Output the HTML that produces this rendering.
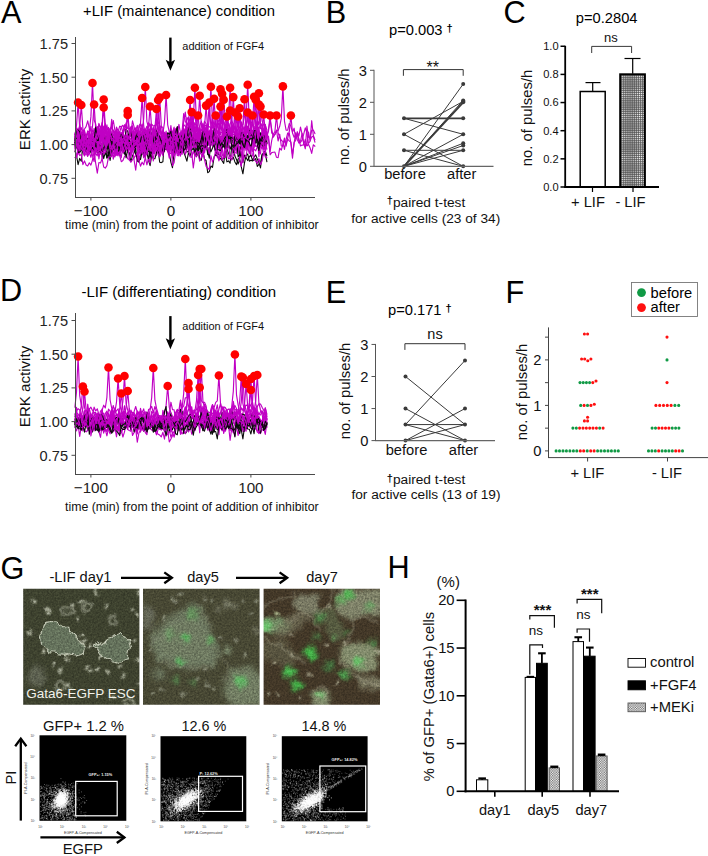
<!DOCTYPE html>
<html><head><meta charset="utf-8"><title>Figure</title>
<style>
html,body{margin:0;padding:0;background:#fff;}
svg{display:block;font-family:"Liberation Sans", Arial, Helvetica, sans-serif;}
</style></head><body>
<svg width="708" height="856" viewBox="0 0 708 856">
<defs>
<pattern id="hatch" width="2.1" height="2.1" patternUnits="userSpaceOnUse"><rect width="2.1" height="2.1" fill="#4c4c4c"/><rect x="0.5" y="0.5" width="1.15" height="1.15" fill="#fff"/></pattern>
<pattern id="hatch2" width="2.4" height="2.4" patternUnits="userSpaceOnUse"><rect width="2.4" height="2.4" fill="#fff"/><rect width="1.2" height="1.2" fill="#666"/><rect x="1.2" y="1.2" width="1.2" height="1.2" fill="#666"/></pattern>
</defs>
<rect width="708" height="856" fill="#fff"/>

<text x="1" y="22.8" font-size="30.7" text-anchor="start" fill="#000" >A</text>
<text x="83" y="15.5" font-size="14.8" text-anchor="start" fill="#000" >+LIF (maintenance) condition</text>
<g stroke-linejoin="round" stroke-linecap="round">
<polyline points="74.9,135.3 76.5,125.7 78.1,102.5 79.7,127.8 81.3,134.1 82.9,136.1 84.5,139.0 86.1,139.4 87.7,140.8 89.3,143.7 90.9,137.2 92.5,135.2 94.1,131.7 95.7,134.5 97.3,134.7 98.9,124.9 100.5,127.2 102.1,129.9 103.7,137.5 105.3,129.2 106.9,134.4 108.5,131.9 110.1,128.9 111.7,126.7 113.3,131.2 114.9,132.8 116.5,141.4 118.1,137.9 119.7,144.2 121.3,132.3 122.9,138.6 124.5,137.0 126.1,137.5 127.7,142.0 129.3,139.8 130.9,131.3 132.5,126.1 134.1,140.6 135.7,136.5 137.3,136.3 138.9,148.0 140.5,145.2 142.1,134.8 143.7,133.1 145.3,138.6 146.9,130.1 148.5,138.5 150.1,142.8 151.7,135.8 153.3,127.0 154.9,135.5 156.5,130.0 158.1,125.5 159.7,138.0 161.3,135.3 162.9,137.1 164.5,142.1 166.1,141.4 167.7,136.5 169.3,133.1 170.9,128.6 172.5,136.0 174.1,140.8 175.7,128.6 177.3,136.8 178.9,134.6 180.5,132.8 182.1,144.7 183.7,128.1 185.3,133.2 186.9,125.6 188.5,121.6 190.1,120.1 191.7,112.3 193.3,128.5 194.9,122.5 196.5,127.1 198.1,115.5 199.7,132.1 201.3,136.2 202.9,128.5 204.5,121.2 206.1,123.8 207.7,131.6 209.3,133.6 210.9,131.2 212.5,122.1 214.1,128.3 215.7,124.9 217.3,125.1 218.9,119.7 220.5,89.2 222.1,122.4 223.7,130.8 225.3,127.2 226.9,124.1 228.5,131.6 230.1,123.8 231.7,120.4 233.3,124.4 234.9,128.9 236.5,128.9 238.1,124.7 239.7,128.0 241.3,126.0 242.9,124.9 244.5,116.4 246.1,108.3 247.7,115.9 249.3,118.1 250.9,128.0 252.5,139.5 254.1,129.3 255.7,125.6 257.3,120.9 258.9,125.4 260.5,106.6 262.1,121.0 263.7,125.3 265.3,132.7 266.9,134.4 268.5,131.0 270.1,119.8 271.7,129.0 273.3,137.1 274.9,134.5 276.5,130.6 278.1,130.6 279.7,126.3 281.3,118.4 282.9,86.4 284.5,121.3 286.1,130.1 287.7,130.2 289.3,123.5 290.9,126.3 292.5,132.4 294.1,128.2 295.7,139.1 297.3,131.7 298.9,136.0 300.5,127.1 302.1,134.3 303.7,143.0 305.3,148.8 306.9,126.0 308.5,137.2 310.1,138.0 311.7,130.2 313.3,130.0 314.9,133.6" fill="none" stroke="#c000c4" stroke-width="1.15" />
<polyline points="74.9,143.4 76.5,139.0 78.1,135.9 79.7,126.8 81.3,105.0 82.9,128.8 84.5,134.7 86.1,138.7 87.7,155.7 89.3,153.7 90.9,140.0 92.5,146.0 94.1,140.6 95.7,133.1 97.3,136.8 98.9,148.8 100.5,154.2 102.1,148.9 103.7,136.3 105.3,138.8 106.9,140.2 108.5,144.2 110.1,140.6 111.7,148.1 113.3,159.2 114.9,151.4 116.5,152.7 118.1,149.9 119.7,141.8 121.3,138.3 122.9,133.7 124.5,140.2 126.1,140.6 127.7,138.0 129.3,142.9 130.9,141.3 132.5,145.1 134.1,141.2 135.7,137.6 137.3,146.0 138.9,154.3 140.5,145.2 142.1,147.8 143.7,142.2 145.3,143.4 146.9,134.0 148.5,142.6 150.1,142.1 151.7,144.1 153.3,146.0 154.9,137.0 156.5,155.4 158.1,146.8 159.7,139.2 161.3,137.0 162.9,147.1 164.5,140.8 166.1,147.7 167.7,136.0 169.3,142.5 170.9,139.9 172.5,147.4 174.1,153.0 175.7,146.1 177.3,143.4 178.9,148.8 180.5,156.2 182.1,143.8 183.7,137.6 185.3,130.6 186.9,144.5 188.5,144.2 190.1,140.4 191.7,135.8 193.3,137.7 194.9,139.6 196.5,148.0 198.1,150.8 199.7,152.9 201.3,150.9 202.9,136.0 204.5,127.0 206.1,105.6 207.7,129.0 209.3,134.6 210.9,132.2 212.5,142.4 214.1,132.4 215.7,141.9 217.3,131.8 218.9,133.4 220.5,121.7 222.1,93.7 223.7,124.2 225.3,131.9 226.9,136.7 228.5,147.3 230.1,148.9 231.7,143.7 233.3,146.4 234.9,140.4 236.5,135.5 238.1,146.8 239.7,148.7 241.3,149.3 242.9,137.0 244.5,142.4 246.1,144.4 247.7,146.5 249.3,142.6 250.9,156.5 252.5,156.0 254.1,145.3 255.7,138.7 257.3,138.1 258.9,156.7 260.5,138.0 262.1,131.1 263.7,114.5 265.3,132.6 266.9,137.1 268.5,138.9 270.1,154.8 271.7,152.6 273.3,152.2 274.9,152.1 276.5,157.3 278.1,157.7 279.7,148.2 281.3,150.1 282.9,144.3 284.5,138.0 286.1,146.1 287.7,138.2 289.3,131.5 290.9,115.5 292.5,133.0 294.1,137.3 295.7,134.9 297.3,134.2 298.9,138.8 300.5,145.9 302.1,145.1 303.7,144.9 305.3,139.3 306.9,146.0 308.5,144.3 310.1,147.9 311.7,153.4 313.3,144.8 314.9,146.2" fill="none" stroke="#c000c4" stroke-width="1.15" />
<polyline points="74.9,138.5 76.5,132.0 78.1,138.1 79.7,141.1 81.3,142.7 82.9,150.7 84.5,150.2 86.1,146.4 87.7,140.2 89.3,131.0 90.9,116.9 92.5,83.0 94.1,120.0 95.7,123.9 97.3,135.4 98.9,141.6 100.5,131.7 102.1,122.5 103.7,133.9 105.3,139.1 106.9,136.8 108.5,140.2 110.1,136.7 111.7,141.6 113.3,130.5 114.9,133.4 116.5,153.8 118.1,155.8 119.7,138.2 121.3,135.7 122.9,143.7 124.5,135.9 126.1,138.1 127.7,137.7 129.3,135.4 130.9,134.1 132.5,131.6 134.1,132.3 135.7,134.5 137.3,143.3 138.9,140.2 140.5,150.8 142.1,151.5 143.7,137.8 145.3,149.3 146.9,139.5 148.5,144.9 150.1,147.4 151.7,145.9 153.3,136.6 154.9,138.2 156.5,140.0 158.1,134.0 159.7,128.5 161.3,134.9 162.9,131.3 164.5,133.5 166.1,144.7 167.7,147.2 169.3,132.3 170.9,131.6 172.5,132.4 174.1,129.1 175.7,136.5 177.3,127.1 178.9,135.5 180.5,135.3 182.1,132.6 183.7,124.5 185.3,126.4 186.9,128.8 188.5,137.3 190.1,136.1 191.7,132.1 193.3,128.8 194.9,128.7 196.5,146.2 198.1,135.4 199.7,138.9 201.3,140.0 202.9,137.3 204.5,144.8 206.1,135.4 207.7,125.7 209.3,102.6 210.9,127.8 212.5,133.8 214.1,134.5 215.7,130.9 217.3,119.0 218.9,134.5 220.5,134.7 222.1,124.4 223.7,99.7 225.3,119.3 226.9,130.0 228.5,135.3 230.1,128.1 231.7,131.0 233.3,142.0 234.9,136.3 236.5,140.4 238.1,134.0 239.7,131.9 241.3,145.4 242.9,129.8 244.5,127.2 246.1,140.8 247.7,135.1 249.3,136.1 250.9,132.9 252.5,139.9 254.1,142.3 255.7,146.1 257.3,146.6 258.9,134.8 260.5,133.1 262.1,136.3 263.7,133.6 265.3,140.7 266.9,138.2 268.5,129.3 270.1,115.5 271.7,133.0 273.3,134.2 274.9,134.5 276.5,130.0 278.1,141.0 279.7,134.2 281.3,146.0 282.9,146.2 284.5,140.9 286.1,143.4 287.7,139.1 289.3,141.0 290.9,142.0 292.5,154.3 294.1,143.5 295.7,132.7 297.3,139.4 298.9,143.1 300.5,142.4 302.1,140.0 303.7,134.2 305.3,127.8 306.9,133.1 308.5,143.5 310.1,141.1 311.7,120.7 313.3,135.3 314.9,139.8" fill="none" stroke="#c000c4" stroke-width="1.15" />
<polyline points="74.9,141.8 76.5,137.9 78.1,131.3 79.7,142.5 81.3,140.1 82.9,141.0 84.5,138.5 86.1,145.8 87.7,146.9 89.3,144.1 90.9,135.8 92.5,126.6 94.1,104.5 95.7,128.6 97.3,134.6 98.9,133.5 100.5,142.4 102.1,144.7 103.7,139.0 105.3,147.4 106.9,142.3 108.5,134.3 110.1,143.1 111.7,146.5 113.3,141.3 114.9,134.2 116.5,139.5 118.1,132.5 119.7,139.8 121.3,135.3 122.9,141.3 124.5,146.3 126.1,147.8 127.7,147.1 129.3,138.6 130.9,139.0 132.5,137.6 134.1,140.2 135.7,141.3 137.3,136.8 138.9,143.2 140.5,138.2 142.1,133.4 143.7,133.1 145.3,138.5 146.9,133.3 148.5,129.3 150.1,136.3 151.7,140.7 153.3,135.5 154.9,144.2 156.5,140.7 158.1,151.4 159.7,148.7 161.3,145.1 162.9,142.8 164.5,138.5 166.1,133.7 167.7,136.8 169.3,143.7 170.9,138.1 172.5,137.7 174.1,143.0 175.7,142.9 177.3,145.8 178.9,152.1 180.5,142.1 182.1,131.8 183.7,136.5 185.3,142.1 186.9,144.3 188.5,137.4 190.1,130.0 191.7,112.1 193.3,131.6 194.9,134.9 196.5,127.7 198.1,136.6 199.7,138.2 201.3,144.6 202.9,134.6 204.5,134.4 206.1,133.3 207.7,138.7 209.3,137.2 210.9,134.1 212.5,123.9 214.1,98.7 215.7,126.2 217.3,133.1 218.9,127.5 220.5,106.6 222.1,125.7 223.7,135.1 225.3,134.1 226.9,129.7 228.5,122.7 230.1,136.1 231.7,135.9 233.3,130.4 234.9,134.2 236.5,133.9 238.1,133.2 239.7,133.6 241.3,121.8 242.9,130.8 244.5,146.1 246.1,148.5 247.7,136.7 249.3,137.6 250.9,132.7 252.5,139.2 254.1,143.1 255.7,135.8 257.3,126.6 258.9,104.6 260.5,128.6 262.1,128.3 263.7,136.6 265.3,138.0 266.9,134.8 268.5,136.4 270.1,151.6 271.7,140.6 273.3,134.2 274.9,131.5 276.5,115.5 278.1,133.0 279.7,137.3 281.3,140.2 282.9,141.6 284.5,149.4 286.1,139.5 287.7,133.0 289.3,133.4 290.9,143.7 292.5,158.2 294.1,142.3 295.7,140.3 297.3,133.6 298.9,141.1 300.5,141.3 302.1,133.3 303.7,144.0 305.3,145.3 306.9,145.2 308.5,132.1 310.1,140.7 311.7,136.9 313.3,136.2 314.9,142.2" fill="none" stroke="#c000c4" stroke-width="1.15" />
<polyline points="74.9,134.9 76.5,127.8 78.1,137.5 79.7,131.8 81.3,137.1 82.9,132.1 84.5,129.0 86.1,126.6 87.7,120.9 89.3,128.1 90.9,144.4 92.5,141.1 94.1,137.1 95.7,130.6 97.3,126.5 98.9,133.3 100.5,133.0 102.1,124.3 103.7,99.5 105.3,126.6 106.9,133.3 108.5,137.8 110.1,132.3 111.7,125.6 113.3,132.4 114.9,132.4 116.5,144.4 118.1,132.9 119.7,131.7 121.3,134.7 122.9,152.0 124.5,150.9 126.1,146.5 127.7,143.6 129.3,139.6 130.9,138.9 132.5,138.2 134.1,147.7 135.7,132.8 137.3,142.8 138.9,133.1 140.5,128.9 142.1,124.1 143.7,131.2 145.3,130.3 146.9,126.3 148.5,133.2 150.1,133.6 151.7,124.2 153.3,126.2 154.9,125.1 156.5,133.2 158.1,133.0 159.7,125.2 161.3,131.6 162.9,137.6 164.5,134.2 166.1,145.9 167.7,136.1 169.3,137.3 170.9,125.5 172.5,140.1 174.1,143.6 175.7,145.5 177.3,142.4 178.9,138.4 180.5,139.2 182.1,130.0 183.7,130.6 185.3,140.1 186.9,120.0 188.5,117.2 190.1,120.9 191.7,115.9 193.3,121.4 194.9,132.9 196.5,138.4 198.1,131.3 199.7,125.9 201.3,121.4 202.9,126.4 204.5,126.3 206.1,125.2 207.7,137.2 209.3,132.2 210.9,127.7 212.5,114.7 214.1,118.3 215.7,115.5 217.3,122.3 218.9,125.0 220.5,122.8 222.1,123.6 223.7,120.6 225.3,126.1 226.9,121.8 228.5,124.0 230.1,127.2 231.7,134.6 233.3,138.4 234.9,133.5 236.5,120.2 238.1,125.4 239.7,132.4 241.3,136.2 242.9,133.1 244.5,136.1 246.1,126.6 247.7,119.1 249.3,114.8 250.9,121.2 252.5,124.8 254.1,131.7 255.7,128.3 257.3,132.7 258.9,136.7 260.5,137.4 262.1,141.7 263.7,130.0 265.3,125.1 266.9,130.0" fill="none" stroke="#c000c4" stroke-width="1.15" />
<polyline points="74.9,144.3 76.5,135.0 78.1,139.2 79.7,146.6 81.3,143.0 82.9,152.2 84.5,146.6 86.1,140.0 87.7,149.8 89.3,153.4 90.9,147.7 92.5,133.5 94.1,144.9 95.7,138.8 97.3,134.2 98.9,141.8 100.5,136.4 102.1,127.9 103.7,107.5 105.3,129.8 106.9,135.3 108.5,139.0 110.1,148.9 111.7,156.1 113.3,148.1 114.9,144.5 116.5,146.0 118.1,143.3 119.7,155.6 121.3,147.2 122.9,144.4 124.5,143.6 126.1,136.0 127.7,142.8 129.3,149.0 130.9,145.9 132.5,141.4 134.1,148.9 135.7,145.6 137.3,144.5 138.9,134.0 140.5,131.3 142.1,146.9 143.7,146.2 145.3,151.5 146.9,146.3 148.5,146.7 150.1,159.7 151.7,138.8 153.3,132.1 154.9,146.0 156.5,138.2 158.1,133.1 159.7,142.1 161.3,139.5 162.9,147.3 164.5,139.9 166.1,143.2 167.7,134.0 169.3,141.8 170.9,143.8 172.5,148.8 174.1,143.2 175.7,138.5 177.3,148.9 178.9,146.0 180.5,147.5 182.1,154.5 183.7,142.4 185.3,136.3 186.9,137.3 188.5,144.8 190.1,134.2 191.7,142.1 193.3,140.4 194.9,139.7 196.5,143.4 198.1,146.8 199.7,134.3 201.3,132.6 202.9,132.6 204.5,133.2 206.1,143.1 207.7,134.0 209.3,145.1 210.9,143.8 212.5,146.2 214.1,138.6 215.7,142.1 217.3,136.8 218.9,147.2 220.5,137.5 222.1,136.4 223.7,136.2 225.3,132.0 226.9,116.5 228.5,133.4 230.1,137.6 231.7,140.4 233.3,144.8 234.9,140.2 236.5,151.3 238.1,145.6 239.7,141.3 241.3,140.1 242.9,138.5 244.5,146.3 246.1,132.0 247.7,145.3 249.3,129.6 250.9,134.4 252.5,150.4 254.1,149.4 255.7,150.8 257.3,147.0 258.9,138.0 260.5,138.6 262.1,136.0 263.7,130.1 265.3,142.8 266.9,142.8" fill="none" stroke="#c000c4" stroke-width="1.15" />
<polyline points="74.9,137.1 76.5,129.6 78.1,141.1 79.7,132.1 81.3,137.5 82.9,146.9 84.5,155.5 86.1,142.5 87.7,144.6 89.3,140.9 90.9,134.2 92.5,136.9 94.1,128.3 95.7,132.5 97.3,133.2 98.9,127.0 100.5,133.5 102.1,141.6 103.7,126.2 105.3,133.1 106.9,124.8 108.5,135.3 110.1,131.5 111.7,127.0 113.3,120.5 114.9,130.2 116.5,136.5 118.1,140.3 119.7,132.2 121.3,126.7 122.9,125.3 124.5,129.8 126.1,129.5 127.7,111.0 129.3,131.2 130.9,133.8 132.5,135.4 134.1,143.8 135.7,128.9 137.3,132.6 138.9,144.1 140.5,151.7 142.1,143.5 143.7,149.8 145.3,152.8 146.9,142.9 148.5,136.9 150.1,139.8 151.7,149.0 153.3,147.5 154.9,144.8 156.5,142.9 158.1,142.4 159.7,142.9 161.3,135.4 162.9,138.9 164.5,144.2 166.1,141.8 167.7,138.9 169.3,145.9 170.9,140.9 172.5,137.2 174.1,137.8 175.7,131.8 177.3,127.3 178.9,143.9 180.5,141.7 182.1,143.5 183.7,134.1 185.3,131.7 186.9,135.0 188.5,139.2 190.1,134.7 191.7,135.0 193.3,136.4 194.9,132.4 196.5,130.1 198.1,127.7 199.7,137.4 201.3,139.5 202.9,139.2 204.5,129.4 206.1,127.2 207.7,141.7 209.3,135.1 210.9,133.8 212.5,134.0 214.1,136.0 215.7,155.0 217.3,151.2 218.9,154.1 220.5,136.5 222.1,136.1 223.7,131.4 225.3,132.6 226.9,132.1 228.5,119.0 230.1,87.8 231.7,121.9 233.3,130.4 234.9,136.1 236.5,133.3 238.1,137.6 239.7,138.4 241.3,136.0 242.9,140.6 244.5,144.3 246.1,150.6 247.7,139.1 249.3,141.6 250.9,134.5 252.5,131.4 254.1,138.2 255.7,133.9 257.3,133.0 258.9,126.6 260.5,142.6 262.1,140.6 263.7,131.7 265.3,139.3 266.9,139.3" fill="none" stroke="#c000c4" stroke-width="1.15" />
<polyline points="74.9,143.9 76.5,135.3 78.1,151.0 79.7,149.7 81.3,136.9 82.9,145.1 84.5,145.0 86.1,140.6 87.7,143.6 89.3,142.3 90.9,141.1 92.5,139.8 94.1,144.5 95.7,140.7 97.3,138.4 98.9,137.2 100.5,147.9 102.1,142.3 103.7,138.7 105.3,145.8 106.9,146.4 108.5,147.0 110.1,155.6 111.7,149.2 113.3,144.2 114.9,145.9 116.5,148.1 118.1,147.1 119.7,152.5 121.3,151.0 122.9,148.5 124.5,138.1 126.1,131.3 127.7,115.0 129.3,132.8 130.9,135.6 132.5,139.7 134.1,144.6 135.7,139.0 137.3,140.7 138.9,136.4 140.5,133.8 142.1,138.7 143.7,145.7 145.3,141.2 146.9,141.0 148.5,145.3 150.1,146.6 151.7,147.5 153.3,139.5 154.9,129.6 156.5,138.3 158.1,150.1 159.7,155.9 161.3,146.7 162.9,140.7 164.5,143.2 166.1,135.3 167.7,144.4 169.3,143.0 170.9,143.7 172.5,153.6 174.1,144.7 175.7,146.1 177.3,144.0 178.9,149.1 180.5,145.1 182.1,145.6 183.7,149.9 185.3,149.8 186.9,146.5 188.5,146.5 190.1,149.5 191.7,139.6 193.3,144.0 194.9,137.9 196.5,144.2 198.1,133.4 199.7,139.3 201.3,141.4 202.9,144.0 204.5,153.2 206.1,143.4 207.7,136.9 209.3,136.1 210.9,137.4 212.5,141.1 214.1,140.8 215.7,141.0 217.3,143.5 218.9,137.7 220.5,150.0 222.1,137.8 223.7,130.7 225.3,139.2 226.9,150.2 228.5,144.8 230.1,134.2 231.7,123.2 233.3,97.1 234.9,125.6 236.5,132.7 238.1,137.5 239.7,158.6 241.3,140.9 242.9,150.3 244.5,142.0 246.1,134.9 247.7,140.9 249.3,142.1 250.9,154.2 252.5,134.0 254.1,146.0 255.7,146.0 257.3,145.8 258.9,143.5 260.5,141.6 262.1,145.7 263.7,147.6 265.3,135.9 266.9,143.3" fill="none" stroke="#c000c4" stroke-width="1.15" />
<polyline points="74.9,139.0 76.5,148.4 78.1,139.8 79.7,126.5 81.3,135.7 82.9,141.5 84.5,130.4 86.1,137.5 87.7,130.8 89.3,136.5 90.9,140.7 92.5,129.9 94.1,133.7 95.7,142.1 97.3,150.6 98.9,145.6 100.5,141.4 102.1,134.3 103.7,142.1 105.3,142.9 106.9,138.3 108.5,135.7 110.1,142.6 111.7,136.5 113.3,139.6 114.9,146.4 116.5,130.9 118.1,142.1 119.7,132.9 121.3,135.7 122.9,134.6 124.5,140.8 126.1,139.0 127.7,137.3 129.3,137.0 130.9,126.7 132.5,125.9 134.1,136.6 135.7,142.4 137.3,147.0 138.9,125.9 140.5,123.6 142.1,98.0 143.7,126.0 145.3,133.0 146.9,137.6 148.5,135.7 150.1,138.9 151.7,138.1 153.3,139.3 154.9,141.0 156.5,145.1 158.1,135.7 159.7,136.9 161.3,143.1 162.9,143.0 164.5,134.3 166.1,144.1 167.7,140.1 169.3,134.8 170.9,133.3 172.5,135.1 174.1,131.2 175.7,133.6 177.3,147.6 178.9,147.2 180.5,144.5 182.1,142.9 183.7,140.8 185.3,132.1 186.9,117.7 188.5,118.7 190.1,131.5 191.7,130.8 193.3,120.2 194.9,115.6 196.5,127.3 198.1,130.7 199.7,132.2 201.3,138.9 202.9,123.5 204.5,132.1 206.1,142.2 207.7,131.6 209.3,138.4 210.9,128.1 212.5,127.5 214.1,119.5 215.7,137.3 217.3,133.4 218.9,129.1 220.5,124.6 222.1,119.2 223.7,122.5 225.3,128.0 226.9,124.8 228.5,116.6 230.1,110.5 231.7,131.0 233.3,127.1 234.9,127.4 236.5,128.8 238.1,131.3 239.7,133.0 241.3,130.2 242.9,126.1 244.5,131.7 246.1,124.7 247.7,118.3 249.3,110.3 250.9,127.1 252.5,124.2 254.1,126.6 255.7,127.9 257.3,120.5 258.9,122.9 260.5,123.0 262.1,125.2 263.7,129.6 265.3,135.0 266.9,130.8" fill="none" stroke="#c000c4" stroke-width="1.15" />
<polyline points="74.9,139.1 76.5,144.5 78.1,152.4 79.7,148.0 81.3,135.5 82.9,136.6 84.5,134.4 86.1,147.1 87.7,139.9 89.3,135.7 90.9,126.4 92.5,141.6 94.1,145.6 95.7,146.5 97.3,143.6 98.9,153.2 100.5,134.9 102.1,138.2 103.7,135.9 105.3,144.2 106.9,147.7 108.5,143.7 110.1,148.6 111.7,133.1 113.3,141.9 114.9,146.6 116.5,134.6 118.1,138.5 119.7,144.5 121.3,146.5 122.9,142.8 124.5,147.1 126.1,146.1 127.7,146.9 129.3,140.6 130.9,149.5 132.5,146.0 134.1,131.5 135.7,133.3 137.3,134.5 138.9,128.7 140.5,123.6 142.1,131.9 143.7,118.7 145.3,87.0 146.9,121.6 148.5,127.4 150.1,123.9 151.7,129.9 153.3,128.3 154.9,140.7 156.5,144.8 158.1,149.6 159.7,141.7 161.3,141.6 162.9,144.2 164.5,138.3 166.1,135.1 167.7,147.7 169.3,152.7 170.9,138.4 172.5,143.9 174.1,154.3 175.7,149.8 177.3,138.3 178.9,135.8 180.5,134.8 182.1,135.9 183.7,139.8 185.3,144.3 186.9,138.5 188.5,127.8 190.1,120.8 191.7,131.2 193.3,128.0 194.9,132.1 196.5,134.9 198.1,143.5 199.7,140.7 201.3,145.1 202.9,137.6 204.5,138.2 206.1,143.6 207.7,132.8 209.3,144.1 210.9,132.8 212.5,140.2 214.1,146.1 215.7,153.2 217.3,146.3 218.9,148.0 220.5,147.4 222.1,134.0 223.7,136.3 225.3,124.7 226.9,124.7 228.5,135.5 230.1,143.6 231.7,135.2 233.3,130.2 234.9,112.5 236.5,131.8 238.1,136.6 239.7,132.6 241.3,132.3 242.9,135.5 244.5,130.8 246.1,138.8 247.7,149.5 249.3,137.8 250.9,136.5 252.5,144.2 254.1,142.3 255.7,140.7 257.3,140.9 258.9,150.4 260.5,145.8 262.1,139.7 263.7,141.1 265.3,145.4 266.9,139.0" fill="none" stroke="#c000c4" stroke-width="1.15" />
<polyline points="74.9,145.7 76.5,142.1 78.1,146.0 79.7,153.1 81.3,142.9 82.9,152.5 84.5,156.0 86.1,153.0 87.7,148.3 89.3,153.4 90.9,147.3 92.5,150.3 94.1,141.7 95.7,139.8 97.3,139.9 98.9,141.0 100.5,141.3 102.1,136.3 103.7,141.6 105.3,149.6 106.9,151.6 108.5,154.0 110.1,147.6 111.7,153.0 113.3,150.9 114.9,147.7 116.5,129.2 118.1,138.7 119.7,140.4 121.3,148.2 122.9,136.6 124.5,149.0 126.1,140.4 127.7,141.3 129.3,148.9 130.9,140.0 132.5,145.9 134.1,145.5 135.7,149.8 137.3,140.1 138.9,149.9 140.5,138.9 142.1,146.9 143.7,146.7 145.3,139.8 146.9,136.2 148.5,127.5 150.1,106.5 151.7,129.4 153.3,135.1 154.9,138.9 156.5,148.7 158.1,141.9 159.7,149.4 161.3,146.7 162.9,149.8 164.5,151.7 166.1,139.1 167.7,151.1 169.3,141.1 170.9,137.7 172.5,143.7 174.1,140.3 175.7,146.1 177.3,155.6 178.9,154.3 180.5,148.5 182.1,142.6 183.7,128.8 185.3,139.3 186.9,144.8 188.5,141.6 190.1,133.8 191.7,138.5 193.3,144.7 194.9,145.9 196.5,136.0 198.1,139.3 199.7,137.5 201.3,124.4 202.9,128.9 204.5,137.0 206.1,139.7 207.7,136.2 209.3,134.8 210.9,131.5 212.5,135.9 214.1,132.0 215.7,130.9 217.3,138.5 218.9,139.2 220.5,132.4 222.1,132.7 223.7,140.4 225.3,142.5 226.9,139.6 228.5,141.5 230.1,139.2 231.7,137.9 233.3,139.9 234.9,138.1 236.5,134.2 238.1,128.2 239.7,108.2 241.3,130.0 242.9,135.5 244.5,138.6 246.1,133.9 247.7,126.3 249.3,128.8 250.9,132.4 252.5,141.3 254.1,137.1 255.7,132.4 257.3,135.0 258.9,142.2 260.5,139.9 262.1,138.8 263.7,142.4 265.3,130.1 266.9,140.0" fill="none" stroke="#c000c4" stroke-width="1.15" />
<polyline points="74.9,138.8 76.5,133.1 78.1,146.5 79.7,137.5 81.3,132.1 82.9,142.2 84.5,132.0 86.1,143.1 87.7,145.4 89.3,147.9 90.9,138.3 92.5,136.3 94.1,137.6 95.7,137.5 97.3,130.4 98.9,136.0 100.5,144.2 102.1,135.4 103.7,133.4 105.3,123.5 106.9,138.7 108.5,138.5 110.1,145.7 111.7,146.1 113.3,145.8 114.9,133.6 116.5,138.3 118.1,142.8 119.7,143.6 121.3,137.8 122.9,137.4 124.5,137.7 126.1,135.6 127.7,136.7 129.3,143.9 130.9,148.4 132.5,150.2 134.1,144.7 135.7,144.4 137.3,143.7 138.9,145.2 140.5,141.7 142.1,138.4 143.7,134.1 145.3,129.0 146.9,145.5 148.5,139.7 150.1,136.2 151.7,140.8 153.3,136.8 154.9,128.6 156.5,109.0 158.1,130.4 159.7,132.5 161.3,135.5 162.9,131.6 164.5,136.4 166.1,139.7 167.7,144.7 169.3,150.4 170.9,138.6 172.5,155.0 174.1,149.6 175.7,142.1 177.3,138.8 178.9,143.9 180.5,140.3 182.1,148.0 183.7,129.9 185.3,130.7 186.9,134.6 188.5,134.0 190.1,143.1 191.7,149.4 193.3,130.8 194.9,137.5 196.5,138.9 198.1,138.4 199.7,128.4 201.3,136.8 202.9,138.6 204.5,130.9 206.1,128.1 207.7,126.4 209.3,126.7 210.9,127.8 212.5,130.8 214.1,133.2 215.7,134.9 217.3,138.0 218.9,139.1 220.5,125.1 222.1,130.9 223.7,136.6 225.3,145.3 226.9,132.1 228.5,141.0 230.1,133.9 231.7,131.3 233.3,123.8 234.9,129.9 236.5,132.0 238.1,116.5 239.7,133.4 241.3,137.6 242.9,138.4 244.5,134.9 246.1,135.3 247.7,131.4 249.3,131.8 250.9,133.9 252.5,130.2 254.1,132.3 255.7,140.8 257.3,131.0 258.9,137.2 260.5,146.2 262.1,148.9 263.7,139.6 265.3,124.4 266.9,136.6" fill="none" stroke="#c000c4" stroke-width="1.15" />
<polyline points="74.9,136.3 76.5,135.1 78.1,128.0 79.7,144.2 81.3,136.5 82.9,132.3 84.5,136.4 86.1,142.5 87.7,143.7 89.3,146.6 90.9,151.2 92.5,143.3 94.1,153.3 95.7,154.0 97.3,141.6 98.9,129.4 100.5,135.4 102.1,125.8 103.7,128.5 105.3,124.8 106.9,133.9 108.5,131.6 110.1,145.8 111.7,142.3 113.3,140.2 114.9,135.4 116.5,127.0 118.1,131.0 119.7,141.0 121.3,134.8 122.9,134.7 124.5,129.7 126.1,122.8 127.7,128.7 129.3,128.7 130.9,127.4 132.5,134.9 134.1,140.4 135.7,130.4 137.3,125.3 138.9,139.0 140.5,140.6 142.1,141.5 143.7,139.6 145.3,131.8 146.9,137.4 148.5,132.1 150.1,130.1 151.7,133.9 153.3,136.7 154.9,132.3 156.5,124.5 158.1,100.0 159.7,126.8 161.3,133.5 162.9,132.8 164.5,132.4 166.1,136.4 167.7,137.8 169.3,135.4 170.9,134.4 172.5,140.2 174.1,136.7 175.7,139.8 177.3,134.8 178.9,124.3 180.5,132.9 182.1,137.4 183.7,137.0 185.3,135.0 186.9,128.2 188.5,142.5 190.1,126.1 191.7,122.4 193.3,126.9 194.9,128.1 196.5,131.1 198.1,133.2 199.7,134.1 201.3,129.3 202.9,129.0 204.5,134.5 206.1,132.8 207.7,137.6 209.3,131.3 210.9,129.5 212.5,127.7 214.1,127.9 215.7,130.3 217.3,124.5 218.9,123.3 220.5,129.0 222.1,128.7 223.7,141.5 225.3,147.0 226.9,139.6 228.5,144.0 230.1,135.7 231.7,138.1 233.3,125.3 234.9,137.4 236.5,135.5 238.1,143.7 239.7,132.5 241.3,134.6 242.9,124.2 244.5,99.3 246.1,126.5 247.7,133.3 249.3,118.4 250.9,127.2 252.5,135.6 254.1,145.4 255.7,142.7 257.3,126.6 258.9,128.6 260.5,124.8 262.1,126.2 263.7,135.3 265.3,139.6 266.9,134.4" fill="none" stroke="#c000c4" stroke-width="1.15" />
<polyline points="74.9,145.0 76.5,147.1 78.1,142.9 79.7,147.7 81.3,149.4 82.9,147.0 84.5,146.4 86.1,142.3 87.7,145.8 89.3,152.6 90.9,147.4 92.5,145.0 94.1,150.8 95.7,144.2 97.3,140.5 98.9,135.1 100.5,152.4 102.1,147.3 103.7,148.3 105.3,145.0 106.9,158.1 108.5,155.9 110.1,143.4 111.7,141.5 113.3,149.9 114.9,147.4 116.5,148.8 118.1,142.9 119.7,147.3 121.3,140.6 122.9,137.0 124.5,138.2 126.1,137.9 127.7,147.0 129.3,138.5 130.9,154.5 132.5,149.7 134.1,143.5 135.7,155.1 137.3,158.8 138.9,162.3 140.5,154.8 142.1,147.8 143.7,142.9 145.3,155.9 146.9,149.9 148.5,151.5 150.1,151.4 151.7,146.1 153.3,149.8 154.9,146.1 156.5,146.7 158.1,145.3 159.7,141.5 161.3,140.7 162.9,154.5 164.5,149.7 166.1,148.4 167.7,140.9 169.3,135.8 170.9,148.1 172.5,149.8 174.1,152.0 175.7,152.0 177.3,144.2 178.9,135.8 180.5,143.0 182.1,141.0 183.7,130.8 185.3,145.0 186.9,152.1 188.5,151.4 190.1,139.5 191.7,138.1 193.3,137.4 194.9,143.2 196.5,155.6 198.1,154.0 199.7,145.5 201.3,146.0 202.9,135.5 204.5,147.4 206.1,142.0 207.7,154.8 209.3,147.2 210.9,151.7 212.5,148.0 214.1,144.7 215.7,152.1 217.3,153.5 218.9,154.6 220.5,155.6 222.1,159.4 223.7,157.8 225.3,157.0 226.9,149.4 228.5,153.3 230.1,156.8 231.7,159.7 233.3,157.3 234.9,161.9 236.5,164.7 238.1,159.0 239.7,158.2 241.3,152.4 242.9,162.5 244.5,155.1 246.1,157.5 247.7,160.6 249.3,156.7 250.9,155.1 252.5,160.3 254.1,157.1 255.7,154.9 257.3,159.0 258.9,162.5 260.5,167.9 262.1,155.6 263.7,152.6 265.3,150.9 266.9,155.8" fill="none" stroke="#0a0a0a" stroke-width="1.1" />
<polyline points="74.9,146.4 76.5,146.0 78.1,154.0 79.7,148.4 81.3,147.2 82.9,140.1 84.5,140.0 86.1,153.3 87.7,156.5 89.3,147.3 90.9,146.1 92.5,142.5 94.1,142.1 95.7,142.0 97.3,142.0 98.9,140.9 100.5,144.2 102.1,159.4 103.7,148.2 105.3,149.2 106.9,141.7 108.5,140.8 110.1,146.1 111.7,152.0 113.3,155.5 114.9,156.9 116.5,148.8 118.1,154.7 119.7,140.4 121.3,144.2 122.9,149.2 124.5,154.2 126.1,142.7 127.7,150.6 129.3,140.9 130.9,147.2 132.5,146.9 134.1,150.7 135.7,140.7 137.3,147.5 138.9,144.1 140.5,151.0 142.1,153.7 143.7,135.7 145.3,129.3 146.9,138.2 148.5,138.8 150.1,154.2 151.7,143.9 153.3,147.1 154.9,149.3 156.5,134.2 158.1,123.4 159.7,97.5 161.3,125.8 162.9,132.8 164.5,137.5 166.1,149.0 167.7,151.3 169.3,148.9 170.9,137.3 172.5,132.4 174.1,127.1 175.7,146.4 177.3,141.9 178.9,146.1 180.5,140.5 182.1,148.7 183.7,141.5 185.3,143.9 186.9,139.8 188.5,141.0 190.1,146.2 191.7,140.5 193.3,132.5 194.9,148.2 196.5,143.5 198.1,138.4 199.7,146.2 201.3,151.4 202.9,150.7 204.5,139.9 206.1,127.9 207.7,142.5 209.3,137.4 210.9,143.2 212.5,132.1 214.1,129.7 215.7,133.2 217.3,135.9 218.9,141.9 220.5,142.1 222.1,149.7 223.7,138.8 225.3,138.9 226.9,126.8 228.5,140.1 230.1,139.0 231.7,138.4 233.3,127.3 234.9,126.7 236.5,141.0 238.1,132.7 239.7,142.4 241.3,134.5 242.9,140.8 244.5,128.8 246.1,117.7 247.7,84.8 249.3,120.7 250.9,129.6 252.5,135.6 254.1,139.3 255.7,140.5 257.3,139.6 258.9,133.8 260.5,141.9 262.1,142.1 263.7,155.2 265.3,152.1 266.9,141.3" fill="none" stroke="#c000c4" stroke-width="1.15" />
<polyline points="74.9,151.0 76.5,155.4 78.1,164.7 79.7,158.4 81.3,161.2 82.9,144.0 84.5,145.9 86.1,149.2 87.7,140.6 89.3,144.2 90.9,153.0 92.5,141.0 94.1,144.8 95.7,150.6 97.3,148.2 98.9,150.4 100.5,151.1 102.1,149.3 103.7,158.6 105.3,152.4 106.9,157.7 108.5,152.4 110.1,160.5 111.7,151.5 113.3,145.4 114.9,149.6 116.5,150.6 118.1,153.4 119.7,145.2 121.3,149.9 122.9,147.5 124.5,141.8 126.1,143.0 127.7,152.1 129.3,152.5 130.9,161.6 132.5,155.7 134.1,152.8 135.7,148.3 137.3,161.5 138.9,156.5 140.5,159.6 142.1,151.9 143.7,154.0 145.3,157.2 146.9,144.5 148.5,160.4 150.1,165.7 151.7,155.3 153.3,158.8 154.9,158.8 156.5,152.4 158.1,150.1 159.7,162.3 161.3,162.6 162.9,161.8 164.5,140.4 166.1,142.0 167.7,141.5 169.3,153.5 170.9,162.3 172.5,167.8 174.1,151.6 175.7,132.6 177.3,126.6 178.9,149.3 180.5,137.5 182.1,134.8 183.7,152.2 185.3,156.3 186.9,161.2 188.5,152.7 190.1,156.1 191.7,150.1 193.3,148.1 194.9,153.2 196.5,156.8 198.1,146.3 199.7,159.4 201.3,160.2 202.9,150.5 204.5,159.2 206.1,160.5 207.7,172.7 209.3,171.6 210.9,166.0 212.5,167.4 214.1,156.9 215.7,154.6 217.3,156.3 218.9,159.3 220.5,158.4 222.1,160.8 223.7,163.4 225.3,151.1 226.9,161.9 228.5,160.9 230.1,163.2 231.7,146.2 233.3,146.3 234.9,156.1 236.5,159.5 238.1,164.0 239.7,159.2 241.3,166.9 242.9,173.8 244.5,162.8 246.1,155.4 247.7,154.0 249.3,161.2 250.9,160.2 252.5,161.0 254.1,159.7 255.7,158.6 257.3,166.4 258.9,164.3 260.5,163.0 262.1,154.1 263.7,154.4 265.3,153.4 266.9,161.8" fill="none" stroke="#0a0a0a" stroke-width="1.1" />
<polyline points="74.9,157.5 76.5,157.5 78.1,151.9 79.7,155.6 81.3,154.6 82.9,164.6 84.5,160.9 86.1,165.0 87.7,166.0 89.3,162.8 90.9,165.1 92.5,160.0 94.1,151.3 95.7,163.3 97.3,173.2 98.9,162.5 100.5,163.0 102.1,158.7 103.7,167.0 105.3,168.1 106.9,165.6 108.5,157.2 110.1,156.9 111.7,156.2 113.3,152.4 114.9,154.1 116.5,150.5 118.1,153.2 119.7,155.6 121.3,161.7 122.9,160.5 124.5,156.5 126.1,154.0 127.7,158.7 129.3,159.6 130.9,162.3 132.5,159.6 134.1,157.7 135.7,155.4 137.3,152.4 138.9,160.3 140.5,166.2 142.1,162.2 143.7,164.8 145.3,157.3 146.9,164.8 148.5,158.0 150.1,163.2 151.7,147.7 153.3,161.0 154.9,147.9 156.5,148.9 158.1,154.1 159.7,157.0 161.3,153.0 162.9,133.7 164.5,122.3 166.1,95.0 167.7,124.8 169.3,132.2 170.9,137.2 172.5,165.6 174.1,162.8 175.7,150.6 177.3,153.6 178.9,152.8 180.5,154.5 182.1,151.7 183.7,144.0 185.3,154.4 186.9,150.0 188.5,144.2 190.1,148.4 191.7,152.4 193.3,168.0 194.9,155.5 196.5,149.7 198.1,153.7 199.7,161.1 201.3,157.2 202.9,151.3 204.5,159.6 206.1,166.3 207.7,168.0 209.3,169.5 210.9,155.7 212.5,162.1 214.1,157.7 215.7,150.7 217.3,149.8 218.9,160.9 220.5,152.2 222.1,160.2 223.7,155.8 225.3,143.3 226.9,151.6 228.5,158.8 230.1,157.9 231.7,160.0 233.3,155.1 234.9,152.4 236.5,153.3 238.1,145.6 239.7,160.4 241.3,166.3 242.9,148.9 244.5,137.5 246.1,130.2 247.7,112.5 249.3,131.8 250.9,136.6 252.5,139.8 254.1,159.9 255.7,161.1 257.3,163.3 258.9,158.6 260.5,164.7 262.1,160.8 263.7,151.9 265.3,156.7 266.9,157.7" fill="none" stroke="#c000c4" stroke-width="1.15" />
<polyline points="74.9,143.0 76.5,137.7 78.1,152.5 79.7,152.0 81.3,150.5 82.9,142.0 84.5,142.8 86.1,141.2 87.7,141.7 89.3,143.9 90.9,144.8 92.5,137.5 94.1,138.4 95.7,135.8 97.3,133.9 98.9,141.5 100.5,150.4 102.1,144.6 103.7,140.3 105.3,138.6 106.9,142.0 108.5,155.5 110.1,151.1 111.7,143.4 113.3,142.1 114.9,146.2 116.5,148.2 118.1,147.9 119.7,137.0 121.3,146.4 122.9,150.3 124.5,154.1 126.1,149.3 127.7,144.7 129.3,141.8 130.9,144.0 132.5,142.3 134.1,145.9 135.7,146.7 137.3,143.5 138.9,140.1 140.5,154.6 142.1,154.2 143.7,151.9 145.3,152.8 146.9,146.2 148.5,145.4 150.1,157.0 151.7,152.2 153.3,148.9 154.9,146.4 156.5,144.5 158.1,142.4 159.7,151.7 161.3,143.3 162.9,145.7 164.5,145.9 166.1,149.2 167.7,136.4 169.3,142.1 170.9,145.4 172.5,138.3 174.1,133.9 175.7,145.2 177.3,151.1 178.9,151.9 180.5,152.4 182.1,144.4 183.7,146.9 185.3,142.1 186.9,142.8 188.5,148.0 190.1,135.1 191.7,141.2 193.3,145.9 194.9,142.6 196.5,141.9 198.1,143.1 199.7,144.0 201.3,152.9 202.9,146.9 204.5,147.9 206.1,146.7 207.7,151.4 209.3,158.1 210.9,141.9 212.5,142.3 214.1,144.0 215.7,143.9 217.3,148.8 218.9,137.8 220.5,140.8 222.1,143.6 223.7,147.1 225.3,139.8 226.9,147.3 228.5,136.8 230.1,139.6 231.7,137.0 233.3,142.7 234.9,135.3 236.5,139.1 238.1,156.9 239.7,154.6 241.3,135.9 242.9,145.0 244.5,147.6 246.1,138.4 247.7,137.7 249.3,130.7 250.9,135.6 252.5,133.9 254.1,132.7 255.7,142.9 257.3,141.4 258.9,143.2 260.5,143.5 262.1,145.2 263.7,146.8 265.3,144.4 266.9,143.0" fill="none" stroke="#0a0a0a" stroke-width="1.1" />
<polyline points="74.9,148.1 76.5,157.8 78.1,147.7 79.7,144.5 81.3,148.1 82.9,151.0 84.5,149.8 86.1,145.9 87.7,138.5 89.3,152.3 90.9,157.3 92.5,150.6 94.1,151.0 95.7,152.8 97.3,143.7 98.9,151.1 100.5,142.9 102.1,149.5 103.7,140.7 105.3,138.4 106.9,145.2 108.5,143.3 110.1,148.2 111.7,149.0 113.3,142.9 114.9,149.7 116.5,150.2 118.1,152.4 119.7,153.1 121.3,157.8 122.9,144.8 124.5,139.9 126.1,148.5 127.7,152.0 129.3,141.6 130.9,151.7 132.5,144.0 134.1,146.5 135.7,139.7 137.3,144.3 138.9,143.9 140.5,144.0 142.1,153.5 143.7,150.1 145.3,155.1 146.9,153.3 148.5,145.3 150.1,149.6 151.7,149.5 153.3,153.4 154.9,153.5 156.5,141.9 158.1,140.6 159.7,147.9 161.3,150.3 162.9,147.7 164.5,142.1 166.1,143.8 167.7,150.2 169.3,158.2 170.9,139.2 172.5,145.4 174.1,142.9 175.7,144.4 177.3,138.2 178.9,143.7 180.5,145.2 182.1,150.0 183.7,144.5 185.3,142.8 186.9,143.2 188.5,145.9 190.1,151.4 191.7,132.1 193.3,119.0 194.9,87.8 196.5,121.9 198.1,130.4 199.7,136.1 201.3,147.3 202.9,147.0 204.5,147.4 206.1,149.3 207.7,145.0 209.3,141.5 210.9,143.8 212.5,134.8 214.1,130.4 215.7,139.6 217.3,138.3 218.9,148.2 220.5,144.7 222.1,154.3 223.7,157.8 225.3,146.6 226.9,139.8 228.5,139.8 230.1,139.9 231.7,138.9 233.3,140.1 234.9,151.6 236.5,143.2 238.1,145.4 239.7,147.1 241.3,144.0 242.9,162.8 244.5,146.6 246.1,141.9 247.7,149.2 249.3,131.8 250.9,131.5 252.5,115.5 254.1,133.0 255.7,137.3 257.3,140.2 258.9,151.2 260.5,154.0 262.1,135.3 263.7,149.7 265.3,147.3 266.9,144.8" fill="none" stroke="#c000c4" stroke-width="1.15" />
<polyline points="74.9,143.0 76.5,145.5 78.1,149.0 79.7,144.5 81.3,136.5 82.9,132.8 84.5,134.4 86.1,140.6 87.7,138.4 89.3,137.5 90.9,146.9 92.5,148.5 94.1,140.2 95.7,127.0 97.3,140.5 98.9,140.0 100.5,145.7 102.1,149.4 103.7,149.3 105.3,135.2 106.9,136.6 108.5,149.0 110.1,139.6 111.7,143.3 113.3,138.1 114.9,139.8 116.5,148.1 118.1,142.0 119.7,150.6 121.3,144.9 122.9,145.0 124.5,143.0 126.1,129.3 127.7,131.4 129.3,138.2 130.9,131.3 132.5,141.7 134.1,147.6 135.7,140.5 137.3,134.5 138.9,138.0 140.5,134.2 142.1,134.7 143.7,134.7 145.3,147.5 146.9,153.6 148.5,158.6 150.1,152.9 151.7,150.6 153.3,135.5 154.9,140.6 156.5,130.9 158.1,134.5 159.7,145.8 161.3,143.9 162.9,142.5 164.5,148.7 166.1,138.8 167.7,144.0 169.3,144.5 170.9,145.1 172.5,140.9 174.1,141.1 175.7,147.6 177.3,141.0 178.9,137.1 180.5,147.0 182.1,140.9 183.7,150.3 185.3,148.5 186.9,143.8 188.5,126.3 190.1,129.4 191.7,140.2 193.3,140.8 194.9,140.3 196.5,139.6 198.1,151.5 199.7,147.4 201.3,146.0 202.9,145.4 204.5,147.6 206.1,138.7 207.7,144.0 209.3,137.6 210.9,142.9 212.5,139.4 214.1,128.8 215.7,137.9 217.3,149.6 218.9,149.8 220.5,150.9 222.1,147.5 223.7,144.7 225.3,148.9 226.9,129.8 228.5,144.0 230.1,148.9 231.7,145.9 233.3,152.9 234.9,138.3 236.5,141.9 238.1,139.0 239.7,144.0 241.3,132.7 242.9,133.3 244.5,137.8 246.1,140.6 247.7,135.4 249.3,139.7 250.9,138.4 252.5,139.0 254.1,130.7 255.7,130.5 257.3,144.4 258.9,150.5 260.5,138.3 262.1,141.5 263.7,139.3 265.3,144.6 266.9,143.0" fill="none" stroke="#0a0a0a" stroke-width="1.1" />
<polyline points="74.9,143.7 76.5,144.4 78.1,135.8 79.7,124.1 81.3,133.3 82.9,142.0 84.5,146.6 86.1,141.5 87.7,131.7 89.3,131.3 90.9,141.9 92.5,142.0 94.1,145.4 95.7,153.7 97.3,155.8 98.9,141.4 100.5,144.0 102.1,126.2 103.7,136.4 105.3,146.5 106.9,137.6 108.5,132.9 110.1,133.7 111.7,137.3 113.3,143.2 114.9,147.4 116.5,137.0 118.1,142.5 119.7,143.8 121.3,140.9 122.9,149.2 124.5,149.9 126.1,147.5 127.7,149.7 129.3,141.3 130.9,152.2 132.5,138.8 134.1,135.9 135.7,133.4 137.3,148.6 138.9,160.2 140.5,152.6 142.1,148.1 143.7,157.8 145.3,148.9 146.9,154.4 148.5,139.3 150.1,143.2 151.7,138.5 153.3,131.5 154.9,142.4 156.5,141.0 158.1,138.4 159.7,139.4 161.3,143.5 162.9,141.1 164.5,146.3 166.1,149.3 167.7,141.9 169.3,137.9 170.9,147.4 172.5,158.1 174.1,149.3 175.7,136.5 177.3,137.6 178.9,143.9 180.5,141.7 182.1,151.6 183.7,131.1 185.3,133.0 186.9,129.8 188.5,124.5 190.1,100.0 191.7,126.8 193.3,133.5 194.9,125.5 196.5,130.3 198.1,130.1 199.7,131.8 201.3,130.8 202.9,128.3 204.5,128.2 206.1,143.8 207.7,147.9 209.3,153.8 210.9,135.6 212.5,144.0 214.1,138.3 215.7,135.2 217.3,123.2 218.9,133.4 220.5,143.8 222.1,141.1 223.7,133.6 225.3,132.6 226.9,134.5 228.5,128.5 230.1,130.5 231.7,136.4 233.3,134.3 234.9,135.2 236.5,140.9 238.1,139.9 239.7,136.7 241.3,137.5 242.9,132.7 244.5,133.6 246.1,134.3 247.7,126.1 249.3,135.9 250.9,134.1 252.5,123.0 254.1,96.7 255.7,125.4 257.3,127.0 258.9,135.2 260.5,137.6 262.1,135.1 263.7,142.8 265.3,153.1 266.9,136.9" fill="none" stroke="#c000c4" stroke-width="1.15" />
<polyline points="74.9,140.8 76.5,129.5 78.1,130.1 79.7,131.9 81.3,139.5 82.9,147.0 84.5,142.6 86.1,151.7 87.7,145.7 89.3,145.7 90.9,145.1 92.5,142.9 94.1,140.2 95.7,143.3 97.3,152.4 98.9,152.1 100.5,150.8 102.1,147.0 103.7,150.0 105.3,145.5 106.9,149.2 108.5,147.2 110.1,136.0 111.7,133.8 113.3,143.3 114.9,145.4 116.5,142.6 118.1,146.8 119.7,145.3 121.3,134.3 122.9,137.8 124.5,147.3 126.1,157.8 127.7,149.3 129.3,140.0 130.9,147.7 132.5,143.5 134.1,144.1 135.7,137.5 137.3,132.3 138.9,144.0 140.5,141.3 142.1,132.7 143.7,131.0 145.3,134.1 146.9,146.1 148.5,140.8 150.1,130.1 151.7,135.5 153.3,139.7 154.9,146.1 156.5,136.8 158.1,134.3 159.7,137.1 161.3,141.5 162.9,153.9 164.5,145.2 166.1,139.2 167.7,132.7 169.3,134.4 170.9,131.3 172.5,143.8 174.1,136.2 175.7,149.0 177.3,140.4 178.9,145.8 180.5,140.7 182.1,148.7 183.7,137.8 185.3,144.0 186.9,141.0 188.5,139.2 190.1,129.4 191.7,138.9 193.3,145.9 194.9,151.6 196.5,149.0 198.1,147.0 199.7,144.0 201.3,139.2 202.9,131.4 204.5,134.7 206.1,141.4 207.7,145.6 209.3,137.3 210.9,134.4 212.5,138.1 214.1,142.1 215.7,141.4 217.3,147.0 218.9,140.7 220.5,145.9 222.1,142.3 223.7,140.4 225.3,136.7 226.9,138.9 228.5,137.5 230.1,134.7 231.7,145.6 233.3,145.1 234.9,146.2 236.5,143.7 238.1,143.0 239.7,139.3 241.3,140.3 242.9,143.9 244.5,147.4 246.1,140.6 247.7,140.5 249.3,142.7 250.9,147.5 252.5,138.8 254.1,137.2 255.7,140.6 257.3,139.3 258.9,145.0 260.5,132.8 262.1,139.3 263.7,134.9 265.3,142.5 266.9,140.8" fill="none" stroke="#0a0a0a" stroke-width="1.1" />
<polyline points="74.9,147.6 76.5,139.2 78.1,149.3 79.7,145.4 81.3,149.0 82.9,149.6 84.5,139.7 86.1,152.1 87.7,148.9 89.3,149.3 90.9,137.0 92.5,135.6 94.1,138.6 95.7,141.6 97.3,143.0 98.9,158.9 100.5,148.8 102.1,144.3 103.7,154.1 105.3,152.1 106.9,145.1 108.5,140.2 110.1,149.5 111.7,155.1 113.3,153.7 114.9,151.6 116.5,153.3 118.1,140.1 119.7,136.8 121.3,138.8 122.9,152.9 124.5,150.9 126.1,146.9 127.7,148.7 129.3,146.6 130.9,156.9 132.5,150.4 134.1,141.1 135.7,142.7 137.3,145.1 138.9,144.6 140.5,145.0 142.1,148.3 143.7,148.8 145.3,141.3 146.9,139.6 148.5,140.0 150.1,150.9 151.7,143.2 153.3,153.9 154.9,147.0 156.5,145.0 158.1,143.4 159.7,150.5 161.3,148.7 162.9,143.8 164.5,143.5 166.1,139.2 167.7,151.9 169.3,150.0 170.9,141.7 172.5,141.1 174.1,142.6 175.7,143.3 177.3,150.9 178.9,156.0 180.5,141.6 182.1,146.4 183.7,129.2 185.3,134.2 186.9,136.6 188.5,137.9 190.1,134.9 191.7,146.8 193.3,147.4 194.9,140.1 196.5,133.8 198.1,122.6 199.7,95.7 201.3,125.0 202.9,131.3 204.5,137.3 206.1,134.6 207.7,135.0 209.3,145.6 210.9,131.5 212.5,142.0 214.1,144.2 215.7,138.6 217.3,142.6 218.9,131.9 220.5,139.1 222.1,141.8 223.7,137.0 225.3,132.0 226.9,131.0 228.5,130.5 230.1,136.3 231.7,126.7 233.3,131.7 234.9,132.3 236.5,136.0 238.1,131.5 239.7,114.5 241.3,140.0 242.9,139.8 244.5,137.4 246.1,137.8 247.7,140.0 249.3,137.5 250.9,128.2 252.5,134.7 254.1,124.4 255.7,99.7 257.3,126.6 258.9,133.4 260.5,137.9 262.1,133.3 263.7,134.4 265.3,134.9 266.9,137.1" fill="none" stroke="#c000c4" stroke-width="1.15" />
<polyline points="74.9,145.7 76.5,142.7 78.1,148.3 79.7,145.6 81.3,139.5 82.9,147.9 84.5,140.4 86.1,145.3 87.7,141.8 89.3,143.7 90.9,140.7 92.5,146.5 94.1,146.5 95.7,148.8 97.3,149.5 98.9,142.9 100.5,138.5 102.1,132.0 103.7,140.4 105.3,146.2 106.9,145.2 108.5,127.3 110.1,135.4 111.7,137.6 113.3,139.5 114.9,155.8 116.5,155.3 118.1,152.4 119.7,152.1 121.3,145.1 122.9,141.6 124.5,143.6 126.1,139.1 127.7,142.4 129.3,160.2 130.9,154.5 132.5,147.3 134.1,160.1 135.7,170.1 137.3,157.3 138.9,149.0 140.5,154.0 142.1,143.1 143.7,141.0 145.3,157.5 146.9,151.4 148.5,145.6 150.1,139.3 151.7,144.0 153.3,149.0 154.9,141.8 156.5,140.7 158.1,146.4 159.7,146.1 161.3,147.9 162.9,138.5 164.5,143.1 166.1,140.7 167.7,139.7 169.3,154.1 170.9,153.3 172.5,144.1 174.1,132.1 175.7,144.4 177.3,150.0 178.9,151.7 180.5,150.7 182.1,149.0 183.7,140.5 185.3,138.1 186.9,136.2 188.5,148.6 190.1,157.0 191.7,157.3 193.3,151.2 194.9,155.7 196.5,156.3 198.1,151.6 199.7,152.6 201.3,154.4 202.9,156.8 204.5,142.5 206.1,145.1 207.7,131.9 209.3,118.6 210.9,86.8 212.5,121.5 214.1,130.1 215.7,135.9 217.3,157.3 218.9,158.6 220.5,154.4 222.1,148.5 223.7,156.9 225.3,157.4 226.9,135.1 228.5,143.7 230.1,157.7 231.7,155.9 233.3,148.2 234.9,149.9 236.5,148.0 238.1,144.1 239.7,148.7 241.3,152.0 242.9,158.7 244.5,157.6 246.1,155.5 247.7,147.0 249.3,153.6 250.9,146.3 252.5,151.4 254.1,147.2 255.7,133.3 257.3,121.5 258.9,93.3 260.5,124.1 262.1,131.8 263.7,136.9 265.3,143.2 266.9,149.2" fill="none" stroke="#c000c4" stroke-width="1.15" />
<polyline points="74.9,137.3 76.5,136.2 78.1,138.0 79.7,141.5 81.3,139.6 82.9,131.0 84.5,138.2 86.1,134.8 87.7,142.1 89.3,150.7 90.9,142.3 92.5,135.3 94.1,149.2 95.7,136.0 97.3,139.1 98.9,133.2 100.5,150.0 102.1,145.0 103.7,139.6 105.3,143.1 106.9,132.6 108.5,133.3 110.1,131.9 111.7,139.8 113.3,140.6 114.9,132.3 116.5,129.9 118.1,135.0 119.7,139.0 121.3,140.6 122.9,139.3 124.5,137.1 126.1,144.6 127.7,135.4 129.3,139.5 130.9,133.1 132.5,120.8 134.1,126.8 135.7,132.8 137.3,129.8 138.9,138.2 140.5,136.0 142.1,132.2 143.7,134.6 145.3,136.8 146.9,136.2 148.5,132.7 150.1,128.0 151.7,147.9 153.3,132.8 154.9,130.9 156.5,137.3" fill="none" stroke="#c000c4" stroke-width="1.15" />
<polyline points="74.9,134.7 76.5,128.8 78.1,131.4 79.7,140.0 81.3,143.0 82.9,147.2 84.5,138.4 86.1,134.8 87.7,133.3 89.3,141.0 90.9,139.6 92.5,140.4 94.1,140.4 95.7,137.1 97.3,134.9 98.9,123.4 100.5,127.5 102.1,140.3 103.7,137.0 105.3,132.6 106.9,135.2 108.5,129.5 110.1,128.8 111.7,132.6 113.3,135.9 114.9,131.2 116.5,135.1 118.1,131.7 119.7,126.2 121.3,126.5 122.9,132.9 124.5,124.7 126.1,128.5 127.7,136.1 129.3,138.3 130.9,128.0 132.5,133.3 134.1,140.2 135.7,140.6 137.3,139.8 138.9,142.5 140.5,128.2 142.1,132.0 143.7,129.3 145.3,133.5 146.9,130.4 148.5,122.8 150.1,125.1 151.7,137.9 153.3,133.4 154.9,131.1 156.5,118.0 158.1,121.9 159.7,126.6 161.3,126.9 162.9,127.3 164.5,138.0 166.1,135.5 167.7,143.8 169.3,145.7 170.9,144.8 172.5,140.8 174.1,131.3 175.7,134.7" fill="none" stroke="#c000c4" stroke-width="1.15" />
<polyline points="74.9,137.1 76.5,136.2 78.1,139.5 79.7,136.3 81.3,127.6 82.9,131.5 84.5,133.6 86.1,140.7 87.7,148.8 89.3,137.7 90.9,136.1 92.5,134.5 94.1,142.6 95.7,137.2 97.3,132.5 98.9,130.6 100.5,133.3 102.1,141.9 103.7,136.8 105.3,129.1 106.9,131.1 108.5,141.8 110.1,134.6 111.7,119.4 113.3,136.0 114.9,132.9 116.5,136.3 118.1,138.1 119.7,146.2 121.3,138.9 122.9,130.6 124.5,140.3 126.1,134.3 127.7,140.3 129.3,146.5 130.9,150.7 132.5,132.9 134.1,130.3 135.7,127.9 137.3,135.1 138.9,135.2 140.5,132.9 142.1,136.3 143.7,129.6 145.3,139.3 146.9,129.9 148.5,133.3 150.1,142.8 151.7,141.6 153.3,130.5 154.9,136.1 156.5,132.0 158.1,131.5 159.7,151.0 161.3,151.2 162.9,142.6 164.5,140.1 166.1,136.8 167.7,141.1 169.3,140.1 170.9,136.4 172.5,139.4 174.1,140.3 175.7,136.8 177.3,141.5 178.9,138.2 180.5,137.3 182.1,130.8 183.7,113.6 185.3,121.7 186.9,123.3 188.5,125.8 190.1,131.1 191.7,130.6 193.3,126.7" fill="none" stroke="#c000c4" stroke-width="1.15" />
<polyline points="74.9,145.7 76.5,146.3 78.1,145.9 79.7,139.8 81.3,141.0 82.9,145.7 84.5,145.2 86.1,146.6 87.7,147.6 89.3,147.4 90.9,149.3 92.5,155.4 94.1,161.6 95.7,149.4 97.3,152.3 98.9,150.4 100.5,150.3 102.1,152.4 103.7,153.0 105.3,147.3 106.9,138.6 108.5,134.8 110.1,142.7 111.7,148.1 113.3,148.4 114.9,138.6 116.5,144.9 118.1,146.0 119.7,142.2 121.3,148.8 122.9,150.6 124.5,145.8 126.1,142.4 127.7,145.7 129.3,142.8 130.9,141.7 132.5,149.1 134.1,143.0 135.7,144.3 137.3,139.7 138.9,148.4 140.5,148.0 142.1,140.6 143.7,146.8 145.3,148.3 146.9,144.6 148.5,131.6 150.1,136.9 151.7,136.3 153.3,150.2 154.9,144.1 156.5,150.3 158.1,145.3 159.7,141.5 161.3,149.6 162.9,155.6 164.5,139.4 166.1,131.0 167.7,142.6 169.3,152.9 170.9,147.7 172.5,146.1 174.1,156.0 175.7,152.3 177.3,136.2 178.9,132.3 180.5,138.8 182.1,141.6 183.7,121.1 185.3,112.1 186.9,125.4 188.5,123.0 190.1,134.4 191.7,138.8 193.3,144.4 194.9,131.1 196.5,142.1 198.1,137.2 199.7,133.5" fill="none" stroke="#c000c4" stroke-width="1.15" />
<polyline points="74.9,144.6 76.5,145.4 78.1,143.5 79.7,149.6 81.3,143.7 82.9,135.9 84.5,139.0 86.1,139.6 87.7,141.9 89.3,139.1 90.9,150.1 92.5,142.2 94.1,147.8 95.7,151.6 97.3,146.7 98.9,141.4 100.5,144.4 102.1,143.6 103.7,137.4 105.3,134.4 106.9,142.1 108.5,135.2 110.1,144.3 111.7,148.3 113.3,150.7 114.9,149.9 116.5,154.5 118.1,141.4 119.7,140.7 121.3,137.8 122.9,139.7 124.5,143.8 126.1,141.6 127.7,142.7 129.3,145.9 130.9,142.9 132.5,148.8 134.1,146.5 135.7,142.1 137.3,138.0 138.9,140.8 140.5,149.5 142.1,149.8 143.7,142.2 145.3,143.1 146.9,144.3 148.5,130.7 150.1,145.9 151.7,151.0 153.3,153.3 154.9,149.9 156.5,140.3 158.1,149.4 159.7,152.6 161.3,146.6 162.9,143.1 164.5,144.6" fill="none" stroke="#c000c4" stroke-width="1.15" />
</g>
<circle cx="78.1" cy="102.5" r="4.3" fill="#ff0000"/>
<circle cx="81.3" cy="105.0" r="4.3" fill="#ff0000"/>
<circle cx="92.5" cy="83.0" r="4.3" fill="#ff0000"/>
<circle cx="94.1" cy="104.5" r="4.3" fill="#ff0000"/>
<circle cx="103.7" cy="99.5" r="4.3" fill="#ff0000"/>
<circle cx="103.7" cy="107.5" r="4.3" fill="#ff0000"/>
<circle cx="127.7" cy="111.0" r="4.3" fill="#ff0000"/>
<circle cx="127.7" cy="115.0" r="4.3" fill="#ff0000"/>
<circle cx="142.1" cy="98.0" r="4.3" fill="#ff0000"/>
<circle cx="145.3" cy="87.0" r="4.3" fill="#ff0000"/>
<circle cx="150.1" cy="106.5" r="4.3" fill="#ff0000"/>
<circle cx="156.5" cy="109.0" r="4.3" fill="#ff0000"/>
<circle cx="158.1" cy="100.0" r="4.3" fill="#ff0000"/>
<circle cx="159.7" cy="97.5" r="4.3" fill="#ff0000"/>
<circle cx="166.1" cy="95.0" r="4.3" fill="#ff0000"/>
<circle cx="194.9" cy="87.8" r="4.3" fill="#ff0000"/>
<circle cx="190.1" cy="100.0" r="4.3" fill="#ff0000"/>
<circle cx="199.7" cy="95.7" r="4.3" fill="#ff0000"/>
<circle cx="210.9" cy="86.8" r="4.3" fill="#ff0000"/>
<circle cx="191.7" cy="112.1" r="4.3" fill="#ff0000"/>
<circle cx="198.1" cy="115.5" r="4.3" fill="#ff0000"/>
<circle cx="206.1" cy="105.6" r="4.3" fill="#ff0000"/>
<circle cx="209.3" cy="102.6" r="4.3" fill="#ff0000"/>
<circle cx="214.1" cy="98.7" r="4.3" fill="#ff0000"/>
<circle cx="220.5" cy="89.2" r="4.3" fill="#ff0000"/>
<circle cx="222.1" cy="93.7" r="4.3" fill="#ff0000"/>
<circle cx="223.7" cy="99.7" r="4.3" fill="#ff0000"/>
<circle cx="220.5" cy="106.6" r="4.3" fill="#ff0000"/>
<circle cx="215.7" cy="115.5" r="4.3" fill="#ff0000"/>
<circle cx="226.9" cy="116.5" r="4.3" fill="#ff0000"/>
<circle cx="230.1" cy="87.8" r="4.3" fill="#ff0000"/>
<circle cx="233.3" cy="97.1" r="4.3" fill="#ff0000"/>
<circle cx="230.1" cy="110.5" r="4.3" fill="#ff0000"/>
<circle cx="234.9" cy="112.5" r="4.3" fill="#ff0000"/>
<circle cx="239.7" cy="108.2" r="4.3" fill="#ff0000"/>
<circle cx="238.1" cy="116.5" r="4.3" fill="#ff0000"/>
<circle cx="244.5" cy="99.3" r="4.3" fill="#ff0000"/>
<circle cx="247.7" cy="84.8" r="4.3" fill="#ff0000"/>
<circle cx="247.7" cy="112.5" r="4.3" fill="#ff0000"/>
<circle cx="252.5" cy="115.5" r="4.3" fill="#ff0000"/>
<circle cx="254.1" cy="96.7" r="4.3" fill="#ff0000"/>
<circle cx="255.7" cy="99.7" r="4.3" fill="#ff0000"/>
<circle cx="258.9" cy="93.3" r="4.3" fill="#ff0000"/>
<circle cx="258.9" cy="104.6" r="4.3" fill="#ff0000"/>
<circle cx="260.5" cy="106.6" r="4.3" fill="#ff0000"/>
<circle cx="263.7" cy="114.5" r="4.3" fill="#ff0000"/>
<circle cx="270.1" cy="115.5" r="4.3" fill="#ff0000"/>
<circle cx="276.5" cy="115.5" r="4.3" fill="#ff0000"/>
<circle cx="282.9" cy="86.4" r="4.3" fill="#ff0000"/>
<circle cx="290.9" cy="115.5" r="4.3" fill="#ff0000"/>
<line x1="75.5" y1="37" x2="75.5" y2="198.0" stroke="#4a4a4a" stroke-width="1" />
<line x1="75.0" y1="197.5" x2="315" y2="197.5" stroke="#4a4a4a" stroke-width="1" />
<line x1="71.5" y1="43.499999999999986" x2="75.5" y2="43.499999999999986" stroke="#4a4a4a" stroke-width="1" />
<text x="68.0" y="48.79999999999998" font-size="14.6" text-anchor="end" fill="#222" >1.75</text>
<line x1="71.5" y1="77.19999999999999" x2="75.5" y2="77.19999999999999" stroke="#4a4a4a" stroke-width="1" />
<text x="68.0" y="82.49999999999999" font-size="14.6" text-anchor="end" fill="#222" >1.50</text>
<line x1="71.5" y1="110.89999999999999" x2="75.5" y2="110.89999999999999" stroke="#4a4a4a" stroke-width="1" />
<text x="68.0" y="116.19999999999999" font-size="14.6" text-anchor="end" fill="#222" >1.25</text>
<line x1="71.5" y1="144.6" x2="75.5" y2="144.6" stroke="#4a4a4a" stroke-width="1" />
<text x="68.0" y="149.9" font-size="14.6" text-anchor="end" fill="#222" >1.00</text>
<line x1="71.5" y1="178.3" x2="75.5" y2="178.3" stroke="#4a4a4a" stroke-width="1" />
<text x="68.0" y="183.60000000000002" font-size="14.6" text-anchor="end" fill="#222" >0.75</text>
<line x1="90.9" y1="197.5" x2="90.9" y2="200.5" stroke="#4a4a4a" stroke-width="1" />
<text x="90.9" y="215.9" font-size="15.2" text-anchor="middle" fill="#222" >−100</text>
<line x1="170.9" y1="197.5" x2="170.9" y2="200.5" stroke="#4a4a4a" stroke-width="1" />
<text x="170.9" y="215.9" font-size="15.2" text-anchor="middle" fill="#222" >0</text>
<line x1="250.9" y1="197.5" x2="250.9" y2="200.5" stroke="#4a4a4a" stroke-width="1" />
<text x="250.9" y="215.9" font-size="15.2" text-anchor="middle" fill="#222" >100</text>
<text x="191.8" y="229.3" font-size="12.3" text-anchor="middle" fill="#111" >time (min) from the point of addition of inhibitor</text>
<text x="30.3" y="109.5" font-size="15.1" text-anchor="middle" fill="#111" transform="rotate(-90 30.3 109.5)" >ERK activity</text>
<line x1="170.4" y1="37.6" x2="170.4" y2="63.7" stroke="#000" stroke-width="2.4" />
<polygon points="165.70000000000002,59.7 170.4,62.2 175.1,59.7 170.4,70.7" fill="#000"/>
<text x="182.3" y="50.3" font-size="10.97" text-anchor="start" fill="#111" >addition of FGF4</text>
<text x="0" y="301.40000000000003" font-size="30.7" text-anchor="start" fill="#000" >D</text>
<text x="81.4" y="296.5" font-size="15.0" text-anchor="start" fill="#000" >-LIF (differentiating) condition</text>
<g stroke-linejoin="round" stroke-linecap="round">
<polyline points="74.9,407.3 76.5,392.3 78.1,356.5 79.7,395.6 81.3,405.3 82.9,411.8 84.5,424.9 86.1,422.3 87.7,411.0 89.3,421.0 90.9,414.2 92.5,423.9 94.1,417.5 95.7,426.2 97.3,418.7 98.9,415.2 100.5,419.3 102.1,426.9 103.7,429.1 105.3,413.6 106.9,411.1 108.5,415.8 110.1,419.1 111.7,416.4 113.3,421.6 114.9,420.2 116.5,414.0 118.1,415.8 119.7,420.2 121.3,413.2 122.9,413.6 124.5,411.3 126.1,413.6 127.7,415.7 129.3,425.5 130.9,428.9 132.5,420.7 134.1,417.2 135.7,418.3 137.3,415.3 138.9,411.9 140.5,420.4 142.1,417.3 143.7,418.0 145.3,420.9 146.9,414.0 148.5,418.7 150.1,422.9 151.7,427.2 153.3,424.4 154.9,417.1 156.5,410.5 158.1,419.3 159.7,429.2 161.3,419.5 162.9,420.4 164.5,417.3 166.1,420.9 167.7,411.7 169.3,416.0 170.9,423.9 172.5,419.3 174.1,418.8 175.7,421.5 177.3,410.2 178.9,410.4 180.5,400.1 182.1,412.0 183.7,411.8 185.3,407.4 186.9,414.5 188.5,409.7 190.1,405.3 191.7,412.0 193.3,410.2 194.9,410.2 196.5,410.0 198.1,397.9 199.7,369.0 201.3,400.6 202.9,402.7 204.5,402.3 206.1,406.0 207.7,416.6 209.3,416.8 210.9,409.2 212.5,404.5 214.1,414.9 215.7,411.1 217.3,404.9 218.9,416.2 220.5,412.6 222.1,406.3 223.7,412.1 225.3,419.3 226.9,417.7 228.5,416.1 230.1,410.2 231.7,413.8 233.3,412.5 234.9,411.5 236.5,414.4 238.1,419.9 239.7,419.3 241.3,417.7 242.9,413.7 244.5,424.2 246.1,423.1 247.7,417.3 249.3,414.4 250.9,414.3 252.5,413.0 254.1,407.6 255.7,413.4 257.3,412.1 258.9,414.8 260.5,415.0 262.1,411.6 263.7,416.3 265.3,411.7 266.9,418.7" fill="none" stroke="#c000c4" stroke-width="1.15" />
<polyline points="74.9,426.9 76.5,430.9 78.1,424.3 79.7,413.9 81.3,405.8 82.9,386.5 84.5,407.6 86.1,412.8 87.7,416.3 89.3,427.3 90.9,427.1 92.5,429.6 94.1,419.0 95.7,425.3 97.3,429.0 98.9,416.2 100.5,421.6 102.1,426.9 103.7,431.8 105.3,425.8 106.9,427.4 108.5,429.7 110.1,433.9 111.7,422.7 113.3,414.6 114.9,428.0 116.5,425.5 118.1,427.9 119.7,431.1 121.3,430.2 122.9,437.0 124.5,431.8 126.1,424.2 127.7,426.3 129.3,425.1 130.9,423.4 132.5,435.4 134.1,432.5 135.7,428.9 137.3,442.2 138.9,433.0 140.5,430.2 142.1,429.6 143.7,427.8 145.3,426.8 146.9,423.5 148.5,415.2 150.1,420.9 151.7,422.1 153.3,419.3 154.9,428.4 156.5,431.2 158.1,434.2 159.7,435.1 161.3,436.9 162.9,432.3 164.5,439.2 166.1,426.3 167.7,430.9 169.3,442.0 170.9,439.0 172.5,435.7 174.1,434.8 175.7,420.0 177.3,422.0 178.9,421.3 180.5,431.2 182.1,433.9 183.7,431.3 185.3,415.6 186.9,420.1 188.5,422.0 190.1,425.5 191.7,434.2 193.3,430.9 194.9,426.5 196.5,417.6 198.1,410.0 199.7,397.9 201.3,369.0 202.9,400.6 204.5,408.5 206.1,413.7 207.7,422.9 209.3,424.6 210.9,425.2 212.5,420.1 214.1,423.8 215.7,420.5 217.3,425.3 218.9,422.2 220.5,425.7 222.1,430.8 223.7,423.4 225.3,420.1 226.9,423.0 228.5,425.2 230.1,440.3 231.7,428.3 233.3,432.8 234.9,428.5 236.5,426.8 238.1,435.4 239.7,427.5 241.3,430.6 242.9,421.6 244.5,419.8 246.1,421.8 247.7,419.4 249.3,424.4 250.9,422.8 252.5,423.3 254.1,430.7 255.7,427.5 257.3,432.1 258.9,433.1 260.5,422.2 262.1,427.2 263.7,427.2 265.3,427.5 266.9,426.9" fill="none" stroke="#c000c4" stroke-width="1.15" />
<polyline points="74.9,423.9 76.5,424.4 78.1,422.8 79.7,422.5 81.3,415.0 82.9,408.1 84.5,391.5 86.1,409.6 87.7,414.1 89.3,417.1 90.9,430.5 92.5,428.0 94.1,425.3 95.7,429.7 97.3,428.7 98.9,427.2 100.5,420.8 102.1,409.8 103.7,420.0 105.3,429.4 106.9,431.6 108.5,424.6 110.1,429.1 111.7,432.5 113.3,424.4 114.9,419.9 116.5,426.7 118.1,428.6 119.7,434.2 121.3,432.7 122.9,429.3 124.5,427.7 126.1,428.0 127.7,417.2 129.3,424.1 130.9,421.6 132.5,417.0 134.1,429.7 135.7,426.5 137.3,416.6 138.9,423.9 140.5,430.1 142.1,424.7 143.7,421.5 145.3,421.4 146.9,425.6 148.5,419.9 150.1,418.7 151.7,413.9 153.3,428.0 154.9,430.4 156.5,434.8 158.1,429.4 159.7,425.1 161.3,430.2 162.9,424.9 164.5,426.3 166.1,425.1 167.7,421.6 169.3,419.5 170.9,425.7 172.5,425.6 174.1,424.5 175.7,422.9 177.3,425.7 178.9,423.5 180.5,425.8 182.1,419.2 183.7,422.1 185.3,421.8 186.9,416.9 188.5,425.0 190.1,427.1 191.7,426.1 193.3,421.3 194.9,430.8 196.5,414.1 198.1,406.3 199.7,387.5 201.3,408.0 202.9,413.1 204.5,416.5 206.1,423.6 207.7,426.4 209.3,430.9 210.9,420.6 212.5,422.2 214.1,424.1 215.7,421.3 217.3,424.0 218.9,420.0 220.5,422.5 222.1,424.4 223.7,427.6 225.3,431.2 226.9,427.3 228.5,424.1 230.1,421.0 231.7,431.3 233.3,427.9 234.9,423.3 236.5,419.4 238.1,425.0 239.7,430.3 241.3,426.5 242.9,422.5 244.5,427.9 246.1,423.7 247.7,425.6 249.3,427.1 250.9,423.4 252.5,427.0 254.1,421.1 255.7,425.5 257.3,421.0 258.9,420.3 260.5,426.8 262.1,421.9 263.7,425.3 265.3,425.1 266.9,423.9" fill="none" stroke="#c000c4" stroke-width="1.15" />
<polyline points="74.9,416.7 76.5,416.9 78.1,423.6 79.7,422.0 81.3,416.6 82.9,419.1 84.5,415.4 86.1,421.4 87.7,414.8 89.3,408.6 90.9,415.4 92.5,415.3 94.1,421.7 95.7,416.0 97.3,413.1 98.9,419.4 100.5,410.9 102.1,410.1 103.7,405.2 105.3,408.0 106.9,397.3 108.5,367.5 110.1,400.0 111.7,408.1 113.3,413.5 114.9,407.8 116.5,415.3 118.1,413.9 119.7,411.6 121.3,426.8 122.9,418.7 124.5,418.4 126.1,421.1 127.7,412.1 129.3,426.5 130.9,420.7 132.5,412.3 134.1,412.7 135.7,416.6 137.3,410.9 138.9,414.3 140.5,421.5 142.1,418.3 143.7,414.3 145.3,413.0 146.9,420.5 148.5,422.4 150.1,416.5 151.7,424.3 153.3,419.4 154.9,423.3 156.5,421.2 158.1,420.0 159.7,418.1 161.3,424.6 162.9,410.3 164.5,416.1 166.1,416.2 167.7,422.4 169.3,421.4 170.9,420.2 172.5,420.1 174.1,423.6 175.7,414.2 177.3,409.4 178.9,418.4 180.5,402.5 182.1,407.9 183.7,405.8 185.3,397.9 186.9,397.5 188.5,395.4 190.1,405.7 191.7,411.3 193.3,414.4 194.9,417.5 196.5,418.7 198.1,414.8 199.7,406.1 201.3,416.3 202.9,417.2 204.5,414.0 206.1,408.1 207.7,418.3 209.3,419.8 210.9,413.1 212.5,404.9 214.1,407.6 215.7,402.4 217.3,400.9 218.9,375.5 220.5,403.2 222.1,410.1 223.7,406.9 225.3,407.6 226.9,410.4 228.5,409.0 230.1,410.4 231.7,417.8 233.3,408.4 234.9,405.6 236.5,408.6 238.1,414.5 239.7,410.8 241.3,408.0 242.9,409.6 244.5,409.4 246.1,414.7 247.7,407.2 249.3,408.2 250.9,404.6 252.5,402.2 254.1,411.1 255.7,418.5 257.3,406.6 258.9,403.8 260.5,404.1 262.1,407.3 263.7,410.3 265.3,413.5 266.9,416.7" fill="none" stroke="#c000c4" stroke-width="1.15" />
<polyline points="74.9,423.8 76.5,416.8 78.1,424.9 79.7,436.3 81.3,426.2 82.9,425.3 84.5,418.5 86.1,420.7 87.7,425.5 89.3,431.1 90.9,424.8 92.5,425.7 94.1,431.0 95.7,423.4 97.3,429.7 98.9,431.7 100.5,437.3 102.1,425.3 103.7,433.1 105.3,422.9 106.9,423.3 108.5,409.1 110.1,411.0 111.7,425.9 113.3,431.8 114.9,412.1 116.5,402.2 118.1,378.5 119.7,404.4 121.3,410.8 122.9,415.1 124.5,412.3 126.1,423.5 127.7,423.5 129.3,418.4 130.9,423.2 132.5,426.0 134.1,424.2 135.7,419.5 137.3,424.1 138.9,427.4 140.5,425.9 142.1,427.5 143.7,431.3 145.3,421.6 146.9,425.5 148.5,427.2 150.1,428.3 151.7,430.0 153.3,431.1 154.9,423.9 156.5,421.7 158.1,426.6 159.7,429.3 161.3,429.7 162.9,424.6 164.5,420.5 166.1,419.8 167.7,422.1 169.3,419.7 170.9,424.7 172.5,433.6 174.1,431.7 175.7,428.0 177.3,429.0 178.9,424.4 180.5,434.4 182.1,427.4 183.7,425.3 185.3,425.4 186.9,422.2 188.5,418.2 190.1,429.5 191.7,424.8 193.3,422.6 194.9,430.3 196.5,417.6 198.1,416.3 199.7,432.8 201.3,416.0 202.9,406.4 204.5,411.0 206.1,415.5 207.7,426.3 209.3,421.9 210.9,420.4 212.5,420.0 214.1,412.4 215.7,418.7 217.3,421.0 218.9,422.8 220.5,423.0 222.1,422.4 223.7,414.6 225.3,412.1 226.9,426.8 228.5,426.0 230.1,417.9 231.7,406.8 233.3,391.4 234.9,354.5 236.5,394.8 238.1,404.8 239.7,411.5 241.3,428.5 242.9,427.0 244.5,431.3 246.1,427.9 247.7,412.1 249.3,409.5 250.9,412.5 252.5,420.1 254.1,424.2 255.7,414.8 257.3,420.8 258.9,426.3 260.5,433.6 262.1,429.5 263.7,430.5 265.3,425.8 266.9,423.8" fill="none" stroke="#c000c4" stroke-width="1.15" />
<polyline points="74.9,427.3 76.5,420.4 78.1,424.0 79.7,426.7 81.3,427.4 82.9,427.8 84.5,419.8 86.1,425.7 87.7,427.8 89.3,428.9 90.9,427.9 92.5,423.0 94.1,429.6 95.7,427.6 97.3,423.4 98.9,429.3 100.5,430.4 102.1,421.4 103.7,431.5 105.3,429.7 106.9,435.8 108.5,428.5 110.1,424.1 111.7,415.7 113.3,422.7 114.9,427.6 116.5,436.8 118.1,425.2 119.7,430.5 121.3,411.6 122.9,401.1 124.5,376.0 126.1,403.4 127.7,410.2 129.3,414.8 130.9,424.4 132.5,425.8 134.1,428.6 135.7,429.2 137.3,434.0 138.9,422.0 140.5,421.9 142.1,426.9 143.7,430.0 145.3,417.6 146.9,418.0 148.5,428.6 150.1,428.7 151.7,424.8 153.3,426.6 154.9,426.4 156.5,427.7 158.1,425.5 159.7,424.3 161.3,428.5 162.9,428.5 164.5,431.6 166.1,433.1 167.7,434.7 169.3,430.2 170.9,437.2 172.5,432.9 174.1,437.1 175.7,430.9 177.3,421.3 178.9,421.7 180.5,425.5 182.1,417.6 183.7,412.9 185.3,421.4 186.9,424.8 188.5,423.4 190.1,412.2 191.7,406.7 193.3,417.9 194.9,416.2 196.5,421.1 198.1,413.3 199.7,408.5 201.3,417.7 202.9,418.0 204.5,412.6 206.1,409.1 207.7,424.1 209.3,425.5 210.9,415.4 212.5,406.1 214.1,410.5 215.7,411.5 217.3,415.5 218.9,412.8 220.5,414.1 222.1,413.2 223.7,416.3 225.3,411.2 226.9,409.9 228.5,418.6 230.1,418.9 231.7,419.2 233.3,413.9 234.9,415.6 236.5,414.4 238.1,411.7 239.7,401.3 241.3,376.5 242.9,403.6 244.5,410.3 246.1,414.8 247.7,419.1 249.3,417.7 250.9,417.0 252.5,427.1 254.1,421.4 255.7,421.7 257.3,421.4 258.9,417.4 260.5,421.3 262.1,425.0 263.7,420.3 265.3,416.6 266.9,427.3" fill="none" stroke="#c000c4" stroke-width="1.15" />
<polyline points="74.9,422.2 76.5,423.3 78.1,428.4 79.7,421.7 81.3,420.0 82.9,415.2 84.5,417.1 86.1,419.8 87.7,420.3 89.3,424.9 90.9,416.6 92.5,412.8 94.1,413.1 95.7,420.6 97.3,421.8 98.9,421.6 100.5,420.0 102.1,408.9 103.7,423.6 105.3,430.0 106.9,420.0 108.5,419.4 110.1,415.8 111.7,414.9 113.3,418.2 114.9,420.9 116.5,418.4 118.1,415.4 119.7,409.0 121.3,393.5 122.9,410.4 124.5,414.6 126.1,417.4 127.7,416.0 129.3,408.6 130.9,419.0 132.5,417.3 134.1,417.9 135.7,420.6 137.3,423.6 138.9,429.2 140.5,425.5 142.1,417.4 143.7,422.2 145.3,421.6 146.9,411.9 148.5,423.2 150.1,421.7 151.7,417.0 153.3,415.5 154.9,418.8 156.5,419.8 158.1,419.6 159.7,424.6 161.3,415.8 162.9,422.0 164.5,419.1 166.1,418.9 167.7,419.0 169.3,419.9 170.9,416.8 172.5,419.5 174.1,424.4 175.7,415.0 177.3,421.7 178.9,424.5 180.5,423.8 182.1,425.7 183.7,426.1 185.3,419.8 186.9,424.2 188.5,432.0 190.1,428.5 191.7,424.7 193.3,430.8 194.9,423.2 196.5,424.1 198.1,425.9 199.7,418.7 201.3,421.4 202.9,424.5 204.5,419.8 206.1,423.1 207.7,425.7 209.3,418.4 210.9,412.6 212.5,413.5 214.1,412.9 215.7,415.4 217.3,420.9 218.9,434.8 220.5,419.4 222.1,417.3 223.7,422.4 225.3,424.1 226.9,417.4 228.5,426.3 230.1,420.8 231.7,426.8 233.3,429.2 234.9,436.2 236.5,425.0 238.1,420.8 239.7,411.9 241.3,401.8 242.9,377.5 244.5,404.0 246.1,410.6 247.7,415.0 249.3,424.2 250.9,424.2 252.5,422.9 254.1,419.0 255.7,418.1 257.3,424.4 258.9,420.2 260.5,423.9 262.1,422.6 263.7,428.8 265.3,434.4 266.9,422.2" fill="none" stroke="#c000c4" stroke-width="1.15" />
<polyline points="74.9,420.6 76.5,415.1 78.1,417.2 79.7,426.9 81.3,425.2 82.9,431.0 84.5,418.1 86.1,418.1 87.7,430.9 89.3,424.2 90.9,419.1 92.5,416.1 94.1,407.1 95.7,411.0 97.3,408.8 98.9,414.6 100.5,414.2 102.1,428.3 103.7,416.9 105.3,421.4 106.9,412.7 108.5,413.9 110.1,419.5 111.7,413.3 113.3,419.9 114.9,425.2 116.5,423.5 118.1,419.9 119.7,426.9 121.3,425.3 122.9,421.6 124.5,414.9 126.1,407.8 127.7,391.0 129.3,409.4 130.9,414.0 132.5,417.0 134.1,422.4 135.7,417.8 137.3,420.3 138.9,420.0 140.5,414.1 142.1,420.8 143.7,422.9 145.3,432.7 146.9,434.6 148.5,422.3 150.1,417.8 151.7,421.5 153.3,417.3 154.9,417.6 156.5,422.9 158.1,426.8 159.7,418.1 161.3,416.3 162.9,420.5 164.5,424.4 166.1,420.6 167.7,419.9 169.3,426.3 170.9,415.9 172.5,418.9 174.1,423.8 175.7,414.4 177.3,420.3 178.9,424.4 180.5,423.4 182.1,422.3 183.7,418.2 185.3,418.2 186.9,413.3 188.5,415.9 190.1,425.3 191.7,423.5 193.3,425.1 194.9,428.4 196.5,417.7 198.1,417.8 199.7,423.5 201.3,426.7 202.9,423.4 204.5,421.4 206.1,413.5 207.7,419.3 209.3,423.5 210.9,422.4 212.5,418.1 214.1,425.7 215.7,421.2 217.3,412.8 218.9,414.3 220.5,420.5 222.1,419.1 223.7,421.7 225.3,418.8 226.9,422.1 228.5,422.0 230.1,408.5 231.7,413.7 233.3,405.5 234.9,415.3 236.5,418.6 238.1,424.2 239.7,421.2 241.3,424.2 242.9,413.3 244.5,404.7 246.1,384.0 247.7,406.6 249.3,412.2 250.9,416.0 252.5,425.4 254.1,424.2 255.7,407.8 257.3,415.5 258.9,416.6 260.5,428.3 262.1,423.4 263.7,429.0 265.3,429.5 266.9,420.6" fill="none" stroke="#c000c4" stroke-width="1.15" />
<polyline points="74.9,425.0 76.5,421.6 78.1,427.9 79.7,425.7 81.3,430.3 82.9,425.4 84.5,420.8 86.1,420.4 87.7,430.5 89.3,426.7 90.9,429.1 92.5,422.0 94.1,424.2 95.7,426.6 97.3,428.1 98.9,414.9 100.5,417.5 102.1,430.1 103.7,426.0 105.3,428.7 106.9,419.8 108.5,423.1 110.1,421.0 111.7,424.0 113.3,428.1 114.9,423.7 116.5,419.7 118.1,418.9 119.7,416.0 121.3,416.6 122.9,420.3 124.5,426.4 126.1,426.0 127.7,415.9 129.3,424.4 130.9,423.4 132.5,419.1 134.1,419.9 135.7,416.5 137.3,430.4 138.9,425.9 140.5,424.8 142.1,426.5 143.7,426.3 145.3,430.0 146.9,422.1 148.5,422.9 150.1,418.9 151.7,427.0 153.3,429.3 154.9,431.2 156.5,429.4 158.1,426.9 159.7,425.6 161.3,428.5 162.9,419.5 164.5,428.2 166.1,435.9 167.7,426.1 169.3,426.2 170.9,429.1 172.5,421.0 174.1,423.2 175.7,427.0 177.3,422.7 178.9,430.9 180.5,425.3 182.1,422.7 183.7,428.8 185.3,433.6 186.9,431.4 188.5,421.4 190.1,424.6 191.7,426.3 193.3,435.1 194.9,425.9 196.5,422.5 198.1,418.5 199.7,420.8 201.3,425.7 202.9,429.5 204.5,431.1 206.1,425.1 207.7,426.8 209.3,427.3 210.9,423.8 212.5,432.4 214.1,431.5 215.7,431.5 217.3,438.9 218.9,423.9 220.5,427.6 222.1,429.8 223.7,422.4 225.3,419.1 226.9,416.0 228.5,420.4 230.1,429.8 231.7,419.7 233.3,417.4 234.9,418.2 236.5,421.0 238.1,427.4 239.7,420.8 241.3,420.4 242.9,427.9 244.5,426.3 246.1,422.8 247.7,423.1 249.3,420.7 250.9,421.9 252.5,413.8 254.1,417.9 255.7,426.3 257.3,418.5 258.9,432.3 260.5,433.1 262.1,422.6 263.7,426.7 265.3,426.4 266.9,425.0" fill="none" stroke="#0a0a0a" stroke-width="1.1" />
<polyline points="74.9,419.7 76.5,417.7 78.1,421.0 79.7,425.1 81.3,425.1 82.9,424.0 84.5,425.7 86.1,412.8 87.7,417.9 89.3,425.3 90.9,425.7 92.5,422.5 94.1,426.3 95.7,423.6 97.3,423.4 98.9,428.8 100.5,424.8 102.1,421.4 103.7,415.8 105.3,426.8 106.9,423.1 108.5,426.5 110.1,419.6 111.7,418.2 113.3,417.1 114.9,418.3 116.5,428.3 118.1,428.2 119.7,422.5 121.3,428.0 122.9,421.6 124.5,405.7 126.1,414.4 127.7,420.7 129.3,414.4 130.9,421.8 132.5,419.0 134.1,419.3 135.7,427.2 137.3,432.2 138.9,420.5 140.5,410.4 142.1,416.1 143.7,421.2 145.3,426.1 146.9,418.7 148.5,419.7 150.1,409.8 151.7,397.5 153.3,368.0 154.9,400.2 156.5,408.2 158.1,413.6 159.7,421.1 161.3,420.2 162.9,414.2 164.5,422.3 166.1,416.2 167.7,418.3 169.3,421.5 170.9,419.3 172.5,422.7 174.1,416.7 175.7,414.4 177.3,426.5 178.9,421.9 180.5,423.8 182.1,415.5 183.7,419.9 185.3,406.8 186.9,409.9 188.5,418.7 190.1,416.5 191.7,411.8 193.3,412.1 194.9,412.7 196.5,418.8 198.1,418.8 199.7,420.6 201.3,418.5 202.9,429.6 204.5,426.5 206.1,416.9 207.7,417.5 209.3,416.3 210.9,421.6 212.5,417.4 214.1,420.2 215.7,420.4 217.3,416.0 218.9,423.6 220.5,420.5 222.1,425.2 223.7,421.1 225.3,424.2 226.9,410.6 228.5,414.2 230.1,423.9 231.7,415.3 233.3,419.6 234.9,425.2 236.5,426.8 238.1,423.0 239.7,417.4 241.3,415.6 242.9,419.5 244.5,425.3 246.1,431.2 247.7,412.2 249.3,402.4 250.9,379.0 252.5,404.6 254.1,411.0 255.7,415.2 257.3,417.3 258.9,420.5 260.5,420.2 262.1,422.8 263.7,416.9 265.3,415.6 266.9,419.7" fill="none" stroke="#c000c4" stroke-width="1.15" />
<polyline points="74.9,422.6 76.5,426.7 78.1,428.5 79.7,428.7 81.3,429.1 82.9,420.3 84.5,414.7 86.1,421.0 87.7,419.9 89.3,422.4 90.9,420.4 92.5,417.8 94.1,423.8 95.7,430.6 97.3,425.0 98.9,427.8 100.5,420.1 102.1,414.2 103.7,420.1 105.3,423.5 106.9,419.2 108.5,424.2 110.1,421.3 111.7,424.5 113.3,423.1 114.9,420.1 116.5,417.3 118.1,424.6 119.7,416.4 121.3,419.1 122.9,427.1 124.5,427.7 126.1,419.7 127.7,415.5 129.3,422.9 130.9,429.9 132.5,420.8 134.1,424.8 135.7,420.5 137.3,427.2 138.9,421.6 140.5,421.6 142.1,427.2 143.7,430.9 145.3,427.8 146.9,412.3 148.5,416.4 150.1,422.4 151.7,426.9 153.3,420.5 154.9,431.5 156.5,429.9 158.1,422.6 159.7,423.4 161.3,423.6 162.9,425.0 164.5,419.7 166.1,420.3 167.7,418.2 169.3,422.1 170.9,412.8 172.5,421.1 174.1,425.7 175.7,433.8 177.3,434.8 178.9,421.8 180.5,409.4 182.1,417.6 183.7,433.7 185.3,428.1 186.9,425.5 188.5,426.9 190.1,423.3 191.7,417.6 193.3,418.4 194.9,424.8 196.5,423.7 198.1,423.7 199.7,422.6 201.3,423.9 202.9,430.8 204.5,423.9 206.1,427.5 207.7,418.4 209.3,429.3 210.9,434.2 212.5,426.5 214.1,427.7 215.7,419.7 217.3,429.8 218.9,427.2 220.5,421.8 222.1,418.5 223.7,421.1 225.3,424.6 226.9,426.8 228.5,420.8 230.1,419.8 231.7,411.6 233.3,420.2 234.9,416.6 236.5,426.8 238.1,428.6 239.7,433.7 241.3,425.9 242.9,422.2 244.5,420.3 246.1,428.3 247.7,423.9 249.3,423.8 250.9,428.3 252.5,429.2 254.1,415.7 255.7,426.0 257.3,421.5 258.9,418.4 260.5,421.3 262.1,421.6 263.7,429.6 265.3,427.5 266.9,422.6" fill="none" stroke="#0a0a0a" stroke-width="1.1" />
<polyline points="74.9,423.8 76.5,414.5 78.1,418.7 79.7,417.2 81.3,427.4 82.9,427.4 84.5,430.7 86.1,431.9 87.7,430.0 89.3,419.4 90.9,419.5 92.5,422.0 94.1,422.4 95.7,421.0 97.3,429.6 98.9,432.3 100.5,423.2 102.1,419.6 103.7,424.4 105.3,428.9 106.9,430.8 108.5,425.3 110.1,419.2 111.7,423.2 113.3,416.9 114.9,421.5 116.5,418.4 118.1,424.2 119.7,425.5 121.3,427.4 122.9,419.2 124.5,425.9 126.1,425.4 127.7,429.4 129.3,430.4 130.9,431.3 132.5,418.9 134.1,425.7 135.7,423.7 137.3,425.0 138.9,421.1 140.5,426.8 142.1,428.9 143.7,430.8 145.3,418.9 146.9,425.4 148.5,420.6 150.1,419.9 151.7,424.3 153.3,426.6 154.9,411.8 156.5,418.0 158.1,419.4 159.7,424.5 161.3,425.1 162.9,424.9 164.5,413.8 166.1,405.6 167.7,386.0 169.3,407.4 170.9,412.7 172.5,416.3 174.1,419.7 175.7,426.3 177.3,416.7 178.9,425.1 180.5,430.0 182.1,426.4 183.7,428.6 185.3,433.6 186.9,429.9 188.5,419.0 190.1,417.5 191.7,412.0 193.3,418.1 194.9,429.3 196.5,419.0 198.1,422.3 199.7,421.1 201.3,418.2 202.9,416.3 204.5,416.1 206.1,421.2 207.7,430.1 209.3,426.3 210.9,417.5 212.5,430.9 214.1,429.2 215.7,420.4 217.3,410.7 218.9,418.9 220.5,427.4 222.1,419.7 223.7,433.4 225.3,427.5 226.9,422.8 228.5,423.8 230.1,430.6 231.7,425.5 233.3,423.4 234.9,417.3 236.5,423.6 238.1,423.0 239.7,419.4 241.3,422.0 242.9,431.3 244.5,431.3 246.1,422.9 247.7,414.6 249.3,407.4 250.9,390.0 252.5,409.0 254.1,413.7 255.7,413.2 257.3,413.4 258.9,422.7 260.5,429.0 262.1,424.5 263.7,427.8 265.3,418.1 266.9,423.8" fill="none" stroke="#c000c4" stroke-width="1.15" />
<polyline points="74.9,424.6 76.5,424.6 78.1,423.2 79.7,416.0 81.3,423.9 82.9,424.3 84.5,416.4 86.1,414.1 87.7,426.1 89.3,428.7 90.9,428.7 92.5,420.1 94.1,424.9 95.7,425.2 97.3,424.1 98.9,431.9 100.5,426.2 102.1,429.4 103.7,429.2 105.3,427.0 106.9,427.6 108.5,423.5 110.1,427.2 111.7,433.3 113.3,430.4 114.9,429.2 116.5,431.0 118.1,432.8 119.7,435.6 121.3,425.7 122.9,425.2 124.5,423.8 126.1,421.7 127.7,425.3 129.3,425.9 130.9,425.5 132.5,422.0 134.1,431.9 135.7,424.6 137.3,426.5 138.9,419.6 140.5,423.5 142.1,416.1 143.7,418.7 145.3,427.0 146.9,431.7 148.5,428.0 150.1,423.8 151.7,422.8 153.3,428.9 154.9,425.0 156.5,424.8 158.1,417.3 159.7,427.2 161.3,428.3 162.9,428.9 164.5,411.5 166.1,406.5 167.7,426.8 169.3,428.0 170.9,425.7 172.5,429.6 174.1,424.3 175.7,422.1 177.3,421.6 178.9,428.1 180.5,418.8 182.1,411.6 183.7,431.0 185.3,426.9 186.9,424.8 188.5,429.8 190.1,429.4 191.7,424.7 193.3,421.3 194.9,415.3 196.5,416.5 198.1,415.7 199.7,424.2 201.3,425.5 202.9,424.7 204.5,428.9 206.1,423.2 207.7,428.3 209.3,425.6 210.9,421.3 212.5,427.7 214.1,432.2 215.7,425.3 217.3,429.4 218.9,417.9 220.5,418.9 222.1,412.2 223.7,423.0 225.3,429.2 226.9,427.0 228.5,426.1 230.1,428.1 231.7,428.3 233.3,430.5 234.9,429.1 236.5,422.1 238.1,428.6 239.7,424.6 241.3,429.9 242.9,438.9 244.5,427.2 246.1,423.4 247.7,429.0 249.3,429.2 250.9,434.0 252.5,426.1 254.1,425.9 255.7,425.2 257.3,422.3 258.9,422.3 260.5,426.0 262.1,423.0 263.7,429.7 265.3,421.2 266.9,424.6" fill="none" stroke="#0a0a0a" stroke-width="1.1" />
<polyline points="74.9,416.3 76.5,407.3 78.1,424.5 79.7,418.9 81.3,421.3 82.9,423.5 84.5,420.7 86.1,420.2 87.7,409.5 89.3,423.9 90.9,426.3 92.5,418.7 94.1,415.2 95.7,413.5 97.3,419.4 98.9,414.3 100.5,420.3 102.1,414.8 103.7,413.2 105.3,418.3 106.9,424.0 108.5,420.8 110.1,414.5 111.7,409.3 113.3,419.5 114.9,416.3 116.5,415.1 118.1,416.6 119.7,416.4 121.3,418.0 122.9,413.1 124.5,414.7 126.1,418.2 127.7,418.9 129.3,421.5 130.9,418.7 132.5,418.5 134.1,411.6 135.7,406.5 137.3,412.4 138.9,418.0 140.5,414.1 142.1,417.5 143.7,415.5 145.3,419.2 146.9,432.1 148.5,424.0 150.1,420.0 151.7,411.3 153.3,414.1 154.9,420.2 156.5,418.1 158.1,417.1 159.7,415.5 161.3,416.0 162.9,423.0 164.5,417.1 166.1,421.5 167.7,419.5 169.3,419.7 170.9,416.4 172.5,420.4 174.1,416.7 175.7,412.3 177.3,409.8 178.9,416.4 180.5,416.4 182.1,407.8 183.7,393.4 185.3,359.0 186.9,396.6 188.5,406.0 190.1,412.2 191.7,419.7 193.3,412.3 194.9,409.9 196.5,421.6 198.1,414.2 199.7,416.9 201.3,422.3 202.9,422.3 204.5,424.5 206.1,421.4 207.7,415.1 209.3,420.2 210.9,422.5 212.5,416.6 214.1,408.4 215.7,425.7 217.3,419.0 218.9,425.1 220.5,419.7 222.1,419.7 223.7,407.9 225.3,414.9 226.9,416.0 228.5,415.5 230.1,419.6 231.7,419.7 233.3,413.5 234.9,414.2 236.5,412.5 238.1,418.9 239.7,415.5 241.3,423.2 242.9,423.3 244.5,417.5 246.1,419.9 247.7,424.1 249.3,419.8 250.9,411.6 252.5,401.1 254.1,376.0 255.7,403.4 257.3,410.2 258.9,414.8 260.5,411.8 262.1,410.8 263.7,415.0 265.3,408.0 266.9,416.3" fill="none" stroke="#c000c4" stroke-width="1.15" />
<polyline points="74.9,423.3 76.5,418.8 78.1,423.0 79.7,418.0 81.3,426.6 82.9,423.9 84.5,432.2 86.1,423.5 87.7,411.7 89.3,434.3 90.9,427.3 92.5,432.0 94.1,417.8 95.7,428.5 97.3,430.5 98.9,422.3 100.5,420.8 102.1,419.7 103.7,425.3 105.3,426.6 106.9,424.7 108.5,426.0 110.1,430.7 111.7,432.6 113.3,425.1 114.9,425.0 116.5,423.5 118.1,418.5 119.7,422.8 121.3,428.0 122.9,429.5 124.5,429.5 126.1,426.9 127.7,422.3 129.3,415.7 130.9,422.5 132.5,426.9 134.1,425.0 135.7,427.1 137.3,428.1 138.9,420.0 140.5,418.5 142.1,417.6 143.7,422.2 145.3,418.7 146.9,432.0 148.5,426.5 150.1,428.6 151.7,424.5 153.3,432.2 154.9,428.7 156.5,423.1 158.1,425.1 159.7,420.1 161.3,427.4 162.9,421.6 164.5,421.9 166.1,429.6 167.7,423.0 169.3,430.8 170.9,428.3 172.5,424.3 174.1,428.1 175.7,425.3 177.3,425.1 178.9,421.8 180.5,427.9 182.1,430.0 183.7,420.2 185.3,421.7 186.9,419.3 188.5,416.3 190.1,414.6 191.7,422.4 193.3,426.8 194.9,429.8 196.5,426.6 198.1,422.9 199.7,420.4 201.3,411.8 202.9,418.7 204.5,422.6 206.1,423.2 207.7,411.1 209.3,421.8 210.9,429.9 212.5,434.3 214.1,422.1 215.7,422.3 217.3,416.2 218.9,419.8 220.5,420.9 222.1,426.7 223.7,425.3 225.3,419.6 226.9,421.0 228.5,428.4 230.1,426.1 231.7,419.5 233.3,429.0 234.9,437.0 236.5,423.3 238.1,426.5 239.7,429.3 241.3,414.6 242.9,414.2 244.5,414.8 246.1,419.2 247.7,425.8 249.3,425.4 250.9,419.5 252.5,427.2 254.1,433.8 255.7,419.7 257.3,419.9 258.9,418.4 260.5,425.7 262.1,421.1 263.7,430.5 265.3,428.5 266.9,423.3" fill="none" stroke="#0a0a0a" stroke-width="1.1" />
<polyline points="74.9,419.2 76.5,424.1 78.1,422.7 79.7,417.3 81.3,414.4 82.9,419.0 84.5,410.5 86.1,420.7 87.7,404.2 89.3,414.9 90.9,436.0 92.5,427.3 94.1,417.3 95.7,423.2 97.3,414.6 98.9,424.0 100.5,415.9 102.1,418.9 103.7,421.5 105.3,421.9 106.9,421.6 108.5,414.1 110.1,417.8 111.7,426.1 113.3,418.5 114.9,420.3 116.5,429.5 118.1,428.6 119.7,420.7 121.3,417.8 122.9,411.3 124.5,413.8 126.1,420.0 127.7,429.3 129.3,421.6 130.9,421.4 132.5,426.5 134.1,429.2 135.7,423.2 137.3,419.5 138.9,421.7 140.5,432.2 142.1,426.0 143.7,427.6 145.3,418.5 146.9,422.3 148.5,413.1 150.1,420.3 151.7,424.4 153.3,425.0 154.9,417.0 156.5,410.8 158.1,422.4 159.7,418.1 161.3,421.3 162.9,420.7 164.5,426.7 166.1,423.3 167.7,422.2 169.3,419.0 170.9,432.2 172.5,422.2 174.1,420.0 175.7,417.4 177.3,416.8 178.9,418.8 180.5,413.1 182.1,416.6 183.7,412.5 185.3,413.1 186.9,404.2 188.5,383.0 190.1,406.2 191.7,411.9 193.3,415.8 194.9,421.7 196.5,414.2 198.1,417.8 199.7,422.5 201.3,421.7 202.9,414.5 204.5,428.4 206.1,420.9 207.7,416.5 209.3,416.7 210.9,417.2 212.5,418.0 214.1,417.1 215.7,422.0 217.3,428.7 218.9,422.5 220.5,428.6 222.1,426.1 223.7,425.5 225.3,414.2 226.9,413.0 228.5,417.9 230.1,417.8 231.7,416.3 233.3,416.6 234.9,414.3 236.5,415.2 238.1,421.5 239.7,421.3 241.3,413.6 242.9,418.2 244.5,425.4 246.1,427.5 247.7,414.2 249.3,416.2 250.9,416.2 252.5,421.1 254.1,411.3 255.7,400.6 257.3,375.0 258.9,403.0 260.5,410.0 262.1,414.6 263.7,422.2 265.3,413.5 266.9,419.2" fill="none" stroke="#c000c4" stroke-width="1.15" />
<polyline points="74.9,419.4 76.5,411.0 78.1,408.7 79.7,409.9 81.3,418.0 82.9,419.7 84.5,426.4 86.1,423.2 87.7,427.3 89.3,425.8 90.9,424.8 92.5,419.9 94.1,427.8 95.7,418.6 97.3,418.1 98.9,423.3 100.5,427.9 102.1,422.0 103.7,424.9 105.3,425.1 106.9,421.6 108.5,421.7 110.1,425.6 111.7,418.9 113.3,410.8 114.9,431.0 116.5,424.2 118.1,415.4 119.7,412.4 121.3,419.1 122.9,421.6 124.5,422.6 126.1,418.6 127.7,419.0 129.3,423.5 130.9,417.0 132.5,416.1 134.1,414.3 135.7,426.6 137.3,423.5 138.9,419.4 140.5,408.3 142.1,415.6 143.7,412.5 145.3,411.9 146.9,413.5 148.5,422.1 150.1,428.1 151.7,426.7 153.3,416.1 154.9,419.7 156.5,424.7 158.1,423.1 159.7,416.6 161.3,421.0 162.9,423.5 164.5,430.1 166.1,430.0 167.7,414.6 169.3,417.4 170.9,431.6 172.5,423.0 174.1,427.1 175.7,428.1 177.3,421.6 178.9,423.7 180.5,427.9 182.1,427.8 183.7,423.6 185.3,414.4 186.9,406.9 188.5,389.0 190.1,408.6 191.7,413.5 193.3,416.7 194.9,418.4 196.5,417.0 198.1,419.2 199.7,424.3 201.3,418.3 202.9,421.6 204.5,418.1 206.1,421.1 207.7,419.9 209.3,423.6 210.9,430.6 212.5,425.3 214.1,415.7 215.7,418.9 217.3,418.1 218.9,421.6 220.5,418.7 222.1,422.6 223.7,413.3 225.3,416.3 226.9,413.9 228.5,418.9 230.1,423.2 231.7,413.6 233.3,418.1 234.9,415.3 236.5,410.0 238.1,422.4 239.7,421.1 241.3,422.2 242.9,423.4 244.5,418.8 246.1,412.9 247.7,415.7 249.3,421.3 250.9,422.8 252.5,417.3 254.1,417.1 255.7,422.7 257.3,429.9 258.9,433.6 260.5,424.3 262.1,420.5 263.7,417.3 265.3,416.9 266.9,419.4" fill="none" stroke="#c000c4" stroke-width="1.15" />
<polyline points="74.9,414.1 76.5,413.1 78.1,413.9 79.7,417.6 81.3,417.4 82.9,427.1 84.5,426.3 86.1,422.5 87.7,414.5 89.3,409.2 90.9,407.2 92.5,410.6 94.1,412.4 95.7,412.5 97.3,420.4 98.9,420.8 100.5,414.6 102.1,420.3 103.7,424.7 105.3,428.5 106.9,421.1 108.5,423.9 110.1,416.7 111.7,411.3 113.3,405.5 114.9,412.9 116.5,410.6 118.1,408.8 119.7,417.9 121.3,422.3 122.9,414.7 124.5,417.7 126.1,420.8 127.7,424.0 129.3,425.3 130.9,410.0 132.5,414.5 134.1,414.9 135.7,417.0 137.3,413.8 138.9,412.2 140.5,412.1 142.1,412.6 143.7,408.9 145.3,417.4 146.9,426.6 148.5,409.5 150.1,408.9 151.7,406.4 153.3,412.9 154.9,406.5 156.5,411.3 158.1,420.9 159.7,416.4 161.3,419.6 162.9,418.6 164.5,415.2 166.1,416.6 167.7,419.9 169.3,414.5 170.9,402.2 172.5,409.6 174.1,409.8 175.7,419.6 177.3,417.3 178.9,411.9 180.5,418.6 182.1,416.3 183.7,423.8 185.3,424.8 186.9,423.3 188.5,417.6 190.1,415.5 191.7,415.4 193.3,415.1 194.9,411.3 196.5,400.6 198.1,375.0 199.7,403.0 201.3,410.0 202.9,414.6 204.5,404.2 206.1,408.2 207.7,412.2 209.3,412.4 210.9,412.5 212.5,418.0 214.1,424.0 215.7,410.4 217.3,417.1 218.9,409.6 220.5,403.3 222.1,415.0 223.7,418.6 225.3,418.7 226.9,415.7 228.5,413.7 230.1,416.7 231.7,411.2 233.3,401.3 234.9,410.1 236.5,409.5 238.1,410.0 239.7,416.6 241.3,408.0 242.9,410.5 244.5,407.6 246.1,405.1 247.7,405.5 249.3,411.2 250.9,409.6 252.5,413.6 254.1,423.9 255.7,417.0 257.3,416.6 258.9,416.8 260.5,419.9 262.1,421.0 263.7,413.8 265.3,407.8 266.9,414.1" fill="none" stroke="#c000c4" stroke-width="1.15" />
</g>
<circle cx="78.1" cy="356.5" r="4.3" fill="#ff0000"/>
<circle cx="82.9" cy="386.5" r="4.3" fill="#ff0000"/>
<circle cx="84.5" cy="391.5" r="4.3" fill="#ff0000"/>
<circle cx="108.5" cy="367.5" r="4.3" fill="#ff0000"/>
<circle cx="118.1" cy="378.5" r="4.3" fill="#ff0000"/>
<circle cx="124.5" cy="376.0" r="4.3" fill="#ff0000"/>
<circle cx="121.3" cy="393.5" r="4.3" fill="#ff0000"/>
<circle cx="127.7" cy="391.0" r="4.3" fill="#ff0000"/>
<circle cx="153.3" cy="368.0" r="4.3" fill="#ff0000"/>
<circle cx="167.7" cy="386.0" r="4.3" fill="#ff0000"/>
<circle cx="185.3" cy="359.0" r="4.3" fill="#ff0000"/>
<circle cx="188.5" cy="383.0" r="4.3" fill="#ff0000"/>
<circle cx="188.5" cy="389.0" r="4.3" fill="#ff0000"/>
<circle cx="198.1" cy="375.0" r="4.3" fill="#ff0000"/>
<circle cx="199.7" cy="369.0" r="4.3" fill="#ff0000"/>
<circle cx="201.3" cy="369.0" r="4.3" fill="#ff0000"/>
<circle cx="199.7" cy="387.5" r="4.3" fill="#ff0000"/>
<circle cx="218.9" cy="375.5" r="4.3" fill="#ff0000"/>
<circle cx="234.9" cy="354.5" r="4.3" fill="#ff0000"/>
<circle cx="241.3" cy="376.5" r="4.3" fill="#ff0000"/>
<circle cx="242.9" cy="377.5" r="4.3" fill="#ff0000"/>
<circle cx="246.1" cy="384.0" r="4.3" fill="#ff0000"/>
<circle cx="250.9" cy="379.0" r="4.3" fill="#ff0000"/>
<circle cx="250.9" cy="390.0" r="4.3" fill="#ff0000"/>
<circle cx="254.1" cy="376.0" r="4.3" fill="#ff0000"/>
<circle cx="257.3" cy="375.0" r="4.3" fill="#ff0000"/>
<line x1="75.5" y1="313" x2="75.5" y2="475.0" stroke="#4a4a4a" stroke-width="1" />
<line x1="75.0" y1="474.5" x2="315" y2="474.5" stroke="#4a4a4a" stroke-width="1" />
<line x1="71.5" y1="320.5" x2="75.5" y2="320.5" stroke="#4a4a4a" stroke-width="1" />
<text x="68.0" y="325.8" font-size="14.6" text-anchor="end" fill="#222" >1.75</text>
<line x1="71.5" y1="354.20000000000005" x2="75.5" y2="354.20000000000005" stroke="#4a4a4a" stroke-width="1" />
<text x="68.0" y="359.50000000000006" font-size="14.6" text-anchor="end" fill="#222" >1.50</text>
<line x1="71.5" y1="387.90000000000003" x2="75.5" y2="387.90000000000003" stroke="#4a4a4a" stroke-width="1" />
<text x="68.0" y="393.20000000000005" font-size="14.6" text-anchor="end" fill="#222" >1.25</text>
<line x1="71.5" y1="421.6" x2="75.5" y2="421.6" stroke="#4a4a4a" stroke-width="1" />
<text x="68.0" y="426.90000000000003" font-size="14.6" text-anchor="end" fill="#222" >1.00</text>
<line x1="71.5" y1="455.3" x2="75.5" y2="455.3" stroke="#4a4a4a" stroke-width="1" />
<text x="68.0" y="460.6" font-size="14.6" text-anchor="end" fill="#222" >0.75</text>
<line x1="90.9" y1="474.5" x2="90.9" y2="477.5" stroke="#4a4a4a" stroke-width="1" />
<text x="90.9" y="492.9" font-size="15.2" text-anchor="middle" fill="#222" >−100</text>
<line x1="170.9" y1="474.5" x2="170.9" y2="477.5" stroke="#4a4a4a" stroke-width="1" />
<text x="170.9" y="492.9" font-size="15.2" text-anchor="middle" fill="#222" >0</text>
<line x1="250.9" y1="474.5" x2="250.9" y2="477.5" stroke="#4a4a4a" stroke-width="1" />
<text x="250.9" y="492.9" font-size="15.2" text-anchor="middle" fill="#222" >100</text>
<text x="191.8" y="511.3" font-size="12.3" text-anchor="middle" fill="#111" >time (min) from the point of addition of inhibitor</text>
<text x="30.3" y="386.5" font-size="15.1" text-anchor="middle" fill="#111" transform="rotate(-90 30.3 386.5)" >ERK activity</text>
<line x1="170.4" y1="316.1" x2="170.4" y2="342.2" stroke="#000" stroke-width="2.4" />
<polygon points="165.70000000000002,338.2 170.4,340.7 175.1,338.2 170.4,349.2" fill="#000"/>
<text x="182.3" y="330.1" font-size="10.97" text-anchor="start" fill="#111" >addition of FGF4</text>
<text x="325.8" y="22.8" font-size="30.7" text-anchor="start" fill="#000" >B</text>
<text x="389" y="35" font-size="14.7" text-anchor="start" fill="#000" >p=0.003 <tspan font-size="11" dy="-3.5" font-weight="bold">†</tspan></text>
<line x1="404" y1="118.30000000000001" x2="463.2" y2="118.30000000000001" stroke="#3a3a3a" stroke-width="1.7" />
<line x1="404" y1="118.30000000000001" x2="463.2" y2="134.3" stroke="#3a3a3a" stroke-width="1.0" />
<line x1="404" y1="134.3" x2="463.2" y2="101.34000000000002" stroke="#3a3a3a" stroke-width="1.0" />
<line x1="404" y1="134.3" x2="463.2" y2="166.3" stroke="#3a3a3a" stroke-width="1.0" />
<line x1="404" y1="150.3" x2="463.2" y2="150.3" stroke="#3a3a3a" stroke-width="1.0" />
<line x1="404" y1="150.3" x2="463.2" y2="166.3" stroke="#3a3a3a" stroke-width="1.0" />
<line x1="404" y1="166.3" x2="463.2" y2="84.06000000000002" stroke="#3a3a3a" stroke-width="1.0" />
<line x1="404" y1="166.3" x2="463.2" y2="100.38000000000001" stroke="#3a3a3a" stroke-width="1.0" />
<line x1="404" y1="166.3" x2="463.2" y2="102.30000000000001" stroke="#3a3a3a" stroke-width="1.9" />
<line x1="404" y1="166.3" x2="463.2" y2="134.3" stroke="#3a3a3a" stroke-width="1.0" />
<line x1="404" y1="166.3" x2="463.2" y2="143.26000000000002" stroke="#3a3a3a" stroke-width="1.0" />
<line x1="404" y1="166.3" x2="463.2" y2="145.5" stroke="#3a3a3a" stroke-width="1.0" />
<line x1="404" y1="166.3" x2="463.2" y2="150.3" stroke="#3a3a3a" stroke-width="1.0" />
<circle cx="404" cy="166.3" r="2.0" fill="#3a3a3a"/>
<circle cx="404" cy="150.3" r="2.0" fill="#3a3a3a"/>
<circle cx="404" cy="134.3" r="2.0" fill="#3a3a3a"/>
<circle cx="404" cy="118.3" r="2.0" fill="#3a3a3a"/>
<circle cx="463.2" cy="166.3" r="2.0" fill="#3a3a3a"/>
<circle cx="463.2" cy="150.3" r="2.0" fill="#3a3a3a"/>
<circle cx="463.2" cy="145.5" r="2.0" fill="#3a3a3a"/>
<circle cx="463.2" cy="143.3" r="2.0" fill="#3a3a3a"/>
<circle cx="463.2" cy="134.3" r="2.0" fill="#3a3a3a"/>
<circle cx="463.2" cy="118.3" r="2.0" fill="#3a3a3a"/>
<circle cx="463.2" cy="102.3" r="2.0" fill="#3a3a3a"/>
<circle cx="463.2" cy="101.3" r="2.0" fill="#3a3a3a"/>
<circle cx="463.2" cy="100.4" r="2.0" fill="#3a3a3a"/>
<circle cx="463.2" cy="84.1" r="2.0" fill="#3a3a3a"/>
<line x1="374" y1="69.80000000000001" x2="374" y2="166.8" stroke="#555" stroke-width="1" />
<line x1="374" y1="166.3" x2="493.5" y2="166.3" stroke="#666" stroke-width="1.2" />
<line x1="370" y1="166.3" x2="374" y2="166.3" stroke="#555" stroke-width="1" />
<text x="367" y="171.60000000000002" font-size="14.7" text-anchor="end" fill="#111" >0</text>
<line x1="370" y1="134.3" x2="374" y2="134.3" stroke="#555" stroke-width="1" />
<text x="367" y="139.60000000000002" font-size="14.7" text-anchor="end" fill="#111" >1</text>
<line x1="370" y1="102.30000000000001" x2="374" y2="102.30000000000001" stroke="#555" stroke-width="1" />
<text x="367" y="107.60000000000001" font-size="14.7" text-anchor="end" fill="#111" >2</text>
<line x1="370" y1="70.30000000000001" x2="374" y2="70.30000000000001" stroke="#555" stroke-width="1" />
<text x="367" y="75.60000000000001" font-size="14.7" text-anchor="end" fill="#111" >3</text>
<polyline points="403.4,75.8 403.4,69.6 463.2,69.6 463.2,75.8" fill="none" stroke="#333" stroke-width="1.0" />
<text x="432.7" y="73" font-size="16" text-anchor="middle" fill="#111" >**</text>
<text x="405" y="179.4" font-size="14.7" text-anchor="middle" fill="#111" >before</text>
<text x="461.7" y="179.4" font-size="14.7" text-anchor="middle" fill="#111" >after</text>
<text x="426" y="206.8" font-size="13.7" text-anchor="middle" fill="#111" ><tspan font-size="11" dy="-2.4" font-weight="bold">†</tspan><tspan dy="2.4">paired t-test</tspan></text>
<text x="425.7" y="222.8" font-size="13.7" text-anchor="middle" fill="#111" >for active cells (23 of 34)</text>
<text x="348.7" y="116.70000000000002" font-size="14.85" text-anchor="middle" fill="#111" transform="rotate(-90 348.7 116.70000000000002)" >no. of pulses/h</text>
<text x="325.8" y="302.8" font-size="30.7" text-anchor="start" fill="#000" >E</text>
<text x="388" y="315.3" font-size="14.7" text-anchor="start" fill="#000" >p=0.171 <tspan font-size="11" dy="-3.5" font-weight="bold">†</tspan></text>
<line x1="405.5" y1="376.5" x2="465" y2="424.57500000000005" stroke="#3a3a3a" stroke-width="1.0" />
<line x1="405.5" y1="408.55" x2="465" y2="440.6" stroke="#3a3a3a" stroke-width="1.0" />
<line x1="405.5" y1="424.57500000000005" x2="465" y2="360.475" stroke="#3a3a3a" stroke-width="1.0" />
<line x1="405.5" y1="424.57500000000005" x2="465" y2="424.57500000000005" stroke="#3a3a3a" stroke-width="1.0" />
<line x1="405.5" y1="424.57500000000005" x2="465" y2="440.6" stroke="#3a3a3a" stroke-width="1.0" />
<line x1="405.5" y1="440.6" x2="465" y2="408.55" stroke="#3a3a3a" stroke-width="1.0" />
<line x1="405.5" y1="440.6" x2="465" y2="424.57500000000005" stroke="#3a3a3a" stroke-width="1.0" />
<circle cx="405.5" cy="440.6" r="2.0" fill="#3a3a3a"/>
<circle cx="405.5" cy="424.6" r="2.0" fill="#3a3a3a"/>
<circle cx="405.5" cy="408.6" r="2.0" fill="#3a3a3a"/>
<circle cx="405.5" cy="376.5" r="2.0" fill="#3a3a3a"/>
<circle cx="465" cy="440.6" r="2.0" fill="#3a3a3a"/>
<circle cx="465" cy="424.6" r="2.0" fill="#3a3a3a"/>
<circle cx="465" cy="408.6" r="2.0" fill="#3a3a3a"/>
<circle cx="465" cy="360.5" r="2.0" fill="#3a3a3a"/>
<line x1="375.5" y1="343.95000000000005" x2="375.5" y2="441.1" stroke="#555" stroke-width="1" />
<line x1="375.5" y1="440.6" x2="495" y2="440.6" stroke="#666" stroke-width="1.2" />
<line x1="371.5" y1="440.6" x2="375.5" y2="440.6" stroke="#555" stroke-width="1" />
<text x="368.5" y="445.90000000000003" font-size="14.7" text-anchor="end" fill="#111" >0</text>
<line x1="371.5" y1="408.55" x2="375.5" y2="408.55" stroke="#555" stroke-width="1" />
<text x="368.5" y="413.85" font-size="14.7" text-anchor="end" fill="#111" >1</text>
<line x1="371.5" y1="376.5" x2="375.5" y2="376.5" stroke="#555" stroke-width="1" />
<text x="368.5" y="381.8" font-size="14.7" text-anchor="end" fill="#111" >2</text>
<line x1="371.5" y1="344.45000000000005" x2="375.5" y2="344.45000000000005" stroke="#555" stroke-width="1" />
<text x="368.5" y="349.75000000000006" font-size="14.7" text-anchor="end" fill="#111" >3</text>
<polyline points="404.9,349.9 404.9,343.7 465.0,343.7 465.0,349.9" fill="none" stroke="#333" stroke-width="1.0" />
<text x="435" y="339" font-size="14.5" text-anchor="middle" fill="#111" >ns</text>
<text x="406.5" y="455" font-size="14.7" text-anchor="middle" fill="#111" >before</text>
<text x="463.5" y="455" font-size="14.7" text-anchor="middle" fill="#111" >after</text>
<text x="426" y="483.9" font-size="13.7" text-anchor="middle" fill="#111" ><tspan font-size="11" dy="-2.4" font-weight="bold">†</tspan><tspan dy="2.4">paired t-test</tspan></text>
<text x="426" y="499.4" font-size="13.7" text-anchor="middle" fill="#111" >for active cells (13 of 19)</text>
<text x="350.2" y="390.9225" font-size="14.85" text-anchor="middle" fill="#111" transform="rotate(-90 350.2 390.9225)" >no. of pulses/h</text>
<text x="503.5" y="22.8" font-size="30.7" text-anchor="start" fill="#000" >C</text>
<text x="575.8" y="23.2" font-size="14.7" text-anchor="start" fill="#000" >p=0.2804</text>
<rect x="580.2" y="91.5" width="25" height="95.5" fill="#fff" stroke="#000" stroke-width="1.5"/>
<rect x="620.2" y="74.3" width="24.7" height="112.7" fill="url(#hatch)" stroke="#000" stroke-width="2"/>
<line x1="592.7" y1="91.5" x2="592.7" y2="82.6" stroke="#000" stroke-width="1.2" />
<line x1="585.5" y1="82.6" x2="600.5" y2="82.6" stroke="#000" stroke-width="1.2" />
<line x1="632.7" y1="73.8" x2="632.7" y2="58.5" stroke="#000" stroke-width="1.2" />
<line x1="624.5" y1="58.5" x2="640.5" y2="58.5" stroke="#000" stroke-width="1.2" />
<line x1="565.2" y1="45.8" x2="565.2" y2="187.9" stroke="#000" stroke-width="1.8" />
<line x1="564.3" y1="187.0" x2="659" y2="187.0" stroke="#000" stroke-width="1.8" />
<line x1="560.5" y1="187.0" x2="565.2" y2="187.0" stroke="#000" stroke-width="1.5" />
<text x="558.6" y="190.9" font-size="11.1" text-anchor="end" fill="#111" >0.0</text>
<line x1="560.5" y1="158.85" x2="565.2" y2="158.85" stroke="#000" stroke-width="1.5" />
<text x="558.6" y="162.75" font-size="11.1" text-anchor="end" fill="#111" >0.2</text>
<line x1="560.5" y1="130.70000000000002" x2="565.2" y2="130.70000000000002" stroke="#000" stroke-width="1.5" />
<text x="558.6" y="134.60000000000002" font-size="11.1" text-anchor="end" fill="#111" >0.4</text>
<line x1="560.5" y1="102.55000000000003" x2="565.2" y2="102.55000000000003" stroke="#000" stroke-width="1.5" />
<text x="558.6" y="106.45000000000003" font-size="11.1" text-anchor="end" fill="#111" >0.6</text>
<line x1="560.5" y1="74.40000000000002" x2="565.2" y2="74.40000000000002" stroke="#000" stroke-width="1.5" />
<text x="558.6" y="78.30000000000003" font-size="11.1" text-anchor="end" fill="#111" >0.8</text>
<line x1="560.5" y1="46.25000000000003" x2="565.2" y2="46.25000000000003" stroke="#000" stroke-width="1.5" />
<text x="558.6" y="50.15000000000003" font-size="11.1" text-anchor="end" fill="#111" >1.0</text>
<line x1="592.5" y1="187.0" x2="592.5" y2="192.0" stroke="#000" stroke-width="1.2" />
<line x1="633" y1="187.0" x2="633" y2="192.0" stroke="#000" stroke-width="1.2" />
<text x="588" y="207.4" font-size="14.7" text-anchor="middle" fill="#111" >+ LIF</text>
<text x="630.5" y="207.4" font-size="14.7" text-anchor="middle" fill="#111" >- LIF</text>
<polyline points="591.7,53.0 591.7,46.4 631.6,46.4 631.6,53.0" fill="none" stroke="#222" stroke-width="0.9" />
<text x="610.8" y="41.8" font-size="13" text-anchor="middle" fill="#111" >ns</text>
<text x="531.5" y="118" font-size="14.85" text-anchor="middle" fill="#111" transform="rotate(-90 531.5 118)" >no. of pulses/h</text>
<text x="505.5" y="302.8" font-size="30.7" text-anchor="start" fill="#000" >F</text>
<rect x="631.5" y="282.5" width="66" height="34" fill="#fff" stroke="#777" stroke-width="0.9"/>
<circle cx="641.5" cy="292.6" r="4.4" fill="#109a45"/><circle cx="641.5" cy="307.6" r="4.4" fill="#ff1010"/>
<text x="650.6" y="297.6" font-size="14.7" text-anchor="start" fill="#000" >before</text>
<text x="650.6" y="312.4" font-size="14.7" text-anchor="start" fill="#000" >after</text>
<line x1="548.5" y1="327.4" x2="548.5" y2="458" stroke="#444" stroke-width="1" />
<line x1="548" y1="457.6" x2="708" y2="457.6" stroke="#444" stroke-width="1" />
<line x1="545" y1="450.9" x2="548.5" y2="450.9" stroke="#444" stroke-width="1" />
<line x1="545" y1="428.15" x2="548.5" y2="428.15" stroke="#444" stroke-width="1" />
<line x1="545" y1="405.4" x2="548.5" y2="405.4" stroke="#444" stroke-width="1" />
<line x1="545" y1="382.65" x2="548.5" y2="382.65" stroke="#444" stroke-width="1" />
<line x1="545" y1="359.9" x2="548.5" y2="359.9" stroke="#444" stroke-width="1" />
<line x1="545" y1="337.15" x2="548.5" y2="337.15" stroke="#444" stroke-width="1" />
<text x="541.5" y="456.2" font-size="14.7" text-anchor="end" fill="#111" >0</text>
<text x="541.5" y="410.7" font-size="14.7" text-anchor="end" fill="#111" >1</text>
<text x="541.5" y="365.2" font-size="14.7" text-anchor="end" fill="#111" >2</text>
<line x1="587.6" y1="457.6" x2="587.6" y2="461.5" stroke="#444" stroke-width="1" />
<line x1="667.5" y1="457.6" x2="667.5" y2="461.5" stroke="#444" stroke-width="1" />
<text x="587.4" y="478" font-size="14.7" text-anchor="middle" fill="#111" >+ LIF</text>
<text x="667" y="478" font-size="14.7" text-anchor="middle" fill="#111" >- LIF</text>
<text x="527.2" y="392" font-size="14.85" text-anchor="middle" fill="#111" transform="rotate(-90 527.2 392)" >no. of pulses/h</text>
<circle cx="556.1" cy="450.9" r="1.55" fill="#109a45"/>
<circle cx="559.5" cy="450.9" r="1.55" fill="#109a45"/>
<circle cx="563.0" cy="450.9" r="1.55" fill="#109a45"/>
<circle cx="566.4" cy="450.9" r="1.55" fill="#109a45"/>
<circle cx="569.9" cy="450.9" r="1.55" fill="#109a45"/>
<circle cx="573.4" cy="450.9" r="1.55" fill="#109a45"/>
<circle cx="576.8" cy="450.9" r="1.55" fill="#109a45"/>
<circle cx="580.3" cy="450.9" r="1.55" fill="#ff1010"/>
<circle cx="583.7" cy="450.9" r="1.55" fill="#ff1010"/>
<circle cx="587.2" cy="450.9" r="1.55" fill="#109a45"/>
<circle cx="590.7" cy="450.9" r="1.55" fill="#ff1010"/>
<circle cx="594.1" cy="450.9" r="1.55" fill="#ff1010"/>
<circle cx="597.6" cy="450.9" r="1.55" fill="#109a45"/>
<circle cx="601.0" cy="450.9" r="1.55" fill="#109a45"/>
<circle cx="604.5" cy="450.9" r="1.55" fill="#109a45"/>
<circle cx="608.0" cy="450.9" r="1.55" fill="#109a45"/>
<circle cx="611.4" cy="450.9" r="1.55" fill="#109a45"/>
<circle cx="614.9" cy="450.9" r="1.55" fill="#109a45"/>
<circle cx="618.3" cy="450.9" r="1.55" fill="#109a45"/>
<circle cx="572.9" cy="428.1" r="1.55" fill="#109a45"/>
<circle cx="576.3" cy="428.1" r="1.55" fill="#109a45"/>
<circle cx="579.6" cy="428.1" r="1.55" fill="#ff1010"/>
<circle cx="583.0" cy="428.1" r="1.55" fill="#ff1010"/>
<circle cx="586.3" cy="428.1" r="1.55" fill="#ff1010"/>
<circle cx="589.7" cy="428.1" r="1.55" fill="#ff1010"/>
<circle cx="593.0" cy="428.1" r="1.55" fill="#ff1010"/>
<circle cx="596.4" cy="428.1" r="1.55" fill="#ff1010"/>
<circle cx="599.7" cy="428.1" r="1.55" fill="#109a45"/>
<circle cx="603.1" cy="428.1" r="1.55" fill="#ff1010"/>
<circle cx="584.4" cy="420.9" r="1.55" fill="#ff1010"/>
<circle cx="587.6" cy="420.9" r="1.55" fill="#ff1010"/>
<circle cx="587.6" cy="417.2" r="1.55" fill="#ff1010"/>
<circle cx="580.7" cy="405.4" r="1.55" fill="#109a45"/>
<circle cx="584.1" cy="405.4" r="1.55" fill="#ff1010"/>
<circle cx="587.5" cy="405.4" r="1.55" fill="#109a45"/>
<circle cx="590.9" cy="405.4" r="1.55" fill="#ff1010"/>
<circle cx="594.3" cy="404.2" r="1.55" fill="#ff1010"/>
<circle cx="580.0" cy="382.6" r="1.55" fill="#109a45"/>
<circle cx="583.2" cy="382.6" r="1.55" fill="#109a45"/>
<circle cx="586.4" cy="382.6" r="1.55" fill="#109a45"/>
<circle cx="589.6" cy="382.6" r="1.55" fill="#109a45"/>
<circle cx="592.8" cy="382.6" r="1.55" fill="#ff1010"/>
<circle cx="596.0" cy="381.0" r="1.55" fill="#ff1010"/>
<circle cx="581.6" cy="359.0" r="1.55" fill="#ff1010"/>
<circle cx="584.7" cy="359.0" r="1.55" fill="#ff1010"/>
<circle cx="587.8" cy="360.8" r="1.55" fill="#ff1010"/>
<circle cx="590.9" cy="359.0" r="1.55" fill="#ff1010"/>
<circle cx="584.4" cy="334.0" r="1.55" fill="#ff1010"/>
<circle cx="587.6" cy="334.0" r="1.55" fill="#ff1010"/>
<circle cx="667.0" cy="337.1" r="1.55" fill="#ff1010"/>
<circle cx="667.0" cy="359.9" r="1.55" fill="#109a45"/>
<circle cx="667.0" cy="382.6" r="1.55" fill="#ff1010"/>
<circle cx="655.9" cy="405.4" r="1.55" fill="#ff1010"/>
<circle cx="659.7" cy="405.4" r="1.55" fill="#ff1010"/>
<circle cx="663.5" cy="405.4" r="1.55" fill="#ff1010"/>
<circle cx="667.3" cy="405.4" r="1.55" fill="#ff1010"/>
<circle cx="671.1" cy="405.4" r="1.55" fill="#ff1010"/>
<circle cx="674.9" cy="405.4" r="1.55" fill="#109a45"/>
<circle cx="678.7" cy="405.4" r="1.55" fill="#109a45"/>
<circle cx="652.1" cy="428.1" r="1.55" fill="#109a45"/>
<circle cx="655.5" cy="428.1" r="1.55" fill="#109a45"/>
<circle cx="658.8" cy="428.1" r="1.55" fill="#ff1010"/>
<circle cx="662.1" cy="428.1" r="1.55" fill="#ff1010"/>
<circle cx="665.5" cy="428.1" r="1.55" fill="#ff1010"/>
<circle cx="668.9" cy="428.1" r="1.55" fill="#ff1010"/>
<circle cx="672.2" cy="428.1" r="1.55" fill="#109a45"/>
<circle cx="675.6" cy="428.1" r="1.55" fill="#109a45"/>
<circle cx="678.9" cy="428.1" r="1.55" fill="#109a45"/>
<circle cx="648.5" cy="450.9" r="1.55" fill="#109a45"/>
<circle cx="651.9" cy="450.9" r="1.55" fill="#109a45"/>
<circle cx="655.3" cy="450.9" r="1.55" fill="#109a45"/>
<circle cx="658.7" cy="450.9" r="1.55" fill="#ff1010"/>
<circle cx="662.1" cy="450.9" r="1.55" fill="#109a45"/>
<circle cx="665.5" cy="450.9" r="1.55" fill="#109a45"/>
<circle cx="668.9" cy="450.9" r="1.55" fill="#109a45"/>
<circle cx="672.3" cy="450.9" r="1.55" fill="#109a45"/>
<circle cx="675.7" cy="450.9" r="1.55" fill="#ff1010"/>
<circle cx="679.1" cy="450.9" r="1.55" fill="#ff1010"/>
<circle cx="682.5" cy="450.9" r="1.55" fill="#109a45"/>
<text x="0.5" y="578.8" font-size="30.7" text-anchor="start" fill="#000" >G</text>
<text x="49.4" y="582" font-size="14.7" text-anchor="start" fill="#111" >-LIF day1</text>
<text x="187.2" y="582" font-size="14.6" text-anchor="start" fill="#111" >day5</text>
<text x="306.2" y="582" font-size="14.6" text-anchor="start" fill="#111" >day7</text>
<line x1="121" y1="577.8" x2="171.89999999999998" y2="577.8" stroke="#000" stroke-width="2.3" />
<polyline points="164.3,572.4 171.9,577.8 164.3,583.2" fill="none" stroke="#000" stroke-width="2.3" stroke-linejoin="miter" stroke-miterlimit="10"/>
<line x1="236" y1="577.8" x2="287.2" y2="577.8" stroke="#000" stroke-width="2.3" />
<polyline points="279.6,572.4 287.2,577.8 279.6,583.2" fill="none" stroke="#000" stroke-width="2.3" stroke-linejoin="miter" stroke-miterlimit="10"/>
<defs>
<filter id="b2" x="-50%" y="-50%" width="200%" height="200%"><feGaussianBlur stdDeviation="2"/></filter>
<filter id="b3" x="-50%" y="-50%" width="200%" height="200%"><feGaussianBlur stdDeviation="3"/></filter>
<filter id="b4" x="-50%" y="-50%" width="200%" height="200%"><feGaussianBlur stdDeviation="4"/></filter>
<filter id="b05" x="-50%" y="-50%" width="200%" height="200%"><feGaussianBlur stdDeviation="0.45"/></filter>
<filter id="b1" x="-50%" y="-50%" width="200%" height="200%"><feGaussianBlur stdDeviation="0.8"/></filter>
<filter id="tex" x="0" y="0" width="100%" height="100%" color-interpolation-filters="sRGB"><feTurbulence type="fractalNoise" baseFrequency="0.09" numOctaves="3" seed="8" result="lf"/><feDisplacementMap in="SourceGraphic" in2="lf" scale="9" xChannelSelector="R" yChannelSelector="G" result="d"/><feTurbulence type="fractalNoise" baseFrequency="0.55" numOctaves="3" seed="2" result="n"/><feColorMatrix in="n" type="matrix" values="0.34 0 0 0 0.33  0.34 0 0 0 0.33  0.34 0 0 0 0.33  0 0 0 0 1" result="g"/><feBlend in="g" in2="d" mode="overlay"/></filter>
<filter id="grain" x="0" y="0" width="100%" height="100%"><feTurbulence type="fractalNoise" baseFrequency="0.9" numOctaves="2" seed="4" result="n"/><feColorMatrix in="n" type="matrix" values="0 0 0 0 1  0 0 0 0 1  0 0 0 0 0.9  5 0 0 0 -2.6"/></filter>
<clipPath id="c1"><rect x="23.2" y="588.8" width="116.2" height="116"/></clipPath>
<clipPath id="c2"><rect x="143.0" y="588.8" width="116.6" height="116"/></clipPath>
<clipPath id="c3"><rect x="263.6" y="588.8" width="116.4" height="116"/></clipPath>
</defs>
<g clip-path="url(#c1)" filter="url(#tex)">
<rect x="3" y="568" width="158" height="158" fill="#3e422f"/>
<polygon points="45.7,622.5 56.3,620.7 66.9,627.8 77.5,637.5 86.3,647.2 85.4,653.4 75.7,656.0 63.3,654.2 47.5,652.5 40.4,642.8 39.5,635.7 43.0,626.9" fill="#65725c" stroke="#c2c7b4" stroke-width="1.1" stroke-linejoin="round" filter="url(#b05)"/>
<polygon points="107.5,637.5 119.8,633.1 128.7,639.2 130.4,648.1 127.8,658.7 118.1,661.3 107.5,659.5 99.5,654.2 95.1,646.3 102.2,642.8" fill="#65725c" stroke="#c2c7b4" stroke-width="1.1" stroke-linejoin="round" filter="url(#b05)"/>
<ellipse cx="67.8" cy="611.0" rx="6.7" ry="2.5" fill="none" stroke="#c4c8b4" stroke-width="1.2" filter="url(#b1)"/>
<ellipse cx="87.2" cy="607.5" rx="4.2" ry="3.9" fill="none" stroke="#c4c8b4" stroke-width="1.2" filter="url(#b1)"/>
<ellipse cx="112.8" cy="620.7" rx="3.9" ry="3.9" fill="none" stroke="#c4c8b4" stroke-width="1.2" filter="url(#b1)"/>
<ellipse cx="60.7" cy="686.0" rx="5.3" ry="4.4" fill="none" stroke="#c4c8b4" stroke-width="1.2" filter="url(#b1)"/>
<ellipse cx="128.7" cy="701.9" rx="4.9" ry="2.6" fill="none" stroke="#c4c8b4" stroke-width="1.2" filter="url(#b1)"/>
<ellipse cx="36.9" cy="676.3" rx="9" ry="11" fill="#6a6e5e" opacity="0.7" filter="url(#b2)"/>
<circle cx="33.3" cy="601.3" r="1.9" fill="#c4c8b4" filter="url(#b1)"/>
<circle cx="47.5" cy="611.0" r="1.9" fill="#c4c8b4" filter="url(#b1)"/>
<circle cx="77.5" cy="618.9" r="1.9" fill="#c4c8b4" filter="url(#b1)"/>
<circle cx="81.0" cy="603.0" r="1.9" fill="#c4c8b4" filter="url(#b1)"/>
<circle cx="105.7" cy="604.8" r="1.9" fill="#c4c8b4" filter="url(#b1)"/>
<circle cx="132.2" cy="609.2" r="1.9" fill="#c4c8b4" filter="url(#b1)"/>
<circle cx="139.3" cy="592.4" r="1.9" fill="#c4c8b4" filter="url(#b1)"/>
<circle cx="30.7" cy="631.3" r="1.9" fill="#c4c8b4" filter="url(#b1)"/>
<circle cx="81.0" cy="634.8" r="1.9" fill="#c4c8b4" filter="url(#b1)"/>
<circle cx="90.7" cy="646.3" r="1.9" fill="#c4c8b4" filter="url(#b1)"/>
<circle cx="134.0" cy="639.2" r="1.9" fill="#c4c8b4" filter="url(#b1)"/>
<circle cx="137.5" cy="658.7" r="1.9" fill="#c4c8b4" filter="url(#b1)"/>
<circle cx="87.2" cy="667.5" r="1.9" fill="#c4c8b4" filter="url(#b1)"/>
<circle cx="90.7" cy="671.9" r="1.9" fill="#c4c8b4" filter="url(#b1)"/>
<circle cx="61.6" cy="671.0" r="1.9" fill="#c4c8b4" filter="url(#b1)"/>
<circle cx="97.8" cy="669.2" r="1.9" fill="#c4c8b4" filter="url(#b1)"/>
<circle cx="109.2" cy="673.7" r="1.9" fill="#c4c8b4" filter="url(#b1)"/>
<circle cx="52.7" cy="663.9" r="1.9" fill="#c4c8b4" filter="url(#b1)"/>
<circle cx="42.2" cy="652.5" r="1.9" fill="#c4c8b4" filter="url(#b1)"/>
<circle cx="66.9" cy="658.7" r="1.9" fill="#c4c8b4" filter="url(#b1)"/>
<circle cx="100.4" cy="657.8" r="1.9" fill="#c4c8b4" filter="url(#b1)"/>
<circle cx="119.8" cy="666.6" r="1.9" fill="#c4c8b4" filter="url(#b1)"/>
<circle cx="123.4" cy="676.3" r="1.9" fill="#c4c8b4" filter="url(#b1)"/>
<circle cx="140.1" cy="681.6" r="1.9" fill="#c4c8b4" filter="url(#b1)"/>
<circle cx="97.8" cy="591.6" r="1.9" fill="#c4c8b4" filter="url(#b1)"/>
<circle cx="73.1" cy="606.6" r="1.9" fill="#c4c8b4" filter="url(#b1)"/>
<circle cx="137.5" cy="614.5" r="1.9" fill="#c4c8b4" filter="url(#b1)"/>
<circle cx="68.6" cy="685.1" r="1.9" fill="#c4c8b4" filter="url(#b1)"/>
<circle cx="112.8" cy="697.5" r="1.9" fill="#c4c8b4" filter="url(#b1)"/>
<circle cx="82.8" cy="642.8" r="1.9" fill="#c4c8b4" filter="url(#b1)"/>
</g>
<text x="26.2" y="698.2" font-size="13.5" text-anchor="start" fill="#f2f2ea" >Gata6-EGFP ESC</text>
<g clip-path="url(#c2)" filter="url(#tex)">
<rect x="123" y="568" width="158" height="158" fill="#484834"/>
<polygon points="186.0,605.5 197.5,603.9 209.1,627.0 220.7,655.1 214.1,666.7 184.3,668.3 159.5,661.7 149.6,643.5 156.2,625.4 172.8,617.1" fill="#76836a" opacity="0.85" filter="url(#b3)"/>
<polygon points="222.3,681.6 235.6,666.7 250.4,666.7 262.0,675.0 262.0,708.0 229.0,708.0" fill="#768268" opacity="0.9" filter="url(#b3)"/>
<polygon points="143.0,605.5 152.9,607.2 151.3,627.0 143.0,632.0" fill="#74786a" opacity="0.8" filter="url(#b3)"/>
<polygon points="152.9,668.3 166.1,670.0 164.5,678.3 154.6,679.9" fill="#7a8a72" opacity="0.7" filter="url(#b3)"/>
<circle cx="192.6" cy="613.8" r="6.6" fill="#5e9858" opacity="0.7" filter="url(#b2)"/>
<circle cx="184.3" cy="638.6" r="4.3" fill="#5cc264" opacity="0.85" filter="url(#b2)"/>
<circle cx="180.2" cy="661.7" r="4.0" fill="#5abe62" opacity="0.85" filter="url(#b2)"/>
<circle cx="209.9" cy="640.2" r="3.6" fill="#5dbb5e" opacity="0.75" filter="url(#b2)"/>
<circle cx="169.4" cy="633.6" r="5.3" fill="#6aa565" opacity="0.6" filter="url(#b2)"/>
<circle cx="240.5" cy="681.6" r="6.0" fill="#5ccf66" opacity="0.7" filter="url(#b2)"/>
<circle cx="176.1" cy="679.9" r="4.0" fill="#5a9e58" opacity="0.6" filter="url(#b2)"/>
<circle cx="194.2" cy="681.6" r="3.3" fill="#5a9e58" opacity="0.5" filter="url(#b2)"/>
<circle cx="227.3" cy="650.2" r="4.0" fill="#95ab8b" opacity="0.7" filter="url(#b2)"/>
<circle cx="227.3" cy="603.9" r="4.6" fill="#8f927f" opacity="0.7" filter="url(#b2)"/>
<circle cx="217.4" cy="609.7" r="2.6" fill="#8f927f" opacity="0.7" filter="url(#b2)"/>
<circle cx="233.9" cy="606.4" r="2.3" fill="#999c8a" opacity="0.7" filter="url(#b2)"/>
<circle cx="257.0" cy="630.3" r="3.3" fill="#8f927f" opacity="0.6" filter="url(#b2)"/>
<circle cx="204.2" cy="595.6" r="2.0" fill="#8f927f" opacity="0.6" filter="url(#b2)"/>
<circle cx="174.4" cy="598.9" r="1.7" fill="#8f927f" opacity="0.6" filter="url(#b2)"/>
<circle cx="174.4" cy="598.9" r="1.8" fill="#a9ad9a" opacity="0.8" filter="url(#b1)"/>
<circle cx="181.0" cy="594.8" r="1.8" fill="#a9ad9a" opacity="0.8" filter="url(#b1)"/>
<circle cx="204.2" cy="598.9" r="1.8" fill="#a9ad9a" opacity="0.8" filter="url(#b1)"/>
<circle cx="212.4" cy="600.6" r="1.8" fill="#a9ad9a" opacity="0.8" filter="url(#b1)"/>
<circle cx="164.5" cy="618.8" r="1.8" fill="#a9ad9a" opacity="0.8" filter="url(#b1)"/>
<circle cx="222.3" cy="638.6" r="1.8" fill="#a9ad9a" opacity="0.8" filter="url(#b1)"/>
<circle cx="257.0" cy="601.4" r="1.8" fill="#a9ad9a" opacity="0.8" filter="url(#b1)"/>
<circle cx="242.2" cy="601.4" r="1.8" fill="#a9ad9a" opacity="0.8" filter="url(#b1)"/>
<circle cx="249.6" cy="613.8" r="1.8" fill="#a9ad9a" opacity="0.8" filter="url(#b1)"/>
<circle cx="184.3" cy="694.8" r="1.8" fill="#a9ad9a" opacity="0.8" filter="url(#b1)"/>
<circle cx="209.1" cy="684.9" r="1.8" fill="#a9ad9a" opacity="0.8" filter="url(#b1)"/>
<circle cx="214.1" cy="689.8" r="1.8" fill="#a9ad9a" opacity="0.8" filter="url(#b1)"/>
<circle cx="152.9" cy="694.8" r="1.8" fill="#a9ad9a" opacity="0.8" filter="url(#b1)"/>
<circle cx="162.8" cy="691.5" r="1.8" fill="#a9ad9a" opacity="0.8" filter="url(#b1)"/>
<circle cx="205.8" cy="671.6" r="1.8" fill="#a9ad9a" opacity="0.8" filter="url(#b1)"/>
<circle cx="149.6" cy="650.2" r="1.8" fill="#a9ad9a" opacity="0.8" filter="url(#b1)"/>
<circle cx="197.5" cy="678.3" r="1.8" fill="#a9ad9a" opacity="0.8" filter="url(#b1)"/>
<circle cx="235.6" cy="638.6" r="1.8" fill="#a9ad9a" opacity="0.8" filter="url(#b1)"/>
<circle cx="245.5" cy="655.1" r="1.8" fill="#a9ad9a" opacity="0.8" filter="url(#b1)"/>
<polyline points="149.6,643.5 159.5,638.6 172.8,627.0 176.1,618.8" fill="none" stroke="#a4a893" stroke-width="1" opacity="0.6" filter="url(#b1)"/>
<polyline points="159.5,661.7 176.1,666.7 192.6,668.3 214.1,666.7" fill="none" stroke="#a4a893" stroke-width="1" opacity="0.6" filter="url(#b1)"/>
<polyline points="220.7,655.1 229.0,666.7 222.3,681.6" fill="none" stroke="#a4a893" stroke-width="1" opacity="0.6" filter="url(#b1)"/>
<polyline points="197.5,603.9 205.8,618.8 209.1,627.0" fill="none" stroke="#a4a893" stroke-width="1" opacity="0.6" filter="url(#b1)"/>
</g>
<g clip-path="url(#c3)" filter="url(#tex)">
<rect x="243" y="568" width="158" height="158" fill="#433828"/>
<polygon points="294.4,595.6 317.5,594.0 320.9,612.1 306.0,615.4 292.8,608.8" fill="#7f816a" opacity="0.9" filter="url(#b2)"/>
<polygon points="337.4,589.0 382.0,589.0 382.0,617.1 362.2,613.8 349.0,620.4 335.7,608.8" fill="#858a70" opacity="0.9" filter="url(#b2)"/>
<polygon points="263.0,617.1 287.8,618.8 289.4,630.3 272.9,633.6 263.0,632.0" fill="#7d9a70" opacity="0.9" filter="url(#b2)"/>
<polygon points="342.3,645.2 362.2,641.9 378.7,648.5 377.0,668.3 362.2,673.3 345.6,666.7 339.0,655.1" fill="#86906f" opacity="0.95" filter="url(#b2)"/>
<polygon points="352.3,675.0 382.0,678.3 382.0,689.8 362.2,688.2" fill="#7d7c64" opacity="0.85" filter="url(#b2)"/>
<polygon points="312.6,691.5 329.1,689.8 330.8,708.0 312.6,708.0" fill="#85906f" opacity="0.9" filter="url(#b2)"/>
<polygon points="287.8,617.1 306.0,612.1 312.6,618.8 296.1,632.0 286.1,638.6 272.9,636.9" fill="#6f6d57" opacity="0.7" filter="url(#b2)"/>
<polygon points="263.0,638.6 282.8,638.6 304.3,658.4 287.8,666.7 263.0,660.1" fill="#5d5a44" opacity="0.8" filter="url(#b2)"/>
<polygon points="317.5,613.8 332.4,605.5 340.7,618.8 345.6,638.6 335.7,643.5 325.8,632.0" fill="#5f6a4c" opacity="0.7" filter="url(#b2)"/>
<circle cx="349.0" cy="595.6" r="5.0" fill="#48be50" opacity="0.85" filter="url(#b2)"/>
<circle cx="340.7" cy="600.6" r="4.0" fill="#58b85a" opacity="0.75" filter="url(#b2)"/>
<circle cx="266.3" cy="625.4" r="5.0" fill="#6ad070" opacity="0.85" filter="url(#b2)"/>
<circle cx="310.1" cy="652.6" r="6.6" fill="#44c44e" opacity="0.9" filter="url(#b2)"/>
<circle cx="289.4" cy="671.6" r="5.6" fill="#4ccc56" opacity="0.9" filter="url(#b2)"/>
<circle cx="296.9" cy="684.9" r="5.3" fill="#44c24e" opacity="0.9" filter="url(#b2)"/>
<circle cx="344.0" cy="675.0" r="5.0" fill="#50b858" opacity="0.8" filter="url(#b2)"/>
<circle cx="358.9" cy="661.7" r="5.3" fill="#62cc68" opacity="0.85" filter="url(#b2)"/>
<circle cx="319.2" cy="617.1" r="5.0" fill="#4f9e52" opacity="0.7" filter="url(#b2)"/>
<circle cx="334.4" cy="637.3" r="2.1" fill="#66d46e" opacity="0.9" filter="url(#b2)"/>
<circle cx="320.0" cy="694.8" r="3.3" fill="#7fd67f" opacity="0.9" filter="url(#b2)"/>
<circle cx="372.1" cy="641.9" r="4.3" fill="#5ca85e" opacity="0.7" filter="url(#b2)"/>
<circle cx="329.1" cy="666.7" r="6.0" fill="#428e48" opacity="0.6" filter="url(#b2)"/>
<circle cx="368.8" cy="607.2" r="3.6" fill="#60b864" opacity="0.7" filter="url(#b2)"/>
<circle cx="315.9" cy="636.9" r="3.6" fill="#4f9e52" opacity="0.6" filter="url(#b2)"/>
<circle cx="346.5" cy="633.6" r="3.0" fill="#4f9e52" opacity="0.6" filter="url(#b2)"/>
<circle cx="276.2" cy="613.8" r="1.3" fill="#9ad070" opacity="0.9" filter="url(#b1)"/>
<circle cx="276.2" cy="613.8" r="1.8" fill="#b5b39a" opacity="0.85" filter="url(#b1)"/>
<circle cx="329.1" cy="607.2" r="1.8" fill="#b5b39a" opacity="0.85" filter="url(#b1)"/>
<circle cx="292.8" cy="655.1" r="1.8" fill="#b5b39a" opacity="0.85" filter="url(#b1)"/>
<circle cx="269.6" cy="693.1" r="1.8" fill="#b5b39a" opacity="0.85" filter="url(#b1)"/>
<circle cx="277.9" cy="694.8" r="1.8" fill="#b5b39a" opacity="0.85" filter="url(#b1)"/>
<circle cx="301.0" cy="698.1" r="1.8" fill="#b5b39a" opacity="0.85" filter="url(#b1)"/>
<circle cx="335.7" cy="683.2" r="1.8" fill="#b5b39a" opacity="0.85" filter="url(#b1)"/>
<circle cx="325.8" cy="643.5" r="1.8" fill="#b5b39a" opacity="0.85" filter="url(#b1)"/>
<circle cx="291.1" cy="636.9" r="1.8" fill="#b5b39a" opacity="0.85" filter="url(#b1)"/>
<circle cx="272.9" cy="663.4" r="1.8" fill="#b5b39a" opacity="0.85" filter="url(#b1)"/>
<circle cx="309.3" cy="675.0" r="1.8" fill="#b5b39a" opacity="0.85" filter="url(#b1)"/>
<circle cx="377.0" cy="651.8" r="1.8" fill="#b5b39a" opacity="0.85" filter="url(#b1)"/>
<circle cx="345.6" cy="643.5" r="1.8" fill="#b5b39a" opacity="0.85" filter="url(#b1)"/>
<polyline points="263.0,608.8 279.5,598.9 296.1,594.0" fill="none" stroke="#b0ae96" stroke-width="1.1" opacity="0.7" filter="url(#b1)"/>
<polyline points="287.8,622.1 301.0,613.8 312.6,617.1 319.2,630.3" fill="none" stroke="#b0ae96" stroke-width="1.1" opacity="0.7" filter="url(#b1)"/>
<polyline points="349.0,620.4 362.2,615.4 378.7,622.1" fill="none" stroke="#b0ae96" stroke-width="1.1" opacity="0.7" filter="url(#b1)"/>
<polyline points="339.0,658.4 349.0,671.6 365.5,681.6 378.7,686.5" fill="none" stroke="#b0ae96" stroke-width="1.1" opacity="0.7" filter="url(#b1)"/>
<polyline points="263.0,638.6 276.2,643.5 296.1,658.4 306.0,665.0" fill="none" stroke="#b0ae96" stroke-width="1.1" opacity="0.7" filter="url(#b1)"/>
<polyline points="312.6,691.5 320.9,686.5 329.1,691.5" fill="none" stroke="#b0ae96" stroke-width="1.1" opacity="0.7" filter="url(#b1)"/>
<polyline points="332.4,589.0 329.1,605.5 319.2,613.8" fill="none" stroke="#b0ae96" stroke-width="1.1" opacity="0.7" filter="url(#b1)"/>
<polyline points="342.3,645.2 350.6,638.6 352.3,622.1" fill="none" stroke="#b0ae96" stroke-width="1.1" opacity="0.7" filter="url(#b1)"/>
</g>
<text x="43" y="731" font-size="14.8" text-anchor="start" fill="#111" >GFP+ 1.2 %</text>
<text x="181.5" y="730.7" font-size="14.4" text-anchor="start" fill="#111" >12.6 %</text>
<text x="301.6" y="730.7" font-size="14.4" text-anchor="start" fill="#111" >14.8 %</text>
<rect x="39.5" y="735.3" width="86.8" height="85.5" fill="#000"/>
<path d="M52.3 809.6h.9M55.5 803.1h.9M52.6 794.0h.9M63.3 795.6h.9M69.3 804.8h.9M61.6 810.4h.9M70.0 797.9h.9M64.1 808.2h.9M68.1 784.2h.9M70.9 795.6h.9M55.6 805.2h.9M72.0 800.9h.9M55.3 798.6h.9M54.8 795.1h.9M66.5 794.8h.9M55.1 801.1h.9M54.1 808.6h.9M66.1 796.0h.9M59.1 794.4h.9M57.1 802.5h.9M55.9 815.1h.9M54.7 797.8h.9M62.3 790.6h.9M59.8 801.0h.9M56.6 804.5h.9M74.5 796.8h.9M65.0 804.4h.9M52.6 803.9h.9M62.8 801.4h.9M56.3 811.5h.9M57.4 811.7h.9M73.2 806.7h.9M69.3 804.2h.9M62.7 799.8h.9M68.0 800.7h.9M51.3 803.7h.9M65.5 796.9h.9M66.0 802.7h.9M56.1 797.2h.9M49.9 807.7h.9M64.6 800.2h.9M62.6 800.9h.9M60.2 799.5h.9M61.2 792.0h.9M61.4 798.8h.9M66.7 789.6h.9M70.4 802.6h.9M57.8 801.0h.9M69.2 802.4h.9M57.8 807.8h.9M56.1 814.3h.9M59.0 791.9h.9M64.9 800.3h.9M63.9 799.7h.9M60.5 804.1h.9M53.9 811.5h.9M67.0 798.1h.9M58.5 812.2h.9M60.4 807.3h.9M55.3 787.7h.9M72.0 786.9h.9M57.9 797.8h.9M51.7 803.4h.9M65.8 804.1h.9M60.3 809.5h.9M66.1 809.2h.9M66.0 807.2h.9M49.2 793.4h.9M58.9 805.9h.9M75.7 798.0h.9M63.9 799.7h.9M63.9 803.0h.9M67.3 794.4h.9M68.8 804.0h.9M60.9 800.3h.9M66.5 792.0h.9M65.7 799.2h.9M62.3 795.5h.9M60.7 799.2h.9M65.7 810.1h.9M63.2 803.0h.9M54.7 810.6h.9M52.3 805.9h.9M60.5 787.2h.9M60.2 812.9h.9M70.0 799.0h.9M60.6 797.9h.9M60.5 778.6h.9M58.1 803.1h.9M62.0 786.6h.9M63.2 808.3h.9M67.8 793.3h.9M57.4 802.3h.9M64.1 797.2h.9M66.6 794.9h.9M49.5 801.6h.9M62.6 812.0h.9M54.7 795.2h.9M57.1 798.3h.9M58.9 810.1h.9M58.6 793.5h.9M54.9 797.1h.9M61.7 794.0h.9M64.1 792.9h.9M58.7 805.6h.9M53.5 806.8h.9M57.6 800.1h.9M71.2 796.4h.9M64.4 788.6h.9M57.2 789.1h.9M53.6 795.0h.9M62.1 800.6h.9M61.9 807.8h.9M74.8 804.1h.9M50.4 787.3h.9M63.4 798.6h.9M67.2 802.4h.9M67.6 791.6h.9M51.5 806.1h.9M63.6 787.1h.9M61.3 794.5h.9M62.9 793.0h.9M63.4 802.8h.9M56.1 805.5h.9M63.9 790.0h.9M55.0 803.1h.9M50.9 806.7h.9M56.7 800.6h.9M62.0 796.4h.9M71.4 787.1h.9M58.0 798.4h.9M70.2 794.1h.9M55.0 812.0h.9M56.4 797.4h.9M51.0 800.1h.9M60.0 784.3h.9M60.2 805.7h.9M65.7 792.4h.9M57.8 812.2h.9M61.4 797.0h.9M52.3 808.6h.9M58.7 808.7h.9M71.3 805.3h.9M53.5 799.4h.9M60.4 802.9h.9M65.9 800.1h.9M64.5 794.0h.9M58.9 789.1h.9M56.8 791.2h.9M52.1 796.0h.9M68.5 801.6h.9M49.6 796.5h.9M57.8 802.0h.9M52.4 803.4h.9M56.2 797.2h.9M51.4 804.5h.9M59.3 799.3h.9M65.0 796.0h.9M55.9 800.5h.9M59.5 800.2h.9M60.7 789.2h.9M57.2 808.0h.9M71.1 783.5h.9M53.8 803.7h.9M56.3 806.2h.9M65.8 808.8h.9M61.2 804.5h.9M59.1 809.4h.9M67.7 803.8h.9M46.2 795.4h.9M62.3 817.2h.9M68.6 803.5h.9M52.1 787.5h.9M78.7 792.8h.9M62.9 807.4h.9M63.1 794.6h.9M64.0 799.8h.9M61.3 788.7h.9M75.1 799.3h.9M52.6 813.9h.9M54.8 815.5h.9M64.3 817.6h.9M64.6 799.4h.9M53.7 806.1h.9M67.8 790.6h.9M52.8 802.7h.9M56.4 807.5h.9M57.4 798.9h.9M61.3 799.6h.9M59.3 791.2h.9M62.5 803.5h.9M64.9 803.4h.9M65.3 788.7h.9M54.2 808.6h.9M56.7 801.5h.9M69.8 793.9h.9M64.8 809.2h.9M65.3 800.7h.9M53.1 816.8h.9M63.2 798.0h.9M75.7 796.4h.9M47.4 786.0h.9M62.7 808.0h.9M61.5 798.6h.9M47.0 799.2h.9M68.9 800.8h.9M62.1 801.3h.9M55.6 799.5h.9M64.2 792.0h.9M59.0 803.2h.9M66.9 799.4h.9M72.2 800.8h.9M58.8 799.8h.9M64.7 784.0h.9M72.4 795.5h.9M52.2 794.6h.9M60.9 784.2h.9M53.8 795.8h.9M65.7 804.8h.9M53.4 790.1h.9M63.0 790.7h.9M57.4 802.6h.9M62.5 781.6h.9M57.6 803.8h.9M46.3 805.7h.9M49.4 788.6h.9M68.4 801.8h.9M68.7 794.3h.9M58.2 789.8h.9M62.3 817.1h.9M53.2 793.8h.9M53.9 791.6h.9M49.8 804.4h.9M58.1 808.1h.9M71.7 793.3h.9M52.4 802.8h.9M66.2 808.6h.9M63.8 801.9h.9M64.3 805.7h.9M49.4 790.9h.9M52.8 799.2h.9M67.3 804.3h.9M48.6 794.5h.9M59.4 796.5h.9M58.1 797.4h.9M59.6 815.4h.9M65.9 798.4h.9M57.0 799.8h.9M67.1 803.6h.9M66.1 790.6h.9M49.3 793.5h.9M60.8 796.3h.9M57.7 812.2h.9M60.6 803.7h.9M55.3 804.7h.9M59.7 803.3h.9M69.2 797.2h.9M61.2 796.2h.9M52.8 807.6h.9M61.4 802.7h.9M64.7 799.4h.9M50.2 799.5h.9M57.1 799.6h.9M57.3 808.5h.9M65.5 800.2h.9M58.4 796.0h.9M59.3 811.4h.9M63.6 787.4h.9M64.8 807.0h.9M58.3 791.6h.9M74.2 806.9h.9M64.2 807.7h.9M66.7 794.2h.9M59.3 803.6h.9M58.6 808.5h.9M53.3 792.1h.9M46.5 790.7h.9M68.8 807.5h.9M60.4 793.5h.9M53.9 798.7h.9M58.9 807.9h.9M65.9 790.2h.9M61.6 799.5h.9M68.2 804.8h.9M50.8 794.2h.9M60.6 801.3h.9M59.2 801.6h.9M69.9 797.6h.9M64.1 795.4h.9M65.2 800.0h.9M69.3 796.3h.9M65.0 804.6h.9M50.8 796.3h.9M70.0 807.9h.9M65.0 797.3h.9M60.0 811.3h.9M63.6 810.4h.9M71.7 793.9h.9M66.1 805.0h.9M60.3 802.9h.9M64.7 801.1h.9M55.7 806.8h.9M64.0 800.6h.9M60.7 791.9h.9M63.4 795.1h.9M48.9 803.0h.9M51.1 810.4h.9M78.6 790.1h.9M59.2 806.4h.9M60.0 810.1h.9M64.4 789.9h.9M59.2 792.2h.9M63.1 806.4h.9M49.3 803.8h.9M60.8 785.3h.9M60.7 812.3h.9M49.0 805.3h.9M51.1 789.2h.9M66.6 792.5h.9M55.3 801.0h.9M55.9 799.2h.9M63.5 803.3h.9M58.4 799.0h.9M46.5 801.5h.9M58.2 796.7h.9M58.6 797.3h.9M58.4 801.9h.9M68.5 793.3h.9M63.4 804.9h.9M55.7 801.1h.9M77.7 781.7h.9M60.4 803.4h.9M50.8 806.7h.9M57.2 817.5h.9M52.5 804.6h.9M54.9 797.7h.9M60.3 789.7h.9M54.0 798.3h.9M67.7 802.3h.9M62.2 806.3h.9M57.7 793.6h.9M58.1 791.1h.9M60.1 803.7h.9M60.4 789.5h.9M55.6 791.5h.9M65.5 801.7h.9M49.2 803.6h.9M61.9 800.2h.9M62.9 800.6h.9M62.6 782.6h.9M67.0 796.4h.9M55.3 797.8h.9M65.2 801.0h.9M47.9 794.5h.9M54.3 799.9h.9M52.2 799.7h.9M65.0 782.1h.9M45.6 785.9h.9M66.3 803.4h.9M60.6 803.2h.9M56.6 805.2h.9M51.5 804.6h.9M58.4 798.3h.9M75.5 801.4h.9M45.8 799.6h.9M56.5 800.4h.9M63.4 794.3h.9M62.6 785.5h.9M62.3 788.9h.9M57.1 800.4h.9M59.8 807.4h.9M52.8 798.3h.9M66.5 799.9h.9M55.7 796.4h.9M56.2 788.7h.9M65.1 797.1h.9M58.3 801.1h.9M66.4 797.0h.9M56.6 797.3h.9M55.1 802.7h.9M57.7 801.4h.9M57.4 804.2h.9M57.1 802.7h.9M62.3 800.1h.9M61.8 799.5h.9M59.5 797.1h.9M64.2 790.7h.9M63.0 804.7h.9M65.9 795.1h.9M58.8 806.2h.9M58.0 802.2h.9M60.2 800.4h.9M72.1 791.2h.9M70.3 785.6h.9M62.1 811.5h.9M55.2 792.1h.9M65.0 796.7h.9M69.9 796.1h.9M72.5 794.3h.9M65.0 794.4h.9M53.0 794.5h.9M53.8 804.2h.9M56.8 802.1h.9M68.1 797.6h.9M57.7 801.1h.9M64.1 794.4h.9M50.9 803.7h.9M65.9 794.3h.9M63.8 807.9h.9M55.9 810.0h.9M59.0 803.0h.9M57.4 793.7h.9M62.0 792.4h.9M57.8 802.0h.9M55.1 811.1h.9M58.8 796.4h.9M56.1 801.9h.9M62.8 807.7h.9M57.9 793.1h.9M55.2 807.9h.9M55.3 811.7h.9M57.1 799.9h.9M59.8 793.6h.9M59.4 791.9h.9M53.5 805.8h.9M57.3 798.5h.9M59.8 809.2h.9M65.2 807.5h.9M68.4 803.9h.9M61.3 802.1h.9M68.7 799.8h.9M71.1 801.6h.9M64.0 812.7h.9M73.0 790.8h.9M50.9 810.1h.9M62.4 797.1h.9M59.0 805.1h.9M57.9 790.8h.9M54.8 810.5h.9M54.6 795.4h.9M62.1 797.8h.9M55.4 791.0h.9M60.2 798.7h.9M54.8 795.8h.9M75.4 797.0h.9M61.7 810.8h.9M54.1 803.1h.9M49.7 789.8h.9M44.1 784.5h.9M54.1 800.0h.9M65.4 789.0h.9M56.1 805.9h.9M56.7 798.3h.9M66.7 801.3h.9M58.3 810.8h.9M61.3 806.6h.9M58.7 799.1h.9M64.1 794.2h.9M60.3 810.2h.9M55.2 802.4h.9M56.8 805.1h.9M67.1 799.8h.9M64.8 808.0h.9M64.4 800.2h.9M71.4 796.3h.9M56.7 809.2h.9M66.1 799.7h.9M48.8 809.7h.9M62.3 807.6h.9M57.2 797.9h.9M60.2 808.4h.9M57.1 806.8h.9M72.4 807.9h.9M60.9 800.1h.9M67.7 801.8h.9M57.4 803.4h.9M62.2 808.7h.9M59.0 790.6h.9M55.9 797.6h.9M59.5 801.2h.9M64.7 802.6h.9M70.9 804.7h.9M61.6 806.2h.9M52.8 792.0h.9M68.5 797.8h.9M58.1 812.0h.9M65.4 784.7h.9M53.9 807.2h.9M61.5 795.3h.9M63.5 798.0h.9M61.3 803.5h.9M67.3 809.5h.9M55.4 804.3h.9M69.2 810.8h.9M52.4 808.2h.9M71.4 800.9h.9M68.5 809.6h.9M65.0 810.9h.9M51.1 804.6h.9M64.9 784.4h.9M57.3 809.5h.9M57.4 784.4h.9M61.4 788.0h.9M72.0 791.7h.9M59.0 794.5h.9M50.5 812.8h.9M53.7 811.3h.9M63.9 805.9h.9M56.2 805.4h.9M58.2 788.6h.9M72.1 787.6h.9M59.5 803.2h.9M58.9 805.8h.9M52.1 801.6h.9M51.5 796.2h.9M53.6 802.9h.9M61.7 801.1h.9M71.2 798.7h.9M55.7 796.3h.9M61.3 799.7h.9M64.1 805.3h.9M51.5 808.7h.9M58.3 784.1h.9M54.1 799.9h.9M61.1 803.5h.9M55.1 807.9h.9M55.6 792.8h.9M47.1 792.1h.9M59.7 790.6h.9M61.4 793.7h.9M64.7 791.6h.9M59.3 790.5h.9M70.8 797.0h.9M50.5 807.9h.9M56.5 796.2h.9M51.1 794.5h.9M64.5 811.1h.9M69.8 791.4h.9M62.1 794.4h.9M68.2 798.2h.9M67.3 799.0h.9M52.8 805.3h.9M56.5 790.2h.9M58.4 798.9h.9M56.7 795.0h.9M50.8 791.3h.9M52.0 814.9h.9M74.2 797.2h.9M71.5 801.5h.9M59.9 801.0h.9M61.1 795.6h.9M43.8 801.1h.9M50.3 817.4h.9M50.7 802.8h.9M57.2 801.8h.9M61.5 803.3h.9M68.3 796.8h.9M54.1 799.8h.9M58.3 790.8h.9M50.5 812.3h.9M57.7 799.2h.9M49.5 804.9h.9M66.7 804.2h.9M62.4 796.2h.9M58.9 793.5h.9M56.2 801.2h.9M61.2 799.5h.9M59.5 805.9h.9M53.5 791.1h.9M55.1 787.4h.9M64.4 797.9h.9M56.4 798.2h.9M49.6 801.5h.9M63.6 789.8h.9M71.5 792.9h.9M62.3 813.2h.9M53.7 801.1h.9M56.8 794.8h.9M64.4 801.2h.9M64.8 802.0h.9M62.4 788.7h.9M61.6 799.4h.9M64.2 804.1h.9M63.3 788.3h.9M54.3 785.7h.9M46.1 802.6h.9M60.7 805.9h.9M63.2 814.7h.9M69.4 806.8h.9M55.8 816.7h.9M57.0 796.7h.9M51.7 804.8h.9M53.9 791.6h.9M66.7 798.6h.9M77.1 807.7h.9M61.5 799.6h.9M64.3 797.4h.9M67.7 804.9h.9M55.9 797.3h.9M63.0 801.2h.9M69.7 803.0h.9M51.2 792.5h.9M68.3 808.6h.9M71.2 806.9h.9M70.0 800.9h.9M67.8 801.0h.9M56.7 801.1h.9M66.5 798.2h.9M45.8 803.7h.9M52.9 814.7h.9M63.6 807.2h.9M61.7 805.6h.9M62.3 790.5h.9M61.3 807.3h.9M62.9 802.9h.9M53.1 787.5h.9M69.9 784.5h.9M60.7 799.4h.9M57.3 798.6h.9M61.8 793.4h.9M58.3 812.3h.9M63.1 799.0h.9M54.6 807.0h.9M54.9 793.4h.9M48.0 807.4h.9M52.3 809.2h.9M56.3 794.4h.9M55.9 811.4h.9M72.6 796.4h.9M62.6 803.4h.9M58.7 805.5h.9M65.9 791.1h.9M69.2 808.8h.9M64.3 783.2h.9M53.3 806.9h.9M56.1 798.2h.9M65.9 795.6h.9M50.0 792.8h.9M54.7 800.3h.9M50.7 818.8h.9M56.4 814.2h.9M52.6 803.5h.9M56.5 786.6h.9M62.5 793.2h.9M49.5 794.2h.9M76.7 783.7h.9M63.4 799.0h.9M57.8 795.0h.9M68.3 796.9h.9M63.6 806.6h.9M62.6 807.1h.9M61.5 787.5h.9M60.7 794.3h.9M58.1 803.5h.9M60.2 812.8h.9M64.0 807.0h.9M61.9 807.0h.9M65.0 807.2h.9M60.6 813.8h.9M65.2 800.8h.9M65.9 803.7h.9M58.4 798.5h.9M55.7 792.6h.9M68.7 793.3h.9M59.0 804.2h.9M63.6 790.5h.9M60.0 799.7h.9M53.7 793.6h.9M53.5 799.5h.9M60.9 810.3h.9M56.3 798.2h.9M56.4 789.5h.9M58.3 809.7h.9M71.8 798.0h.9M66.3 801.5h.9M66.7 790.1h.9M61.9 809.4h.9M48.8 793.3h.9M65.5 791.1h.9M76.0 804.8h.9M64.7 791.3h.9M69.1 790.6h.9M52.2 806.0h.9M62.9 790.1h.9M63.3 803.4h.9M67.2 810.4h.9M59.7 803.2h.9M64.3 806.1h.9M51.1 800.4h.9M55.6 812.0h.9M58.1 802.0h.9M63.2 790.3h.9M64.1 809.8h.9M51.8 806.2h.9M63.2 809.3h.9M72.7 783.1h.9M61.9 795.1h.9M70.6 806.2h.9M68.9 790.5h.9M40.2 791.8h.9M66.9 817.6h.9M51.9 817.4h.9M50.0 812.5h.9M58.6 798.5h.9M74.1 805.0h.9M55.2 816.3h.9M57.8 818.5h.9M73.1 811.6h.9M51.2 798.0h.9M71.2 811.7h.9M46.8 817.9h.9M66.4 797.0h.9M74.0 815.5h.9M43.1 810.1h.9M66.4 812.2h.9M49.2 813.7h.9M45.4 790.5h.9M62.5 801.1h.9M65.6 785.8h.9M47.1 804.2h.9M62.8 815.9h.9M57.2 809.5h.9M42.9 801.8h.9M49.9 809.2h.9M54.1 806.2h.9M74.9 787.9h.9M64.8 805.5h.9M43.1 813.3h.9M44.9 804.1h.9M51.7 808.0h.9M47.2 808.8h.9M73.7 811.6h.9M66.1 813.3h.9M62.8 819.3h.9M46.5 791.4h.9M58.9 801.8h.9M50.7 814.6h.9M43.8 807.5h.9M69.1 819.8h.9M51.6 809.4h.9M44.4 807.9h.9M47.9 803.1h.9M73.9 805.1h.9M75.7 816.5h.9M56.3 818.9h.9M44.1 812.5h.9M48.9 811.0h.9M64.0 792.4h.9M64.0 801.2h.9M68.5 785.1h.9M67.7 813.4h.9M72.8 815.3h.9M70.4 800.3h.9M69.4 798.9h.9M63.9 803.0h.9M45.3 812.2h.9M66.1 814.2h.9M69.1 806.0h.9M61.6 810.3h.9M55.7 813.5h.9M47.6 802.1h.9M69.5 801.1h.9M68.6 788.0h.9M54.7 791.9h.9M74.7 807.1h.9M45.8 804.8h.9M71.8 805.8h.9M46.2 809.1h.9M41.1 798.9h.9M66.9 810.7h.9M75.1 813.8h.9M72.3 811.3h.9M42.7 806.0h.9M70.0 813.1h.9M53.5 800.4h.9M70.7 808.4h.9M67.6 813.4h.9M65.9 815.9h.9M49.3 794.1h.9M48.9 787.6h.9M63.4 789.8h.9M50.9 811.5h.9M45.3 793.7h.9M71.3 789.4h.9M49.7 812.3h.9M72.8 786.3h.9M46.3 804.0h.9M59.7 784.8h.9M61.6 800.8h.9M52.8 808.0h.9M44.8 809.6h.9M48.6 791.1h.9M46.4 784.9h.9M50.5 803.9h.9M43.9 798.1h.9M43.7 796.8h.9M56.7 812.8h.9M40.9 786.3h.9M63.9 806.4h.9M57.4 817.2h.9M69.5 818.3h.9M58.4 785.9h.9M56.7 789.0h.9M60.0 815.0h.9M74.8 802.3h.9M73.8 818.4h.9M44.8 815.7h.9M72.3 798.7h.9M69.6 816.9h.9M72.5 785.4h.9M56.7 800.2h.9M74.1 799.7h.9M52.0 805.0h.9M60.8 806.8h.9M46.6 816.3h.9M41.6 787.6h.9M59.0 806.5h.9M41.8 815.4h.9M60.5 805.6h.9M50.1 817.0h.9M57.6 817.2h.9M62.2 798.4h.9M52.1 817.1h.9M66.6 794.3h.9M68.0 814.6h.9M63.0 797.8h.9M66.3 815.6h.9M70.0 818.2h.9M73.2 813.8h.9M51.7 785.3h.9M56.8 786.9h.9M67.9 801.7h.9M71.5 797.5h.9M53.7 803.6h.9M68.1 790.9h.9M60.1 811.4h.9M61.8 813.6h.9M45.9 818.3h.9M66.4 800.5h.9M65.7 792.0h.9M47.2 799.4h.9M57.0 797.6h.9M46.5 800.8h.9M75.4 817.1h.9M60.6 818.3h.9M69.9 798.5h.9M55.3 784.9h.9M66.5 817.7h.9M64.1 814.0h.9M75.3 797.7h.9M62.4 807.9h.9M55.2 797.3h.9M75.8 816.9h.9M44.9 810.3h.9M61.8 793.1h.9M62.3 801.0h.9M62.6 789.7h.9M44.3 804.3h.9M63.1 809.9h.9M69.4 817.4h.9M40.2 786.7h.9M60.9 798.4h.9M73.6 811.1h.9M70.6 802.6h.9M75.6 800.4h.9M73.0 795.8h.9M70.2 798.5h.9M74.5 793.8h.9M52.0 816.7h.9M45.7 818.7h.9M63.8 785.9h.9M66.5 812.5h.9M48.3 813.7h.9M55.6 811.2h.9M49.0 814.8h.9M46.6 818.9h.9M58.4 790.8h.9M57.6 812.1h.9M61.2 805.5h.9M68.8 803.5h.9M51.4 804.1h.9M40.1 814.1h.9M66.5 810.4h.9M72.0 817.9h.9M65.8 806.7h.9M62.4 786.7h.9M54.8 811.4h.9M72.8 811.1h.9M44.5 796.2h.9M42.5 810.3h.9M68.9 789.6h.9M49.6 806.6h.9M48.6 807.6h.9M65.3 812.0h.9M55.0 787.9h.9M53.5 800.0h.9M71.9 793.9h.9M56.8 811.8h.9M40.5 796.2h.9M59.1 793.9h.9M61.5 785.6h.9M63.3 790.9h.9M68.3 814.0h.9M69.8 794.7h.9M49.8 814.8h.9M54.6 818.8h.9M71.3 819.7h.9M67.2 797.4h.9M64.1 819.5h.9M56.7 810.8h.9M54.8 787.9h.9M54.3 785.2h.9M69.4 820.1h.9M58.7 798.8h.9M48.6 815.2h.9M54.8 803.8h.9M66.2 795.3h.9M55.7 814.4h.9M46.1 788.2h.9M45.9 815.2h.9M72.8 806.7h.9M60.5 812.8h.9M53.9 809.2h.9M42.4 817.9h.9M64.7 809.3h.9M70.5 812.8h.9M53.5 806.9h.9M66.2 815.5h.9M71.7 818.5h.9M75.6 802.1h.9M43.9 816.3h.9M44.4 787.5h.9M51.0 819.9h.9M63.1 800.1h.9M40.2 802.0h.9M60.3 815.4h.9M59.4 791.2h.9M57.5 810.1h.9M61.4 812.7h.9M59.4 813.7h.9M56.2 813.8h.9M44.2 805.4h.9M69.7 812.9h.9M48.7 812.8h.9M41.2 787.3h.9M72.3 812.2h.9M67.4 794.1h.9M74.4 819.5h.9M71.2 805.7h.9M68.9 810.7h.9M70.1 799.6h.9M65.4 810.1h.9M44.3 808.7h.9M66.8 794.8h.9M76.0 817.5h.9M44.1 794.3h.9M62.3 789.1h.9M60.7 812.8h.9M40.0 789.1h.9M61.0 818.3h.9M55.8 810.6h.9M66.9 790.2h.9M69.5 787.8h.9M54.1 800.2h.9M40.2 791.6h.9M41.7 788.6h.9M54.0 805.6h.9M74.5 814.7h.9M43.0 797.0h.9M59.5 808.8h.9M55.4 816.3h.9M63.8 817.9h.9M62.6 811.8h.9M53.1 805.4h.9M64.5 811.9h.9M59.9 793.0h.9M75.5 804.7h.9M56.2 814.2h.9M44.7 796.3h.9M61.1 786.8h.9M75.4 805.8h.9M68.4 805.6h.9M43.6 795.4h.9M52.5 818.7h.9M43.5 812.0h.9M53.7 789.6h.9M69.3 795.8h.9M53.2 806.3h.9M43.1 805.4h.9M65.5 805.9h.9M67.3 803.0h.9M63.1 804.2h.9M46.1 808.8h.9M51.5 795.1h.9M59.8 816.7h.9M50.0 787.0h.9M52.3 808.0h.9M58.5 815.6h.9M70.6 819.8h.9M71.8 807.3h.9M62.6 795.3h.9M60.7 803.8h.9M62.2 806.0h.9M59.5 797.0h.9M40.4 795.6h.9M40.5 794.6h.9M56.7 807.7h.9M48.1 797.4h.9M70.7 816.8h.9M42.2 804.5h.9M66.7 805.2h.9M56.8 815.6h.9M55.2 800.0h.9M41.2 791.5h.9M43.7 795.1h.9M74.2 786.2h.9M66.2 815.0h.9M63.0 816.8h.9M67.4 819.7h.9M71.7 809.6h.9M44.0 797.8h.9M54.5 811.2h.9M69.3 813.8h.9M43.8 818.2h.9M47.1 812.8h.9M49.3 806.8h.9M56.4 816.8h.9M74.8 785.0h.9M55.4 796.4h.9M66.8 797.7h.9M42.4 802.7h.9M71.8 810.1h.9M50.2 788.7h.9M46.8 806.7h.9M58.7 814.3h.9M65.9 799.2h.9M63.6 818.8h.9M46.7 788.6h.9M51.3 818.4h.9M46.7 802.4h.9M72.3 810.7h.9M49.1 803.6h.9M63.8 819.1h.9M51.0 807.7h.9M40.5 796.4h.9M74.8 792.1h.9M44.3 806.2h.9M51.2 810.6h.9M73.9 816.1h.9M70.0 804.0h.9M72.7 812.2h.9M55.6 817.9h.9M60.8 802.5h.9M42.6 808.7h.9M73.4 787.9h.9M75.3 793.8h.9M73.3 815.4h.9M40.8 811.5h.9M56.6 802.7h.9M70.4 800.2h.9M75.0 809.6h.9M66.4 805.1h.9M63.8 810.3h.9M69.3 792.5h.9M57.6 802.9h.9M66.9 814.3h.9M58.9 810.9h.9M65.1 786.5h.9M55.2 797.9h.9M56.9 819.2h.9M56.3 804.6h.9M46.5 806.5h.9M42.4 795.5h.9M75.3 796.3h.9M67.4 790.1h.9M68.3 815.0h.9M63.6 811.8h.9M53.9 815.8h.9M47.9 806.1h.9M68.8 812.8h.9M41.5 807.4h.9M43.2 786.7h.9M63.8 795.5h.9M50.9 814.5h.9M64.9 806.1h.9M62.5 810.9h.9M61.8 795.9h.9M44.4 817.5h.9M62.3 819.8h.9M43.7 789.2h.9M53.9 799.9h.9M54.2 804.9h.9M56.2 804.8h.9M55.5 799.1h.9M64.8 813.9h.9M47.0 812.2h.9M51.6 810.8h.9M49.4 791.3h.9M41.9 794.8h.9M58.5 818.4h.9M56.0 797.9h.9M71.8 815.1h.9M42.8 793.1h.9M70.0 808.5h.9M71.2 803.6h.9M67.1 811.0h.9M73.6 820.0h.9M56.2 795.1h.9M47.7 809.5h.9M41.7 817.2h.9M75.1 812.3h.9M66.8 795.6h.9M54.7 806.6h.9M60.7 793.2h.9M42.9 819.7h.9M46.1 818.4h.9M47.0 801.1h.9M49.0 808.0h.9M55.8 811.9h.9M73.0 802.9h.9M62.3 810.3h.9M68.9 818.2h.9M69.5 810.2h.9M71.4 803.6h.9M48.3 809.5h.9M71.5 809.3h.9M46.1 789.7h.9M63.8 791.4h.9M69.7 814.6h.9M47.3 801.6h.9M60.1 789.4h.9M57.5 799.2h.9M53.7 805.7h.9M59.4 810.3h.9M75.8 803.3h.9M43.1 795.8h.9M60.1 812.7h.9M58.0 799.4h.9M56.1 808.9h.9M69.5 804.3h.9M68.0 787.0h.9M61.5 795.3h.9M45.5 810.3h.9M73.6 793.5h.9M66.8 815.0h.9M62.2 793.3h.9M75.9 799.4h.9M44.7 794.8h.9M46.9 803.1h.9M66.3 809.1h.9M45.7 806.5h.9M54.0 794.6h.9M61.7 814.4h.9M41.7 795.1h.9M64.5 810.2h.9M41.0 818.6h.9M51.5 802.8h.9M40.1 806.6h.9M46.7 792.1h.9M72.7 806.7h.9M59.6 816.2h.9M56.2 815.6h.9M59.7 810.4h.9M63.1 806.8h.9M46.4 794.5h.9M72.5 808.0h.9M48.6 793.3h.9M50.8 806.1h.9M65.4 790.2h.9M53.8 807.4h.9M43.9 793.0h.9M75.3 807.6h.9M42.5 815.7h.9M72.3 794.1h.9M65.9 820.0h.9M50.7 791.2h.9M70.4 818.9h.9M60.2 794.1h.9M74.5 815.1h.9M61.1 807.3h.9M61.9 802.2h.9M53.7 806.7h.9M72.7 814.9h.9M59.2 803.4h.9M55.6 797.8h.9M51.8 792.6h.9M50.7 790.4h.9M67.3 812.8h.9M61.3 804.8h.9M41.8 793.3h.9M51.2 819.7h.9M66.2 801.6h.9M43.9 802.0h.9M72.6 808.6h.9M65.6 791.6h.9M47.5 795.4h.9M75.2 803.5h.9M61.2 811.5h.9M52.6 795.8h.9M75.5 819.7h.9M75.6 794.8h.9M74.4 820.3h.9M48.4 785.3h.9M51.9 806.8h.9M45.9 816.0h.9M71.8 798.5h.9M63.2 813.2h.9M44.3 800.0h.9M41.8 800.0h.9M47.3 799.4h.9M56.3 807.3h.9M46.5 815.8h.9M72.2 797.9h.9M57.9 802.2h.9M73.6 819.5h.9M43.8 797.4h.9M68.5 814.2h.9M70.1 803.9h.9M62.4 815.3h.9M72.0 811.4h.9M67.4 809.4h.9M73.4 791.6h.9M67.3 812.4h.9M60.3 789.3h.9M41.9 805.4h.9M52.7 819.2h.9M55.5 814.5h.9M41.7 810.5h.9M55.1 788.1h.9M50.2 819.5h.9M52.0 806.0h.9M41.9 818.2h.9M62.0 814.9h.9M51.8 816.2h.9M60.6 792.7h.9M43.2 807.5h.9M72.0 792.7h.9M51.9 794.6h.9M69.4 793.5h.9M43.6 798.6h.9M67.8 802.4h.9M71.7 816.9h.9M58.0 793.0h.9M47.0 813.2h.9M67.4 817.4h.9M42.6 817.7h.9M47.4 819.3h.9M43.8 810.1h.9M66.5 801.8h.9M56.6 819.8h.9M50.6 791.9h.9M68.5 817.5h.9M74.5 818.2h.9M64.9 793.5h.9M60.2 811.4h.9M56.0 814.7h.9M54.6 796.0h.9M64.4 800.4h.9M52.5 809.2h.9M54.5 800.6h.9M40.9 817.2h.9M41.7 805.1h.9M48.8 815.1h.9M54.6 805.5h.9M57.6 808.4h.9M65.3 795.4h.9M72.7 800.9h.9M72.6 796.7h.9M64.1 801.6h.9M66.6 808.4h.9M71.0 811.2h.9M63.1 816.7h.9M61.2 796.5h.9M56.3 805.1h.9M64.6 792.4h.9M73.3 814.0h.9M48.6 793.0h.9M51.5 792.4h.9M66.9 795.6h.9M63.8 818.7h.9M40.4 795.8h.9M63.3 819.8h.9M73.8 793.1h.9M71.7 819.2h.9M41.1 788.5h.9M65.5 807.3h.9M60.5 801.2h.9M40.2 818.7h.9M43.6 793.2h.9M54.6 813.4h.9M53.8 810.5h.9M62.7 806.6h.9M60.4 792.3h.9M73.9 816.2h.9M63.2 794.5h.9M67.1 797.3h.9M67.9 792.6h.9M58.6 808.0h.9M40.4 811.4h.9M55.7 792.5h.9M67.4 819.3h.9M72.0 810.9h.9M68.1 805.3h.9M54.6 806.4h.9M69.7 811.7h.9M74.7 790.8h.9M58.5 789.1h.9M60.4 799.7h.9M50.3 794.2h.9M50.5 805.3h.9M60.9 798.9h.9M40.4 801.8h.9M65.7 818.1h.9M46.7 812.2h.9M67.6 816.1h.9M45.4 808.1h.9M70.6 809.9h.9M57.5 795.1h.9M63.2 804.2h.9M55.6 806.3h.9M68.2 820.0h.9M44.5 799.6h.9M44.3 807.5h.9M45.8 788.3h.9M54.1 787.2h.9M42.9 809.8h.9M48.6 805.9h.9M68.5 814.6h.9M84.2 802.1h.9M84.6 814.8h.9M80.6 803.1h.9M81.1 791.9h.9M79.2 809.2h.9M77.7 798.1h.9M79.1 804.7h.9M84.5 802.5h.9M81.0 798.5h.9M84.3 803.4h.9M86.2 800.5h.9M80.7 811.6h.9M79.8 797.5h.9M83.6 812.7h.9M80.6 813.0h.9M82.7 797.3h.9M81.1 806.8h.9M78.7 799.7h.9M78.5 800.5h.9M84.3 798.0h.9M77.1 799.9h.9M83.9 795.5h.9M85.4 812.3h.9M82.4 801.8h.9M85.3 816.1h.9" stroke="#fff" stroke-width="0.9" opacity="0.4" fill="none"/>
<path d="M62.0 793.5h.9M59.8 793.7h.9M67.8 793.9h.9M60.0 796.5h.9M61.1 797.5h.9M65.4 794.4h.9M58.1 800.3h.9M59.1 798.3h.9M61.3 800.4h.9M59.8 800.2h.9M57.3 803.2h.9M60.2 796.6h.9M59.7 797.0h.9M62.5 795.2h.9M55.9 801.9h.9M58.7 803.2h.9M64.1 802.9h.9M66.2 798.6h.9M56.4 800.9h.9M62.6 801.9h.9M57.9 800.7h.9M58.3 797.1h.9M58.2 803.4h.9M59.5 798.8h.9M63.7 793.5h.9M62.8 798.5h.9M60.9 796.8h.9M59.7 800.1h.9M60.8 797.3h.9M60.5 798.8h.9M63.1 796.9h.9M58.9 800.1h.9M60.7 801.9h.9M60.5 800.8h.9M60.6 799.9h.9M61.5 803.3h.9M61.3 794.7h.9M64.6 799.1h.9M60.5 804.2h.9M65.3 800.3h.9M59.9 804.2h.9M59.4 797.0h.9M61.1 803.9h.9M61.8 797.0h.9M61.5 803.6h.9M64.5 799.5h.9M64.1 801.8h.9M62.2 796.5h.9M59.8 799.4h.9M60.5 793.3h.9M64.9 799.7h.9M61.4 802.3h.9M57.0 802.6h.9M58.8 804.7h.9M59.1 802.7h.9M64.1 799.3h.9M60.5 802.1h.9M67.3 795.7h.9M62.7 802.7h.9M61.1 800.9h.9M59.5 801.7h.9M63.6 798.6h.9M60.1 798.2h.9M58.4 797.5h.9M62.4 798.5h.9M60.8 802.6h.9M64.2 792.5h.9M60.6 800.6h.9M52.5 815.8h.9M63.1 800.1h.9M55.3 801.5h.9M65.2 800.0h.9M66.0 797.9h.9M59.5 801.1h.9M57.4 802.0h.9M56.7 798.2h.9M63.3 803.7h.9M60.2 801.3h.9M59.0 804.9h.9M60.1 801.2h.9M66.8 802.0h.9M61.8 800.2h.9M62.9 810.5h.9M63.0 803.7h.9M63.7 804.1h.9M63.8 799.1h.9M58.7 795.6h.9M60.1 799.5h.9M58.6 803.0h.9M58.7 801.6h.9M64.1 797.2h.9M59.3 798.3h.9M60.5 796.1h.9M58.8 799.5h.9M59.0 803.2h.9M63.1 801.9h.9M59.5 803.1h.9M59.4 800.1h.9M62.2 800.5h.9M62.2 799.7h.9M63.1 801.0h.9M61.3 801.1h.9M55.7 804.2h.9M62.6 799.1h.9M62.2 799.4h.9M63.7 804.1h.9M58.3 805.6h.9M68.1 790.1h.9M57.2 802.6h.9M62.9 800.6h.9M60.9 803.0h.9M59.4 792.9h.9M63.1 793.1h.9M59.9 798.7h.9M54.0 802.6h.9M57.4 797.0h.9M62.1 803.4h.9M67.3 801.2h.9M56.5 803.6h.9M60.7 802.8h.9M65.0 794.2h.9M62.5 798.6h.9M59.7 791.9h.9M56.6 804.7h.9M55.6 805.6h.9M58.6 801.9h.9M59.7 796.6h.9M54.2 802.2h.9M55.9 804.9h.9M61.6 795.1h.9M59.6 801.0h.9M58.6 803.1h.9M59.6 797.5h.9M58.4 798.6h.9M63.5 803.1h.9M65.5 800.8h.9M66.8 802.8h.9M62.8 800.1h.9M62.9 795.6h.9M65.0 798.2h.9M65.8 795.9h.9M65.0 797.5h.9M64.3 800.3h.9M58.9 805.9h.9M56.1 802.1h.9M63.3 805.6h.9M60.5 795.4h.9M60.6 799.3h.9M58.2 800.9h.9M57.0 793.8h.9M64.8 792.8h.9M62.1 798.3h.9M57.7 801.4h.9M61.9 801.1h.9M61.7 799.9h.9M62.3 798.4h.9M67.2 792.9h.9M60.7 800.2h.9M57.1 807.0h.9M60.9 801.5h.9M58.9 798.2h.9M62.4 799.9h.9M61.4 801.3h.9M61.8 804.1h.9M59.1 798.6h.9M62.0 801.3h.9M59.3 802.5h.9M62.3 798.4h.9M59.9 800.0h.9M57.5 799.6h.9M62.2 799.7h.9M58.7 801.7h.9M65.0 794.2h.9M62.1 799.0h.9M62.1 804.9h.9M61.1 799.9h.9M60.6 793.4h.9M53.8 807.6h.9M64.3 797.9h.9M58.4 801.4h.9M63.5 800.9h.9M58.9 799.2h.9M60.4 796.5h.9M60.1 797.7h.9M57.8 802.0h.9M60.3 800.1h.9M62.1 798.5h.9M59.6 808.0h.9M57.1 802.2h.9M59.1 804.0h.9M61.5 807.3h.9M64.1 799.4h.9M63.2 797.8h.9M61.6 798.9h.9M57.9 801.5h.9M63.4 805.5h.9M60.8 803.8h.9M60.1 799.6h.9M63.4 797.1h.9M62.6 802.1h.9M62.2 806.0h.9M57.4 799.2h.9M59.0 806.4h.9M55.8 803.0h.9M61.3 800.0h.9M60.8 799.2h.9M63.5 796.8h.9M61.4 798.3h.9M59.7 804.9h.9M66.9 793.0h.9M57.8 799.6h.9M56.9 801.3h.9M59.0 796.7h.9M62.3 797.9h.9M59.8 795.4h.9M59.5 802.8h.9M57.5 803.5h.9M65.0 793.7h.9M59.0 805.7h.9M57.6 797.6h.9M60.4 793.4h.9M58.4 794.6h.9M60.1 801.9h.9M64.6 790.3h.9M59.5 800.1h.9M60.6 800.8h.9M59.7 803.8h.9M60.2 798.9h.9M63.1 803.2h.9M62.3 797.9h.9M59.8 803.5h.9M58.1 797.4h.9M60.4 801.1h.9M63.2 798.0h.9M60.7 800.6h.9M60.4 807.9h.9M55.5 801.8h.9M63.6 799.1h.9M56.4 801.9h.9M57.0 802.4h.9M59.7 792.5h.9M60.9 802.5h.9M60.9 795.1h.9M58.6 793.5h.9M59.9 800.6h.9M59.0 796.1h.9M55.5 802.6h.9M60.0 804.1h.9M58.8 800.7h.9M62.0 795.9h.9M60.3 800.4h.9M63.6 806.2h.9M62.8 799.4h.9M63.4 805.3h.9M64.3 803.9h.9M62.8 794.9h.9M60.3 803.3h.9M64.7 793.8h.9M58.1 802.9h.9M60.7 802.0h.9M63.3 798.4h.9M59.9 794.5h.9M62.8 797.9h.9M58.4 799.5h.9M59.2 802.1h.9M62.3 799.1h.9M62.8 801.0h.9M64.2 797.5h.9M60.6 794.2h.9M61.6 799.4h.9M62.6 804.2h.9M62.1 796.3h.9M57.0 797.5h.9M59.1 793.5h.9M65.0 805.0h.9M57.2 797.3h.9M62.6 803.0h.9M59.5 800.9h.9M63.7 798.4h.9M58.5 800.9h.9M60.9 806.5h.9M54.9 808.0h.9M60.6 801.8h.9M63.9 797.2h.9M56.4 806.6h.9M64.2 801.2h.9M58.7 801.0h.9M60.6 801.8h.9M52.7 800.0h.9M63.9 801.4h.9M58.2 799.8h.9M59.2 799.6h.9M57.1 797.0h.9M57.9 801.3h.9M64.1 800.2h.9M59.3 795.1h.9M63.4 800.1h.9M60.3 801.7h.9M61.8 804.2h.9M59.3 804.5h.9M62.0 797.3h.9M68.3 801.7h.9M62.7 801.1h.9M62.2 798.6h.9M59.4 797.6h.9M63.7 802.1h.9M64.7 801.5h.9M55.8 800.0h.9M56.8 802.5h.9M66.9 796.3h.9M62.0 796.7h.9M61.1 796.5h.9M62.4 801.6h.9M63.9 799.9h.9M63.1 800.4h.9M60.1 801.0h.9M66.8 798.0h.9M60.8 803.2h.9M58.2 794.9h.9M59.2 803.3h.9M60.4 796.0h.9M59.7 799.5h.9M60.2 800.5h.9M61.7 799.6h.9M51.2 804.8h.9M58.5 797.5h.9M63.5 804.9h.9M62.4 803.2h.9M58.8 802.4h.9M59.0 803.1h.9M64.1 797.3h.9M60.0 793.9h.9M59.2 794.9h.9M66.1 799.7h.9M59.7 790.9h.9M62.8 804.7h.9M60.6 801.4h.9M60.9 796.4h.9M58.0 798.9h.9M58.4 795.0h.9M64.4 798.2h.9M57.5 802.4h.9M61.6 803.9h.9M57.3 796.5h.9M60.1 803.9h.9M60.7 800.7h.9M56.0 801.2h.9M64.1 798.8h.9M60.2 801.3h.9M64.3 805.2h.9M58.1 806.1h.9M63.4 801.9h.9M67.5 794.8h.9M61.4 798.8h.9M58.9 803.7h.9M62.2 800.7h.9M61.2 796.9h.9M60.2 806.6h.9M60.4 808.5h.9M59.1 802.4h.9M62.0 798.2h.9M59.6 800.3h.9M58.3 797.1h.9M63.1 794.8h.9M60.3 801.3h.9M68.4 796.4h.9M60.0 803.4h.9M58.7 811.0h.9M59.2 802.2h.9M61.8 799.6h.9M58.7 801.3h.9M57.1 802.8h.9M65.5 803.6h.9M57.2 801.9h.9M65.2 801.5h.9M61.2 796.2h.9M57.7 797.8h.9M65.6 797.7h.9M60.2 803.6h.9M57.8 797.8h.9M61.0 804.6h.9M64.5 795.5h.9M62.7 800.1h.9M63.2 799.1h.9M65.9 804.0h.9M61.4 796.5h.9M61.9 796.6h.9M60.1 799.4h.9M56.5 804.2h.9M60.3 802.7h.9M65.5 794.1h.9M55.7 799.1h.9M64.7 794.2h.9M61.5 806.0h.9M58.1 802.6h.9M61.0 802.4h.9M65.9 790.6h.9M59.1 801.5h.9M63.1 798.5h.9M64.0 802.4h.9M58.2 795.3h.9M62.6 804.6h.9M62.3 802.1h.9M59.4 802.9h.9M62.8 795.3h.9M59.7 807.7h.9M59.1 801.9h.9M57.2 802.8h.9M61.9 800.2h.9M59.5 799.8h.9M59.1 801.6h.9M57.4 802.2h.9M56.8 805.8h.9M58.5 803.2h.9M62.9 797.2h.9M58.4 802.0h.9M65.0 802.5h.9M61.9 797.8h.9M61.2 800.0h.9M57.3 805.7h.9M66.4 800.1h.9M56.6 800.1h.9M62.3 802.1h.9M65.7 802.2h.9M60.2 803.2h.9M58.8 801.8h.9M60.7 807.2h.9M63.4 794.6h.9M64.7 800.3h.9M62.5 802.1h.9M57.7 798.3h.9M58.8 798.4h.9M61.4 797.6h.9M57.1 802.2h.9M60.1 800.2h.9M67.3 799.9h.9M57.7 805.8h.9M64.1 796.9h.9M58.1 801.6h.9M59.8 802.1h.9M60.6 793.2h.9M56.4 800.9h.9M60.5 794.1h.9M64.5 795.9h.9M62.8 795.9h.9M62.8 803.2h.9M58.4 798.6h.9M60.3 797.7h.9M61.4 802.3h.9M62.7 798.7h.9M64.7 793.6h.9M57.9 804.8h.9M65.7 801.6h.9M59.9 799.0h.9M60.0 794.2h.9M57.3 798.5h.9M60.6 796.6h.9M60.1 805.7h.9M57.2 798.5h.9M59.9 802.8h.9M61.1 804.1h.9M59.6 801.3h.9M63.0 800.1h.9M57.8 805.4h.9M63.3 801.7h.9M60.2 794.5h.9M61.8 803.1h.9M55.4 793.7h.9M61.1 797.2h.9M60.6 802.7h.9M63.5 792.1h.9M57.3 804.6h.9M64.7 806.2h.9M57.6 800.0h.9M64.6 791.8h.9M62.4 805.0h.9M58.6 797.0h.9M67.1 792.9h.9M57.3 796.7h.9M60.3 797.8h.9M61.4 796.9h.9M62.3 805.9h.9M61.4 795.9h.9M63.1 792.6h.9M62.1 793.3h.9M60.9 797.8h.9M58.1 806.4h.9M59.8 794.8h.9M63.4 797.8h.9M57.4 803.2h.9M61.1 798.2h.9M54.8 800.5h.9M58.7 798.7h.9M56.1 802.3h.9M64.4 795.5h.9M55.5 806.5h.9M60.1 793.3h.9M62.9 802.1h.9M62.5 802.7h.9M63.0 798.8h.9M63.8 797.3h.9M62.1 803.4h.9M63.2 795.2h.9M60.6 798.7h.9M60.7 796.4h.9M55.7 802.3h.9M61.3 796.1h.9M64.4 795.9h.9M58.6 802.7h.9M57.4 800.6h.9M61.0 800.3h.9M64.1 804.2h.9M64.3 791.2h.9M56.4 799.0h.9M62.1 799.2h.9M58.9 805.3h.9M61.6 795.4h.9M54.2 801.4h.9M63.4 800.6h.9M59.6 796.1h.9M61.4 797.8h.9M60.2 799.8h.9M57.8 798.8h.9M62.3 801.2h.9M59.4 803.3h.9M58.8 798.9h.9M62.7 801.4h.9M60.5 801.4h.9M58.7 800.4h.9M63.5 796.1h.9M59.1 806.1h.9M60.7 795.8h.9M62.9 799.9h.9M63.5 801.8h.9M64.2 789.4h.9M65.6 795.6h.9M60.9 792.9h.9M58.5 799.8h.9M65.5 800.3h.9M64.8 795.8h.9M59.9 800.2h.9M62.8 801.6h.9M59.7 797.5h.9M56.2 800.3h.9M63.8 794.9h.9M61.8 801.2h.9M61.1 798.6h.9M65.7 803.2h.9M64.9 802.7h.9M58.9 795.6h.9M57.6 801.6h.9M55.3 802.5h.9M60.8 800.3h.9M59.6 801.5h.9M61.8 798.6h.9M60.8 803.2h.9M58.9 802.8h.9M59.6 801.7h.9M56.2 799.4h.9M64.3 802.7h.9M59.2 795.3h.9M62.5 802.8h.9M58.9 802.7h.9M61.0 796.7h.9M62.6 800.8h.9M60.0 808.6h.9M58.4 800.8h.9M67.5 795.3h.9M60.2 800.7h.9M62.4 801.4h.9M60.5 806.3h.9M58.5 800.0h.9M64.6 802.0h.9M61.9 800.2h.9M61.8 803.9h.9M54.2 803.7h.9M61.6 796.0h.9M63.2 801.7h.9M61.6 803.6h.9M60.3 799.3h.9M64.2 791.2h.9M61.5 796.3h.9M62.4 799.4h.9M63.8 801.3h.9M63.7 797.0h.9M57.0 804.8h.9M61.7 797.7h.9M58.6 795.7h.9M54.9 803.5h.9M61.6 797.1h.9M55.7 806.3h.9M59.4 804.2h.9M53.5 801.0h.9M57.8 798.7h.9M59.4 801.1h.9M60.7 803.9h.9M59.2 800.9h.9M58.1 800.3h.9M58.2 804.6h.9M65.2 800.7h.9M59.4 797.9h.9M60.5 797.6h.9M66.2 790.1h.9M55.7 800.7h.9M54.8 800.6h.9M57.8 802.6h.9M59.6 797.8h.9M57.4 799.5h.9M60.6 798.4h.9M60.5 798.0h.9M56.3 800.3h.9M61.2 797.5h.9M56.6 805.5h.9M62.8 798.5h.9M61.4 800.9h.9M67.1 798.8h.9M63.1 795.2h.9M60.2 792.8h.9M61.7 795.2h.9M61.2 798.3h.9M58.6 800.4h.9M56.5 796.2h.9M63.9 800.8h.9M65.2 796.9h.9M59.4 803.0h.9M60.0 796.6h.9M59.3 789.8h.9M63.7 800.5h.9M64.3 800.0h.9M58.2 808.6h.9M59.8 800.3h.9M59.2 801.3h.9M61.4 805.6h.9M63.0 788.9h.9M63.9 793.3h.9M59.9 792.9h.9M57.9 801.8h.9M62.3 798.1h.9M62.5 800.8h.9M59.7 794.2h.9M61.2 796.7h.9M61.8 798.9h.9M63.3 797.8h.9M61.0 798.2h.9M62.2 802.6h.9M61.3 796.6h.9M58.0 798.6h.9M62.8 796.8h.9M61.1 801.5h.9M63.8 794.5h.9M57.3 796.7h.9M58.7 796.5h.9M61.7 793.0h.9M55.8 800.2h.9M60.4 797.0h.9M59.5 792.2h.9M59.6 797.6h.9M60.0 799.5h.9M54.3 807.0h.9M60.9 798.7h.9M61.0 803.9h.9M63.8 798.8h.9M65.0 802.4h.9M61.8 794.4h.9M63.4 793.3h.9M53.8 800.7h.9M62.4 797.4h.9M64.0 798.1h.9M63.3 799.9h.9M61.5 794.7h.9M59.7 800.3h.9M59.7 797.5h.9M60.8 806.2h.9M62.0 798.1h.9M62.4 797.0h.9M60.5 805.7h.9M57.1 794.8h.9M66.1 803.4h.9M58.3 801.5h.9M53.0 800.5h.9M64.9 796.4h.9M63.7 798.4h.9M61.3 800.3h.9M63.6 795.7h.9M62.1 800.3h.9M58.4 802.8h.9M61.1 799.3h.9M57.2 806.1h.9M58.9 796.7h.9M58.3 800.7h.9M61.2 802.8h.9M63.8 800.0h.9M58.9 805.5h.9M62.1 802.5h.9M54.6 797.8h.9M57.7 805.7h.9M62.3 796.9h.9M63.5 802.6h.9M63.5 798.8h.9M63.9 802.6h.9M56.0 792.7h.9M59.3 802.8h.9M53.3 801.7h.9M60.3 805.3h.9M61.4 805.1h.9M59.8 805.0h.9M58.1 800.2h.9M62.0 799.5h.9M62.3 796.2h.9M61.2 799.4h.9M59.0 800.8h.9M60.9 801.7h.9M61.0 804.7h.9M61.5 796.4h.9M62.6 799.9h.9M60.7 802.1h.9M56.6 800.7h.9M60.0 794.0h.9M61.8 797.8h.9M59.5 798.1h.9M61.4 795.4h.9M58.8 801.1h.9M64.7 796.9h.9M61.9 798.4h.9M61.2 800.0h.9M63.0 798.6h.9M63.0 800.8h.9M61.0 801.5h.9M63.7 799.4h.9M62.7 800.4h.9M61.4 802.1h.9M60.8 798.4h.9M57.6 804.5h.9M61.3 804.2h.9M61.3 799.0h.9M58.3 805.4h.9M64.7 800.4h.9M60.8 801.5h.9M57.7 807.2h.9M59.6 795.5h.9M60.6 802.8h.9M60.7 797.4h.9M58.5 801.2h.9M60.9 791.8h.9M56.5 804.1h.9M59.5 804.3h.9M62.0 795.5h.9M58.8 806.0h.9M62.6 796.8h.9M63.1 798.2h.9M59.0 796.1h.9M53.8 803.4h.9M63.3 797.1h.9M64.7 797.2h.9M56.2 801.1h.9M61.4 795.1h.9M61.7 800.7h.9M56.1 799.7h.9M59.2 804.5h.9M64.4 797.6h.9M61.4 800.6h.9M60.9 800.5h.9M64.2 802.2h.9M59.1 804.7h.9M55.6 801.0h.9M64.7 794.1h.9M58.6 799.5h.9M60.8 797.5h.9M64.2 800.0h.9M61.7 797.5h.9M61.3 799.9h.9M59.1 800.2h.9M62.5 799.2h.9M67.2 793.2h.9M59.2 803.3h.9M57.6 798.3h.9M61.8 792.7h.9M58.8 796.8h.9M61.2 797.4h.9M61.0 797.3h.9M62.3 799.7h.9M61.5 796.6h.9M61.8 799.3h.9M64.6 800.9h.9M58.1 796.8h.9M61.0 796.6h.9M61.8 803.9h.9M57.4 802.0h.9M58.2 803.2h.9M59.9 798.9h.9M59.4 799.7h.9M64.2 797.6h.9M61.3 796.3h.9M69.4 800.2h.9M59.8 795.5h.9M60.0 797.2h.9M67.5 792.8h.9M59.3 806.4h.9M67.3 793.9h.9M51.9 806.6h.9M59.0 795.2h.9M65.0 805.1h.9M65.5 806.6h.9M62.3 798.7h.9M59.0 805.4h.9M60.5 794.9h.9M63.2 797.0h.9M61.9 803.6h.9M63.7 798.7h.9M58.9 798.4h.9M63.4 798.8h.9M64.7 796.1h.9M69.9 793.8h.9M63.1 802.0h.9M63.0 791.9h.9M58.5 798.1h.9M57.1 800.7h.9M54.3 804.9h.9M62.3 799.5h.9M66.8 795.8h.9M60.7 791.5h.9M53.8 812.2h.9M61.5 796.4h.9M60.4 802.0h.9M59.9 795.3h.9M66.1 800.8h.9M64.6 793.1h.9M65.3 795.8h.9M58.7 800.5h.9M62.0 794.6h.9M57.8 803.3h.9M64.3 798.4h.9M57.7 804.7h.9M64.7 801.3h.9M61.7 797.8h.9M61.7 795.1h.9M56.8 799.7h.9M63.1 802.6h.9M55.7 795.6h.9M57.4 804.6h.9M58.3 794.9h.9M67.0 799.5h.9M61.3 801.2h.9M59.0 797.1h.9M62.5 793.9h.9M67.9 797.0h.9M60.5 801.5h.9M57.9 796.1h.9M57.7 802.2h.9M60.8 800.5h.9M65.8 793.3h.9M60.6 793.0h.9M60.3 799.7h.9M58.1 799.3h.9M57.6 795.5h.9M64.0 795.3h.9M62.0 806.8h.9M62.2 801.4h.9M57.0 802.8h.9M62.6 796.2h.9M61.9 799.2h.9M65.4 802.0h.9M64.0 795.2h.9M60.3 797.6h.9M61.9 797.9h.9M61.9 797.4h.9M60.6 801.7h.9M58.4 797.7h.9M63.5 799.2h.9M67.5 798.3h.9M60.6 800.7h.9M65.7 798.7h.9M60.0 794.9h.9M59.9 795.3h.9M60.8 793.2h.9M60.1 800.6h.9M63.7 800.7h.9M64.3 800.2h.9M53.5 807.8h.9M63.3 797.9h.9M62.1 803.2h.9M66.0 798.6h.9M58.3 803.7h.9M61.3 797.0h.9M64.5 798.2h.9M63.5 795.9h.9M65.4 794.2h.9M58.6 792.8h.9M59.0 804.0h.9M62.6 800.4h.9M56.9 811.5h.9M62.2 799.6h.9M63.6 800.2h.9M61.9 795.8h.9M57.0 805.2h.9M59.2 798.1h.9M60.0 807.7h.9M62.1 808.2h.9M61.6 792.6h.9M59.6 797.7h.9" stroke="#fff" stroke-width="0.9" opacity="0.8" fill="none"/>
<rect x="75.7" y="781.4" width="41.5" height="34.39999999999998" fill="none" stroke="#fff" stroke-width="1.2"/>
<text x="88.5" y="776.3" font-size="3.9" text-anchor="start" fill="#eee" font-weight="bold" >GFP+: 1.15%</text>
<text x="82.9" y="833.8" font-size="3.7" text-anchor="middle" fill="#333" >EGFP-A-Compensated</text>
<text x="27.0" y="778.05" font-size="3.7" text-anchor="middle" fill="#333" transform="rotate(-90 27.0 778.05)" >PI-A-Compensated</text>
<text x="35.0" y="736.5" font-size="3.0" text-anchor="end" fill="#444" >10⁵</text>
<text x="40.5" y="827.8" font-size="3.0" text-anchor="middle" fill="#444" >10¹</text>
<text x="35.0" y="757.875" font-size="3.0" text-anchor="end" fill="#444" >10⁴</text>
<text x="62.2" y="827.8" font-size="3.0" text-anchor="middle" fill="#444" >10²</text>
<text x="35.0" y="779.25" font-size="3.0" text-anchor="end" fill="#444" >10³</text>
<text x="83.9" y="827.8" font-size="3.0" text-anchor="middle" fill="#444" >10³</text>
<text x="35.0" y="800.625" font-size="3.0" text-anchor="end" fill="#444" >10²</text>
<text x="105.6" y="827.8" font-size="3.0" text-anchor="middle" fill="#444" >10⁴</text>
<text x="35.0" y="822.0" font-size="3.0" text-anchor="end" fill="#444" >10¹</text>
<text x="127.3" y="827.8" font-size="3.0" text-anchor="middle" fill="#444" >10⁵</text>
<rect x="160.5" y="736.2" width="85.80000000000001" height="85.09999999999991" fill="#000"/>
<path d="M199.5 800.2h.9M194.2 803.0h.9M190.5 790.9h.9M191.1 801.3h.9M191.2 800.3h.9M184.5 799.5h.9M189.1 797.0h.9M183.5 803.8h.9M182.8 799.7h.9M189.5 783.9h.9M196.0 795.9h.9M167.0 812.9h.9M201.4 805.4h.9M183.4 794.5h.9M189.2 810.2h.9M197.6 800.9h.9M181.9 801.1h.9M213.0 791.1h.9M181.7 792.4h.9M189.0 796.2h.9M188.5 791.7h.9M181.2 799.9h.9M175.9 802.9h.9M176.2 801.4h.9M185.6 796.0h.9M197.1 796.2h.9M180.0 807.1h.9M174.1 804.8h.9M185.3 802.8h.9M190.3 802.0h.9M187.8 790.3h.9M179.8 800.4h.9M186.7 808.3h.9M179.3 803.4h.9M192.0 795.1h.9M185.5 804.0h.9M178.5 795.0h.9M211.2 789.9h.9M207.6 792.2h.9M187.0 789.6h.9M180.1 806.2h.9M189.6 793.6h.9M189.1 800.7h.9M190.2 794.0h.9M182.1 802.2h.9M180.7 805.6h.9M185.9 797.3h.9M188.1 792.5h.9M179.7 802.0h.9M189.5 807.8h.9M179.0 795.7h.9M194.5 792.2h.9M195.9 798.0h.9M189.1 801.5h.9M182.6 805.6h.9M196.5 799.1h.9M190.8 795.4h.9M195.2 805.3h.9M185.4 811.1h.9M185.8 804.9h.9M205.2 784.3h.9M184.1 802.0h.9M190.1 788.3h.9M192.4 796.7h.9M181.4 797.5h.9M180.9 805.0h.9M196.9 804.0h.9M203.5 790.6h.9M201.7 778.8h.9M178.4 806.3h.9M194.8 795.4h.9M195.0 800.2h.9M193.0 799.1h.9M195.0 797.8h.9M186.8 807.4h.9M176.3 803.4h.9M173.9 804.0h.9M179.0 792.3h.9M190.9 802.0h.9M174.1 809.3h.9M181.1 797.8h.9M186.9 798.5h.9M200.8 789.4h.9M168.7 805.3h.9M179.9 807.8h.9M196.3 785.6h.9M188.9 795.7h.9M179.8 804.4h.9M198.6 786.8h.9M187.8 808.7h.9M187.6 793.7h.9M192.9 793.5h.9M174.2 799.7h.9M182.1 799.3h.9M188.3 802.0h.9M188.2 799.4h.9M190.4 801.6h.9M197.1 793.1h.9M183.9 788.9h.9M198.9 792.1h.9M179.3 798.8h.9M178.5 816.2h.9M190.6 787.1h.9M188.9 796.4h.9M179.9 797.9h.9M171.3 815.7h.9M174.1 800.6h.9M189.6 794.2h.9M184.9 790.7h.9M201.7 791.2h.9M183.7 809.3h.9M187.8 806.3h.9M188.6 806.2h.9M209.9 788.2h.9M182.8 798.3h.9M185.9 791.5h.9M175.9 793.1h.9M194.7 806.2h.9M181.5 794.6h.9M179.5 802.8h.9M187.2 803.8h.9M195.2 803.1h.9M179.9 798.6h.9M171.9 804.5h.9M212.1 791.0h.9M165.2 813.0h.9M184.4 799.5h.9M176.1 810.4h.9M169.8 799.2h.9M189.9 795.0h.9M170.1 798.9h.9M190.4 799.6h.9M193.6 782.9h.9M186.7 805.3h.9M192.9 799.4h.9M197.6 794.2h.9M180.5 793.0h.9M168.2 817.1h.9M191.2 798.0h.9M178.1 803.7h.9M165.0 800.0h.9M201.5 782.1h.9M178.3 812.2h.9M179.9 800.3h.9M175.8 798.2h.9M183.5 800.9h.9M176.5 802.6h.9M185.8 803.7h.9M192.9 814.8h.9M181.9 801.4h.9M208.0 785.6h.9M197.2 782.4h.9M194.9 797.0h.9M187.8 801.0h.9M210.2 795.2h.9M184.8 807.4h.9M195.5 792.0h.9M196.5 785.5h.9M184.9 794.8h.9M179.3 808.9h.9M189.9 801.7h.9M181.0 799.1h.9M165.8 812.0h.9M178.6 798.6h.9M175.9 801.6h.9M202.2 802.0h.9M188.4 795.6h.9M206.1 796.8h.9M194.6 791.3h.9M168.4 810.3h.9M202.4 793.7h.9M188.1 787.6h.9M192.3 809.2h.9M192.6 796.1h.9M195.4 791.3h.9M204.9 783.8h.9M178.0 812.0h.9M197.2 805.3h.9M176.1 808.2h.9M201.0 790.5h.9M182.3 800.1h.9M192.4 794.3h.9M184.8 805.9h.9M188.6 804.0h.9M173.8 799.1h.9M175.7 796.1h.9M201.0 804.1h.9M184.7 795.3h.9M186.7 797.4h.9M170.1 809.3h.9M192.6 805.1h.9M190.5 789.5h.9M188.9 795.2h.9M182.7 801.8h.9M187.9 794.3h.9M176.2 790.0h.9M181.3 804.6h.9M179.0 806.2h.9M204.0 781.9h.9M169.3 816.9h.9M196.6 797.9h.9M200.1 792.9h.9M180.8 796.4h.9M195.5 799.3h.9M186.9 794.1h.9M184.9 801.9h.9M184.7 799.0h.9M180.8 803.3h.9M167.9 814.5h.9M202.2 791.0h.9M202.9 797.8h.9M168.9 807.1h.9M178.9 808.1h.9M180.5 799.5h.9M201.4 790.4h.9M187.7 795.1h.9M184.0 807.2h.9M198.4 799.4h.9M180.4 796.7h.9M190.1 800.9h.9M181.9 796.7h.9M187.5 805.4h.9M174.7 799.6h.9M179.0 806.4h.9M194.3 797.5h.9M187.9 793.1h.9M194.5 797.4h.9M174.4 813.6h.9M208.7 786.3h.9M193.3 799.0h.9M191.7 807.4h.9M184.7 790.6h.9M198.8 794.0h.9M181.3 800.0h.9M161.6 801.6h.9M179.3 806.9h.9M203.4 781.3h.9M180.2 796.2h.9M192.6 801.1h.9M179.6 804.1h.9M178.0 790.5h.9M197.4 803.5h.9M174.5 802.0h.9M175.5 809.4h.9M197.2 801.2h.9M175.4 813.5h.9M177.0 797.8h.9M183.8 800.9h.9M193.4 808.4h.9M197.3 791.8h.9M162.2 796.8h.9M182.3 802.3h.9M188.2 801.4h.9M197.7 793.0h.9M182.9 802.2h.9M184.6 795.0h.9M198.3 787.9h.9M199.2 797.2h.9M186.9 788.2h.9M182.1 798.1h.9M180.6 811.5h.9M187.2 798.1h.9M196.7 788.7h.9M189.1 805.9h.9M180.7 807.9h.9M186.7 796.7h.9M170.2 793.6h.9M202.8 783.7h.9M174.6 804.7h.9M180.0 801.9h.9M180.5 794.3h.9M191.1 793.0h.9M206.9 784.2h.9M189.8 796.3h.9M171.8 807.8h.9M203.4 801.4h.9M182.3 797.5h.9M203.7 792.8h.9M192.9 800.6h.9M194.1 796.9h.9M182.6 805.7h.9M190.0 794.8h.9M196.0 799.9h.9M187.6 810.5h.9M195.6 803.0h.9M180.4 794.5h.9M191.0 784.5h.9M199.8 799.2h.9M209.1 789.6h.9M178.7 794.5h.9M186.0 792.1h.9M164.7 820.0h.9M170.5 809.8h.9M195.1 788.3h.9M170.4 808.1h.9M175.5 801.0h.9M174.2 798.2h.9M187.6 799.7h.9M199.9 794.7h.9M198.4 797.5h.9M196.4 802.1h.9M197.3 796.1h.9M195.4 787.1h.9M182.4 798.8h.9M197.7 791.8h.9M192.4 790.2h.9M183.4 800.9h.9M189.9 802.8h.9M180.7 802.2h.9M176.0 807.7h.9M184.3 803.0h.9M166.9 808.3h.9M172.7 806.4h.9M179.2 798.6h.9M180.8 798.0h.9M179.1 797.6h.9M173.6 811.4h.9M198.2 794.1h.9M200.5 796.3h.9M191.1 792.1h.9M201.3 802.6h.9M183.2 811.4h.9M185.8 794.6h.9M175.0 798.5h.9M188.2 800.9h.9M192.9 791.6h.9M186.7 793.5h.9M184.5 804.0h.9M179.6 791.7h.9M182.4 808.9h.9M184.0 799.8h.9M189.4 789.4h.9M184.7 798.7h.9M186.4 792.4h.9M171.0 810.8h.9M172.5 804.7h.9M195.7 794.1h.9M176.1 802.1h.9M178.2 803.1h.9M170.1 801.2h.9M192.0 796.8h.9M188.7 789.9h.9M195.9 796.2h.9M178.4 803.7h.9M192.9 805.0h.9M185.4 792.9h.9M183.4 806.3h.9M181.5 801.1h.9M184.2 799.7h.9M186.8 804.1h.9M180.2 804.2h.9M189.7 799.3h.9M192.2 805.0h.9M180.8 797.5h.9M184.8 796.5h.9M188.0 790.6h.9M184.0 809.1h.9M190.3 794.1h.9M200.5 791.4h.9M179.6 794.6h.9M170.8 807.9h.9M190.5 803.6h.9M179.5 805.7h.9M174.1 802.9h.9M195.8 797.2h.9M203.1 795.9h.9M184.2 799.7h.9M179.6 796.3h.9M190.8 800.0h.9M169.4 797.5h.9M194.8 789.3h.9M189.7 803.5h.9M176.9 799.8h.9M179.8 811.5h.9M189.3 787.7h.9M195.9 797.9h.9M178.9 808.0h.9M177.2 798.0h.9M168.4 803.0h.9M183.3 802.1h.9M200.8 781.7h.9M185.6 801.5h.9M205.4 783.5h.9M185.6 796.1h.9M186.8 807.9h.9M195.7 797.2h.9M185.1 795.0h.9M195.9 790.8h.9M177.8 802.5h.9M190.7 800.9h.9M186.5 800.9h.9M189.8 800.3h.9M194.7 792.3h.9M194.4 802.3h.9M180.9 800.4h.9M191.1 792.8h.9M195.4 805.2h.9M164.3 814.0h.9M193.6 803.8h.9M178.9 811.0h.9M205.1 792.2h.9M192.4 801.1h.9M182.4 796.0h.9M185.9 794.8h.9M206.2 795.7h.9M193.4 802.6h.9M175.5 800.6h.9M180.2 804.2h.9M178.3 795.2h.9M176.8 797.3h.9M180.7 803.2h.9M186.0 802.4h.9M177.0 809.2h.9M165.1 811.4h.9M166.7 816.4h.9M172.3 800.8h.9M177.4 802.7h.9M183.2 795.9h.9M164.5 807.6h.9M200.0 791.8h.9M168.2 795.3h.9M187.8 806.5h.9M171.8 794.4h.9M177.3 786.4h.9M185.7 797.6h.9M178.3 797.1h.9M170.0 801.7h.9M172.0 812.2h.9M192.4 795.2h.9M182.6 808.5h.9M177.0 808.6h.9M180.3 800.1h.9M187.7 793.0h.9M174.0 811.1h.9M187.8 804.9h.9M194.4 809.3h.9M190.2 799.2h.9M178.1 809.1h.9M166.0 805.4h.9M172.0 807.5h.9M170.3 809.6h.9M195.5 801.2h.9M166.5 806.4h.9M169.3 807.2h.9M197.1 796.3h.9M190.9 795.3h.9M172.9 805.1h.9M189.9 797.0h.9M207.3 791.6h.9M179.4 805.1h.9M188.0 802.1h.9M189.2 795.1h.9M181.5 802.2h.9M208.6 788.0h.9M194.1 805.8h.9M207.3 796.3h.9M172.4 803.0h.9M216.3 791.3h.9M183.0 794.9h.9M185.1 791.1h.9M201.7 797.4h.9M195.6 797.7h.9M184.6 811.7h.9M185.4 809.4h.9M182.2 807.4h.9M185.0 808.8h.9M176.7 811.8h.9M191.4 802.6h.9M184.5 803.4h.9M193.5 797.7h.9M194.5 799.8h.9M168.4 806.9h.9M208.0 790.0h.9M196.6 803.0h.9M179.9 807.1h.9M189.4 800.6h.9M179.0 809.1h.9M197.5 804.0h.9M171.6 797.7h.9M183.4 793.3h.9M186.0 808.7h.9M186.2 811.9h.9M199.2 792.3h.9M181.9 799.5h.9M191.0 804.3h.9M183.5 794.7h.9M170.5 800.5h.9M187.2 804.1h.9M186.2 786.2h.9M171.1 799.4h.9M176.2 799.9h.9M188.8 806.9h.9M200.5 791.8h.9M179.8 802.9h.9M193.9 794.3h.9M184.4 806.7h.9M188.1 795.3h.9M198.8 785.5h.9M192.2 796.3h.9M204.5 790.4h.9M187.7 799.0h.9M186.4 802.7h.9M187.8 787.1h.9M175.2 798.3h.9M207.9 801.8h.9M195.0 789.6h.9M209.6 785.6h.9M187.7 804.7h.9M186.5 802.1h.9M183.7 799.9h.9M188.9 803.6h.9M183.4 805.0h.9M178.6 805.0h.9M196.0 790.9h.9M197.4 793.5h.9M197.2 797.4h.9M201.0 790.6h.9M187.7 802.8h.9M197.7 793.4h.9M175.3 805.6h.9M183.2 801.6h.9M183.1 792.3h.9M201.2 801.2h.9M169.9 818.4h.9M195.9 801.3h.9M205.9 797.8h.9M182.2 805.1h.9M169.2 808.1h.9M188.7 802.9h.9M192.1 799.5h.9M210.7 792.3h.9M186.8 807.4h.9M173.1 809.1h.9M198.1 796.2h.9M194.1 778.7h.9M170.6 788.4h.9M198.4 803.7h.9M195.3 805.4h.9M193.0 791.7h.9M187.8 803.0h.9M185.2 796.1h.9M183.7 800.5h.9M179.9 807.9h.9M202.2 797.4h.9M200.4 795.1h.9M182.0 792.7h.9M198.3 797.4h.9M185.9 807.1h.9M195.8 795.4h.9M197.0 795.7h.9M185.4 805.1h.9M201.4 795.0h.9M193.4 788.9h.9M196.7 792.1h.9M165.3 812.9h.9M187.9 805.1h.9M186.8 793.6h.9M180.0 808.8h.9M196.3 797.0h.9M195.9 791.8h.9M195.8 789.3h.9M193.8 797.6h.9M190.6 803.6h.9M184.6 806.6h.9M188.3 805.8h.9M175.3 798.9h.9M195.5 795.1h.9M174.6 807.2h.9M190.6 808.2h.9M195.1 790.1h.9M189.9 811.2h.9M180.9 794.0h.9M179.0 800.6h.9M200.3 786.9h.9M177.7 805.4h.9M185.0 803.6h.9M189.2 799.5h.9M202.3 794.7h.9M185.3 803.5h.9M187.4 797.6h.9M179.8 795.6h.9M175.0 801.6h.9M179.2 798.4h.9M171.6 799.4h.9M184.4 809.5h.9M168.7 805.6h.9M189.4 798.0h.9M182.9 808.8h.9M189.8 800.4h.9M201.1 795.0h.9M178.9 799.6h.9M186.4 811.5h.9M177.5 802.5h.9M175.3 806.0h.9M199.2 798.3h.9M173.0 815.7h.9M181.9 808.4h.9M202.3 782.8h.9M187.0 799.0h.9M189.2 784.5h.9M201.3 801.3h.9M184.4 798.0h.9M175.7 806.0h.9M186.8 799.9h.9M175.9 812.6h.9M190.9 798.9h.9M180.3 807.2h.9M195.7 791.0h.9M191.1 792.5h.9M161.8 806.2h.9M199.0 794.2h.9M171.9 802.2h.9M184.8 792.4h.9M190.7 794.7h.9M196.4 792.2h.9M185.1 796.7h.9M191.1 786.5h.9M187.4 800.0h.9M176.8 808.8h.9M184.2 798.2h.9M208.6 790.9h.9M189.1 794.8h.9M198.6 789.9h.9M176.0 806.1h.9M173.6 805.1h.9M192.4 792.6h.9M187.6 791.0h.9M193.8 792.3h.9M199.2 797.0h.9M190.9 795.7h.9M180.1 800.4h.9M181.9 804.5h.9M184.0 796.9h.9M176.7 797.1h.9M178.2 810.0h.9M180.0 798.7h.9M197.9 802.9h.9M197.5 790.2h.9M180.7 804.9h.9M182.1 793.3h.9M201.5 796.2h.9M194.6 786.6h.9M175.1 796.8h.9M182.6 808.1h.9M183.9 792.8h.9M180.3 793.9h.9M190.9 793.3h.9M183.6 794.0h.9M197.6 797.0h.9M181.3 812.4h.9M183.2 814.2h.9M171.6 815.0h.9M184.4 794.8h.9M179.3 799.7h.9M200.8 801.9h.9M183.0 800.6h.9M181.0 791.0h.9M175.9 808.0h.9M188.8 799.8h.9M179.2 806.1h.9M193.1 804.4h.9M168.0 807.5h.9M169.7 802.0h.9M194.8 788.3h.9M178.1 808.3h.9M184.2 801.7h.9M187.3 796.7h.9M177.6 791.9h.9M195.5 802.7h.9M177.2 809.9h.9M193.2 798.7h.9M193.7 781.7h.9M187.9 794.1h.9M181.4 803.4h.9M195.7 789.6h.9M172.0 804.0h.9M192.3 800.3h.9M181.3 804.1h.9M181.1 804.9h.9M178.7 797.0h.9M187.5 790.9h.9M185.5 802.0h.9M192.6 787.8h.9M198.1 798.3h.9M194.5 797.5h.9M191.0 800.5h.9M176.4 800.9h.9M181.2 792.8h.9M181.5 791.7h.9M173.4 804.6h.9M184.7 815.5h.9M185.5 793.1h.9M193.6 803.0h.9M184.3 799.5h.9M170.3 806.5h.9M188.3 804.3h.9M207.0 788.3h.9M183.8 795.6h.9M209.1 796.4h.9M190.0 796.4h.9M184.6 809.3h.9M184.4 798.1h.9M191.9 805.4h.9M185.0 795.9h.9M186.5 805.0h.9M167.9 814.2h.9M199.4 803.0h.9M187.9 804.6h.9M188.8 805.2h.9M174.0 800.2h.9M183.6 803.1h.9M184.7 793.5h.9M175.5 804.9h.9M176.6 813.5h.9M176.0 801.6h.9M186.7 808.9h.9M176.1 813.5h.9M180.1 801.2h.9M188.8 808.1h.9M182.7 797.5h.9M204.5 791.6h.9M188.4 812.3h.9M187.5 796.7h.9M174.2 803.4h.9M174.2 808.4h.9M188.5 810.3h.9M192.6 785.0h.9M178.1 792.8h.9M205.2 794.4h.9M171.9 812.8h.9M172.6 814.7h.9M197.4 783.2h.9M190.5 794.7h.9M199.6 790.1h.9M186.8 813.7h.9M178.3 797.4h.9M203.4 808.8h.9M194.5 792.4h.9M182.1 800.3h.9M178.2 800.9h.9M179.6 808.6h.9M184.7 798.0h.9M207.8 794.2h.9M191.1 795.6h.9M176.0 809.4h.9M186.5 787.8h.9M181.4 803.6h.9M182.9 808.4h.9M181.7 806.9h.9M181.0 798.9h.9M177.8 802.7h.9M189.5 792.2h.9M200.3 791.6h.9M186.7 808.1h.9M177.4 816.7h.9M184.3 808.6h.9M188.7 803.1h.9M180.2 798.4h.9M186.5 797.2h.9M188.8 807.4h.9M190.9 800.2h.9M204.1 805.6h.9M185.5 802.6h.9M190.1 801.7h.9M189.3 793.7h.9M188.3 790.4h.9M174.2 800.8h.9M186.5 802.1h.9M170.2 804.3h.9M177.8 820.0h.9M200.7 791.5h.9M200.4 788.1h.9M206.7 799.4h.9M172.3 804.3h.9M187.2 808.9h.9M187.1 795.7h.9M192.1 799.5h.9M184.5 796.5h.9M199.9 790.0h.9M192.7 794.4h.9M196.4 792.3h.9M186.6 800.0h.9M179.9 807.4h.9M199.2 794.2h.9M183.6 804.1h.9M169.6 809.2h.9M187.3 798.7h.9M204.8 789.0h.9M180.1 798.6h.9M194.9 790.4h.9M185.5 799.4h.9M186.4 805.6h.9M180.5 802.7h.9M175.8 818.8h.9M181.0 795.0h.9M194.5 793.6h.9M187.6 805.4h.9M188.3 800.3h.9M206.0 804.4h.9M177.5 808.6h.9M181.6 789.5h.9M179.3 807.7h.9M188.9 792.5h.9M184.1 801.4h.9M183.6 810.2h.9M180.4 808.3h.9M175.1 802.3h.9M187.6 802.1h.9M177.6 801.3h.9M180.5 802.1h.9M201.3 797.0h.9M178.0 805.0h.9M190.1 791.4h.9M181.0 806.7h.9M166.6 808.9h.9M187.7 810.8h.9M175.7 803.4h.9M197.6 797.3h.9M172.1 806.3h.9M193.8 783.7h.9M189.1 804.6h.9M181.1 814.5h.9M198.2 792.8h.9M186.6 792.9h.9M196.5 804.7h.9M182.9 811.8h.9M182.8 802.3h.9M178.0 818.8h.9M177.3 800.7h.9M175.5 815.9h.9M195.0 797.5h.9M202.0 796.6h.9M181.2 813.4h.9M175.6 802.6h.9M186.5 806.7h.9M187.5 810.9h.9M196.3 803.7h.9M179.2 800.1h.9M178.8 806.6h.9M177.5 800.9h.9M187.5 792.0h.9M185.0 803.8h.9M190.9 802.7h.9M203.2 795.6h.9M191.5 813.0h.9M187.9 800.2h.9M192.6 789.0h.9M168.5 811.1h.9M178.6 794.9h.9M190.1 800.7h.9M182.2 808.4h.9M182.5 801.7h.9M194.8 795.9h.9M182.2 799.8h.9M177.2 794.0h.9M195.9 801.4h.9M175.2 799.3h.9M171.0 802.2h.9M190.7 790.8h.9M196.5 785.0h.9M193.5 785.8h.9M176.1 801.8h.9M193.2 793.4h.9M171.9 803.0h.9M189.9 796.2h.9M189.4 800.7h.9M194.2 797.8h.9M179.4 805.8h.9M200.4 800.9h.9M193.3 785.2h.9M201.7 803.1h.9M175.7 806.2h.9M194.2 793.4h.9M196.3 803.3h.9M188.7 800.3h.9M187.5 806.5h.9M188.3 797.5h.9M193.5 802.0h.9M198.3 806.3h.9M196.4 795.1h.9M181.2 798.9h.9M195.9 801.3h.9M177.9 808.7h.9M182.2 798.2h.9M194.2 798.2h.9M191.0 791.5h.9M170.0 816.3h.9M202.0 792.2h.9M212.6 780.7h.9M188.3 793.3h.9M187.4 803.9h.9M190.2 790.9h.9M190.7 811.5h.9M186.6 796.9h.9M177.9 820.6h.9M178.3 811.7h.9M183.2 793.5h.9M177.3 806.1h.9M172.3 810.7h.9M185.4 806.8h.9M178.9 799.7h.9M205.1 802.9h.9M178.0 801.2h.9M177.4 805.8h.9M180.2 800.4h.9M188.5 791.3h.9M181.6 789.9h.9M200.0 801.6h.9M190.2 804.4h.9M214.8 779.9h.9M176.1 806.2h.9M181.6 809.3h.9M175.7 804.3h.9M177.2 789.1h.9M205.1 796.1h.9M202.7 789.0h.9M181.7 806.2h.9M177.4 802.0h.9M201.7 808.0h.9M189.6 800.0h.9M184.8 803.5h.9M194.1 794.2h.9M179.4 799.1h.9M177.5 791.9h.9M185.5 797.6h.9M181.4 799.3h.9M200.3 797.6h.9M187.3 801.7h.9M183.7 800.9h.9M166.7 801.0h.9M171.6 809.2h.9M200.5 792.9h.9M197.0 795.4h.9M185.9 807.7h.9M176.9 801.6h.9M193.6 798.8h.9M172.4 794.7h.9M191.7 798.5h.9M182.9 790.2h.9M185.7 809.7h.9M196.7 793.7h.9M193.2 794.0h.9M181.7 797.5h.9M172.3 819.0h.9M196.9 790.5h.9M198.4 798.8h.9M197.3 798.7h.9M185.5 805.0h.9M184.6 802.2h.9M185.1 789.8h.9M197.3 790.2h.9M175.3 791.5h.9M192.2 800.5h.9M177.2 799.8h.9M191.5 791.3h.9M183.2 798.6h.9M191.4 799.0h.9M192.9 796.4h.9M187.7 807.2h.9M186.8 780.0h.9M194.6 796.2h.9M190.2 809.2h.9M168.1 799.0h.9M174.2 803.1h.9M189.1 791.0h.9M179.7 805.7h.9M185.9 802.9h.9M193.7 796.4h.9M193.7 797.6h.9M187.2 787.8h.9M194.7 797.0h.9M175.1 803.1h.9M170.4 802.4h.9M183.3 800.5h.9M180.5 811.3h.9M191.5 800.7h.9M195.6 787.4h.9M190.0 785.6h.9M198.3 796.8h.9M202.5 801.2h.9M174.2 800.0h.9M184.0 807.0h.9M185.2 804.5h.9M201.4 789.2h.9M165.8 802.9h.9M185.8 788.4h.9M184.6 811.9h.9M186.3 794.2h.9M186.7 799.2h.9M182.6 811.7h.9M188.5 802.2h.9M186.7 791.9h.9M174.9 803.0h.9M182.1 802.4h.9M170.4 807.9h.9M194.3 803.7h.9M194.7 795.0h.9M177.1 806.5h.9M186.6 794.7h.9M173.6 801.4h.9M192.8 799.2h.9M189.3 793.8h.9M190.3 808.5h.9M193.3 802.6h.9M194.6 799.1h.9M180.9 808.5h.9M171.0 806.2h.9M188.9 800.9h.9M177.0 810.6h.9M181.6 799.8h.9M175.8 789.8h.9M197.2 790.3h.9M188.9 800.1h.9M178.5 810.1h.9M179.1 814.9h.9M177.8 790.3h.9M193.4 809.1h.9M193.2 805.6h.9M181.5 802.6h.9M185.8 805.5h.9M185.2 801.0h.9M194.1 793.5h.9M198.7 795.6h.9M188.8 809.9h.9M181.8 795.6h.9M170.9 807.3h.9M183.9 807.2h.9M207.5 793.2h.9M178.6 807.2h.9M196.1 782.2h.9M194.4 808.3h.9M171.9 803.4h.9M184.9 806.2h.9M173.8 814.3h.9M194.3 792.6h.9M183.2 797.4h.9M188.5 800.3h.9M190.0 807.4h.9M196.6 779.1h.9M189.7 800.5h.9M201.9 801.7h.9M210.2 788.5h.9M203.6 791.9h.9M180.1 802.7h.9M179.8 810.4h.9M182.6 796.4h.9M202.5 787.5h.9M182.5 798.8h.9M171.5 815.5h.9M191.3 792.3h.9M199.8 802.9h.9M185.1 801.1h.9M207.8 786.2h.9M193.2 800.4h.9M189.7 796.5h.9M189.8 792.1h.9M189.5 806.7h.9M191.2 787.3h.9M187.3 801.6h.9M192.0 799.6h.9M176.4 803.1h.9M196.6 803.8h.9M173.2 798.7h.9M186.3 797.5h.9M184.5 812.8h.9M190.8 800.3h.9M187.4 806.6h.9M176.3 802.1h.9M201.3 798.5h.9M200.7 791.6h.9M161.7 802.3h.9M179.3 791.8h.9M182.4 801.4h.9M188.0 804.5h.9M186.6 798.1h.9M176.1 808.3h.9M202.8 806.1h.9M194.8 789.7h.9M179.4 799.7h.9M171.8 806.6h.9M181.6 805.5h.9M201.2 790.8h.9M200.3 790.9h.9M177.4 796.2h.9M193.9 794.8h.9M195.7 790.5h.9M209.7 801.5h.9M188.6 798.6h.9M182.5 797.5h.9M183.9 794.2h.9M193.1 796.0h.9M193.2 799.1h.9M182.5 795.7h.9M195.7 798.4h.9M208.9 791.5h.9M195.4 782.7h.9M192.3 811.0h.9M184.3 795.6h.9M171.3 803.3h.9M172.9 813.4h.9M165.9 818.6h.9M182.1 787.0h.9M176.5 814.5h.9M161.4 782.3h.9M170.1 815.6h.9M163.9 784.4h.9M164.9 779.6h.9M176.0 800.1h.9M170.7 783.2h.9M198.8 794.4h.9M196.3 788.9h.9M180.7 801.5h.9M203.9 781.9h.9M185.3 797.3h.9M164.2 796.0h.9M191.2 799.2h.9M176.0 780.0h.9M195.8 789.4h.9M202.9 788.2h.9M186.2 781.6h.9M186.1 790.7h.9M188.0 790.0h.9M167.4 806.0h.9M174.1 816.7h.9M179.9 782.8h.9M169.1 810.2h.9M214.4 796.2h.9M205.7 805.8h.9M190.3 809.9h.9M220.2 778.3h.9M208.6 781.9h.9M172.9 786.3h.9M190.6 793.7h.9M196.1 797.6h.9M200.8 800.3h.9M181.5 787.4h.9M190.0 787.1h.9M177.0 789.7h.9M175.7 785.1h.9M171.8 798.8h.9M170.7 780.6h.9M162.8 797.0h.9M174.4 803.8h.9M206.0 785.6h.9M184.7 791.1h.9M179.3 811.0h.9M177.0 815.9h.9M168.3 820.4h.9M164.3 780.1h.9M168.3 799.1h.9M196.7 796.6h.9M169.6 795.5h.9M163.4 794.9h.9M212.5 797.7h.9M187.0 807.7h.9M207.1 798.4h.9M173.5 803.8h.9M186.2 804.5h.9M175.6 806.8h.9M208.5 804.4h.9M185.4 815.9h.9M180.8 816.3h.9M199.1 794.3h.9M168.2 801.2h.9M182.4 783.4h.9M182.1 782.7h.9M193.4 803.6h.9M204.4 813.0h.9M211.8 785.2h.9M174.3 801.6h.9M206.5 779.0h.9M162.0 784.7h.9M178.4 778.2h.9M219.0 786.7h.9M162.5 784.8h.9M165.5 801.2h.9M162.6 808.8h.9M182.5 781.1h.9M222.1 782.9h.9M187.9 809.9h.9M206.8 791.3h.9M199.9 789.0h.9M164.6 802.1h.9M214.3 796.5h.9M180.7 782.7h.9M200.1 797.8h.9M176.7 786.4h.9M169.2 807.7h.9M171.8 805.3h.9M176.6 792.1h.9M195.6 783.6h.9M192.9 804.2h.9M167.5 780.2h.9M174.4 820.3h.9M193.9 796.1h.9M174.0 795.8h.9M201.2 778.1h.9M179.3 794.0h.9M177.5 798.3h.9M204.5 809.6h.9M194.0 810.6h.9M195.1 819.6h.9M202.6 806.5h.9M191.7 803.4h.9M179.8 819.1h.9M188.2 799.2h.9M211.3 790.0h.9M182.1 808.3h.9M188.3 820.6h.9M196.5 781.5h.9M203.9 780.4h.9M217.8 779.5h.9M187.8 798.3h.9M172.4 791.4h.9M170.3 788.7h.9M177.4 805.9h.9M176.1 808.3h.9M174.7 788.5h.9M169.0 797.7h.9M193.0 800.7h.9M198.3 807.5h.9M183.4 783.4h.9M196.8 814.1h.9M162.9 783.8h.9M176.6 792.2h.9M172.0 815.4h.9M174.8 800.4h.9M220.1 786.0h.9M179.7 811.4h.9M205.3 780.2h.9M164.6 785.5h.9M184.9 820.6h.9M174.8 806.0h.9M178.0 787.1h.9M177.6 789.7h.9M169.3 795.4h.9M169.4 786.0h.9M211.4 796.5h.9M165.7 814.2h.9M167.8 799.3h.9M161.4 784.7h.9M208.7 802.4h.9M170.1 799.0h.9M180.9 805.2h.9M172.4 801.3h.9M168.3 807.6h.9M178.3 813.5h.9M185.7 818.6h.9M188.1 804.8h.9M214.4 785.2h.9M205.1 788.3h.9M204.9 805.8h.9M167.1 799.8h.9M209.3 802.4h.9M167.1 786.5h.9M216.6 794.0h.9M209.3 798.4h.9M166.4 819.8h.9M167.5 780.1h.9M205.5 789.6h.9M188.2 815.4h.9M182.6 784.3h.9M178.8 802.7h.9M188.5 789.1h.9M187.0 793.9h.9M203.4 783.6h.9M204.9 801.0h.9M203.8 796.0h.9M168.2 790.3h.9M206.4 788.6h.9M219.9 779.6h.9M186.2 808.7h.9M194.7 804.4h.9M196.8 780.7h.9M193.9 782.6h.9M215.9 796.3h.9M173.5 813.8h.9M196.9 820.7h.9M178.7 778.9h.9M208.2 800.8h.9M163.3 779.0h.9M181.3 789.8h.9M184.0 806.9h.9M161.2 804.7h.9M172.2 792.3h.9M192.8 784.9h.9M213.9 786.1h.9M197.4 814.2h.9M171.2 786.7h.9M174.4 814.5h.9M205.5 782.5h.9M171.4 786.5h.9M198.7 818.4h.9M162.5 802.5h.9M170.0 802.5h.9M203.7 790.2h.9M207.2 801.2h.9M169.6 778.7h.9M167.0 786.2h.9M164.3 801.9h.9M170.4 815.2h.9M202.4 804.8h.9M193.8 814.4h.9M193.1 781.9h.9M208.0 807.8h.9M211.5 800.0h.9M177.0 811.0h.9M192.1 814.2h.9M161.9 814.6h.9M192.1 802.9h.9M215.0 794.1h.9M211.8 782.4h.9M173.6 782.6h.9M199.3 806.1h.9M166.5 814.5h.9M187.8 817.4h.9M186.1 788.4h.9M181.4 784.9h.9M172.6 797.2h.9M215.2 784.3h.9M189.7 803.6h.9M186.1 779.2h.9M173.1 796.1h.9M212.1 787.5h.9M202.1 783.5h.9M207.7 778.8h.9M198.5 783.7h.9M166.9 791.8h.9M166.2 802.8h.9M171.5 813.2h.9M195.4 789.3h.9M174.4 804.4h.9M191.0 815.8h.9M186.8 816.6h.9M171.9 803.2h.9M171.0 818.6h.9M192.3 778.1h.9M184.2 800.7h.9M168.6 780.3h.9M202.9 796.5h.9M203.1 782.8h.9M190.3 802.9h.9M180.3 786.2h.9M180.4 815.0h.9M164.5 820.7h.9M190.9 790.3h.9M162.5 778.3h.9M177.1 802.2h.9M196.9 805.9h.9M199.8 783.5h.9M181.1 785.2h.9M196.0 803.3h.9M171.9 784.7h.9M210.8 790.9h.9M170.7 781.7h.9M191.7 792.6h.9M191.7 812.9h.9M190.3 805.0h.9M191.8 811.8h.9M224.9 781.2h.9M164.0 781.5h.9M171.9 802.5h.9M197.8 778.4h.9M176.9 779.7h.9M178.9 815.0h.9M196.7 811.3h.9M173.8 806.9h.9M182.9 785.7h.9M163.8 788.6h.9M197.8 811.4h.9M186.2 784.5h.9M167.0 813.0h.9M165.4 803.6h.9M187.9 783.7h.9M177.5 809.1h.9M168.1 798.9h.9M173.7 808.0h.9M177.2 816.9h.9M164.8 818.4h.9M177.7 793.5h.9M186.6 795.2h.9M176.3 810.4h.9M198.7 778.1h.9M163.1 785.3h.9M171.6 781.0h.9M165.4 804.1h.9M165.5 798.4h.9M193.7 808.6h.9M181.9 781.7h.9M168.0 780.8h.9M193.8 803.7h.9M179.1 806.4h.9M202.7 798.1h.9M171.5 799.3h.9M196.8 804.6h.9M195.1 814.5h.9M168.7 782.9h.9M172.6 803.4h.9M171.8 778.1h.9M163.0 817.5h.9M183.7 816.4h.9M192.3 811.7h.9M182.9 788.8h.9M201.3 816.8h.9M208.6 789.3h.9M168.8 793.6h.9M174.0 796.8h.9M184.9 795.2h.9M164.9 817.7h.9M171.4 808.2h.9M191.4 807.2h.9M181.7 811.1h.9M166.3 813.4h.9M178.1 805.2h.9M217.7 791.1h.9M217.7 782.1h.9M190.6 798.1h.9M175.5 812.7h.9M189.6 814.8h.9M180.7 791.1h.9M176.3 795.8h.9M171.6 805.0h.9M213.5 799.2h.9M184.2 814.9h.9M183.3 808.1h.9M217.5 791.2h.9M177.3 820.4h.9M178.7 794.0h.9M206.8 799.6h.9M168.1 792.9h.9M185.1 786.2h.9M191.0 782.9h.9M193.1 809.0h.9M167.6 788.6h.9M163.7 800.5h.9M219.5 784.7h.9M199.9 791.2h.9M204.3 788.6h.9M166.5 780.6h.9M200.6 790.1h.9M190.5 813.1h.9M198.7 780.2h.9M165.7 809.2h.9M219.2 790.3h.9M178.6 811.1h.9M199.5 795.1h.9M194.6 788.0h.9M215.8 795.6h.9M172.1 815.9h.9M196.3 810.3h.9M179.4 817.4h.9M179.0 814.7h.9M200.1 802.0h.9M181.6 782.7h.9M194.9 800.6h.9M179.3 814.6h.9M164.3 801.3h.9M170.9 795.5h.9M201.0 794.6h.9M217.6 784.3h.9M195.3 787.9h.9M170.1 801.4h.9M173.3 796.7h.9M165.0 782.5h.9M177.3 816.6h.9M164.4 779.7h.9M194.9 784.9h.9M190.4 814.9h.9M194.8 781.9h.9M179.4 797.4h.9M161.6 806.9h.9M189.9 813.1h.9M207.7 791.7h.9M183.0 817.6h.9M187.3 790.6h.9M173.5 800.3h.9M180.8 800.9h.9M162.2 812.7h.9M163.2 795.7h.9M184.3 806.4h.9M168.9 778.0h.9M188.1 788.3h.9M212.8 788.9h.9M178.0 801.8h.9M193.3 802.3h.9M184.2 790.6h.9M172.2 787.9h.9M206.0 787.9h.9M163.3 799.1h.9M186.0 779.1h.9M166.0 818.9h.9M169.6 812.0h.9M203.6 805.9h.9M195.2 801.6h.9M176.4 814.6h.9M172.8 811.2h.9M178.7 810.5h.9M175.9 807.0h.9M188.5 805.8h.9M185.0 786.7h.9M177.2 816.7h.9M211.2 785.3h.9M177.4 787.7h.9M171.5 786.6h.9M173.3 781.9h.9M188.6 819.8h.9M181.0 816.7h.9M177.3 779.5h.9M167.9 806.1h.9M175.6 787.2h.9M183.0 806.7h.9M177.9 817.7h.9M174.0 812.5h.9M201.4 781.3h.9M171.6 815.8h.9M205.6 790.9h.9M198.1 813.5h.9M176.0 783.3h.9M184.4 801.5h.9M219.0 791.1h.9M201.1 799.9h.9M209.6 784.2h.9M167.3 797.0h.9M198.9 784.0h.9M163.4 802.3h.9M200.6 792.5h.9M169.3 812.9h.9M197.4 798.2h.9M199.2 808.7h.9M206.1 801.9h.9M181.1 790.9h.9M170.3 786.7h.9M161.6 802.0h.9M181.5 808.2h.9M172.7 808.0h.9M187.5 807.1h.9M217.3 782.4h.9M163.9 781.9h.9M174.0 811.1h.9M161.6 808.1h.9M161.1 810.4h.9M163.6 795.5h.9M190.8 812.7h.9M198.2 810.0h.9M203.3 792.8h.9M180.0 811.9h.9M194.4 811.6h.9M186.7 778.4h.9M181.8 814.6h.9M161.0 802.6h.9M202.0 813.2h.9M212.0 793.6h.9M203.8 790.5h.9M198.6 782.3h.9M170.8 791.0h.9M185.3 801.6h.9M193.3 817.6h.9M171.2 810.4h.9M185.0 798.3h.9M182.5 804.3h.9M178.3 788.5h.9M202.6 794.1h.9M164.6 789.0h.9M180.6 798.9h.9M205.7 796.2h.9M166.1 796.1h.9M162.5 815.5h.9M168.3 782.2h.9M181.6 799.7h.9M170.8 819.3h.9M189.2 814.6h.9M163.9 807.4h.9M163.2 820.6h.9M203.9 805.2h.9M181.2 782.2h.9M202.5 781.7h.9M180.9 799.4h.9M204.4 803.7h.9M180.4 791.6h.9M185.2 804.8h.9M169.5 794.9h.9M166.5 788.1h.9M195.0 788.6h.9M178.4 790.4h.9M163.0 820.2h.9M168.4 807.3h.9M183.8 805.7h.9M176.7 779.9h.9M187.8 800.0h.9M167.6 784.2h.9M166.4 807.6h.9M165.8 791.4h.9M168.2 809.6h.9M173.1 806.0h.9M174.2 811.6h.9M164.0 795.0h.9M190.1 804.4h.9M185.4 809.4h.9M175.5 798.0h.9M163.5 792.6h.9M165.2 786.3h.9M163.8 789.0h.9M180.4 790.4h.9M183.6 818.0h.9M161.3 796.8h.9M169.4 785.4h.9M183.1 797.7h.9M190.1 794.9h.9M164.2 784.9h.9M193.3 815.4h.9M163.6 809.8h.9M195.3 783.8h.9M222.9 784.4h.9M176.1 788.3h.9M183.5 788.7h.9M187.5 808.7h.9M169.6 806.3h.9M201.7 789.4h.9M207.3 782.1h.9M185.6 819.4h.9M170.9 816.6h.9M203.7 780.8h.9M176.4 817.4h.9M208.9 802.7h.9M201.6 783.8h.9M165.6 815.1h.9M168.5 816.6h.9M163.4 783.1h.9M176.1 794.0h.9M162.4 801.1h.9M202.0 809.2h.9M217.4 781.0h.9M220.0 781.9h.9M174.0 801.5h.9M165.6 817.5h.9M173.1 819.5h.9M216.3 781.6h.9M198.6 815.2h.9M189.7 807.4h.9M174.8 805.7h.9M180.2 800.3h.9M184.5 815.5h.9M162.3 817.0h.9M192.0 781.0h.9M189.7 820.4h.9M163.3 784.8h.9M165.3 802.5h.9M182.3 778.7h.9M171.2 782.9h.9M165.9 793.8h.9M162.7 814.3h.9M219.1 791.3h.9M175.9 782.8h.9M165.0 818.9h.9M171.7 779.8h.9M204.2 786.7h.9M203.9 782.8h.9M174.2 805.6h.9M191.7 793.0h.9M208.6 787.7h.9M182.8 793.6h.9M217.1 794.4h.9M176.8 784.0h.9M185.3 806.7h.9M204.9 782.1h.9M173.7 781.4h.9M175.7 796.8h.9M167.3 809.5h.9M171.5 812.6h.9M162.7 809.9h.9M176.8 812.5h.9M192.9 796.4h.9M162.6 811.1h.9M165.5 807.6h.9M202.6 801.3h.9M181.2 792.8h.9M182.8 818.4h.9M162.7 779.4h.9M205.6 787.2h.9M200.6 804.7h.9M183.2 796.8h.9M181.9 799.6h.9M175.2 791.5h.9M171.3 781.7h.9M209.7 801.4h.9M162.4 816.1h.9M171.8 797.9h.9M177.5 818.7h.9M167.8 800.7h.9M208.6 781.3h.9M170.4 799.5h.9M205.0 794.1h.9M164.5 796.6h.9M184.1 815.1h.9M183.3 784.8h.9M170.4 811.1h.9M176.1 805.9h.9M193.4 798.1h.9M167.6 779.5h.9M165.7 796.3h.9M171.8 796.9h.9M175.9 795.7h.9M162.6 784.5h.9M198.7 820.7h.9M194.0 780.2h.9M201.1 779.0h.9M202.2 790.9h.9M185.3 810.6h.9M193.0 789.7h.9M173.2 819.3h.9M182.1 807.5h.9M169.7 816.4h.9M168.4 782.0h.9M169.6 800.1h.9M190.9 791.8h.9M217.9 790.3h.9M190.5 803.4h.9M200.2 808.5h.9M206.7 792.6h.9M210.9 778.3h.9M174.5 796.7h.9M174.1 799.8h.9M165.4 809.4h.9M185.4 789.4h.9M172.2 805.6h.9M203.8 781.9h.9M162.0 778.3h.9M165.4 788.6h.9M195.4 793.6h.9M197.2 819.3h.9M190.1 794.0h.9M191.7 805.5h.9M167.5 820.0h.9M168.7 794.1h.9M162.7 791.9h.9M171.5 798.4h.9M162.8 793.7h.9M171.1 802.8h.9M169.3 786.1h.9M179.0 804.9h.9M206.0 791.8h.9M193.2 792.2h.9M198.8 801.5h.9M196.3 779.0h.9M163.3 819.7h.9M161.1 789.1h.9M202.8 800.7h.9M164.0 789.7h.9M169.7 792.6h.9M187.1 819.5h.9M192.5 791.3h.9M212.6 787.9h.9M185.3 794.0h.9M184.1 781.8h.9M184.5 781.1h.9M205.2 804.7h.9M176.4 785.2h.9M201.6 778.8h.9M178.1 790.6h.9M206.7 793.0h.9M163.9 787.6h.9M162.1 798.8h.9M179.3 792.5h.9M179.4 792.2h.9M176.9 817.7h.9M210.4 790.0h.9M207.5 786.2h.9M168.5 795.7h.9M166.9 808.6h.9M216.5 787.9h.9M190.6 807.9h.9M192.9 809.8h.9M173.1 785.1h.9M163.1 798.8h.9M170.9 816.2h.9M201.1 808.9h.9M163.9 791.1h.9M161.1 795.7h.9M179.9 797.6h.9M167.0 804.5h.9M219.7 789.4h.9M172.8 799.1h.9M205.4 789.1h.9M170.0 790.3h.9M165.2 780.8h.9M171.4 790.3h.9M161.1 809.3h.9M184.2 795.2h.9M196.6 791.7h.9M191.9 784.5h.9M185.3 820.5h.9M211.9 787.1h.9M172.1 794.4h.9M184.9 782.2h.9M174.0 791.1h.9M203.4 789.6h.9M188.9 793.4h.9M181.3 807.2h.9M166.1 812.4h.9M192.9 820.3h.9M190.3 784.5h.9M161.8 786.3h.9M169.2 797.4h.9M175.2 819.0h.9M165.7 785.4h.9M174.9 815.2h.9M172.2 796.3h.9M172.4 779.3h.9M181.7 785.1h.9M182.4 797.8h.9M168.9 806.4h.9M192.4 792.9h.9M190.4 817.8h.9M168.6 784.5h.9M173.7 809.2h.9M180.3 795.0h.9M167.0 785.3h.9M170.4 796.0h.9M211.2 793.9h.9M186.9 803.7h.9M182.9 782.3h.9M192.6 784.5h.9M200.1 799.1h.9M185.4 806.0h.9M189.0 790.2h.9M170.3 813.4h.9M211.9 784.9h.9M209.2 800.4h.9M169.2 819.2h.9M194.2 804.5h.9M169.0 796.7h.9M182.2 798.2h.9M178.4 795.7h.9M183.8 784.6h.9M178.5 785.7h.9M212.5 795.9h.9M196.4 792.6h.9M192.2 816.4h.9M192.4 810.6h.9M181.3 811.9h.9M180.0 781.0h.9M190.1 815.4h.9M206.9 806.1h.9M205.9 797.9h.9M167.0 790.4h.9M173.6 809.2h.9M183.0 781.7h.9M196.7 797.0h.9M216.2 791.1h.9M167.6 796.4h.9M203.2 813.3h.9M170.6 784.7h.9M200.3 782.9h.9M163.0 801.5h.9M188.8 784.9h.9M190.3 814.6h.9M206.1 806.2h.9M169.1 807.4h.9M180.0 802.5h.9M180.2 807.1h.9M169.8 817.6h.9M192.8 816.8h.9M180.2 786.7h.9M181.9 800.1h.9M173.8 814.3h.9M209.4 780.5h.9M219.9 790.3h.9M189.6 778.1h.9M165.7 795.9h.9M175.5 801.2h.9M164.0 801.4h.9M177.5 797.5h.9M175.9 809.8h.9M195.0 796.9h.9M167.6 820.6h.9M180.8 786.2h.9M175.9 797.8h.9M180.4 786.4h.9M177.2 811.1h.9M210.5 781.4h.9M200.4 795.7h.9M181.6 799.6h.9M165.8 820.5h.9M193.0 798.8h.9M187.3 797.2h.9M191.7 790.4h.9M180.1 810.2h.9M192.5 818.4h.9M172.8 790.7h.9M167.3 804.6h.9M174.5 782.6h.9M165.2 802.5h.9M183.2 794.8h.9M169.2 800.9h.9M214.5 781.5h.9M199.3 782.4h.9M210.3 796.5h.9M178.0 815.4h.9M173.0 805.2h.9M175.6 789.0h.9M161.6 801.9h.9M185.9 818.4h.9M208.9 802.5h.9M219.4 782.9h.9M199.2 819.9h.9M177.1 794.5h.9M182.0 796.6h.9M171.8 793.1h.9M196.4 814.7h.9M197.5 787.8h.9M193.6 777.9h.9M175.0 807.6h.9M171.9 787.6h.9M195.0 817.3h.9M201.3 787.6h.9M202.2 813.1h.9M195.4 800.0h.9M164.6 784.2h.9M216.3 780.0h.9M171.4 806.7h.9M192.7 818.5h.9M174.6 811.8h.9M192.3 784.4h.9M193.5 802.7h.9M176.7 793.7h.9M169.8 788.5h.9M178.0 783.5h.9M202.9 811.3h.9M202.3 783.7h.9M214.9 796.6h.9M176.3 783.6h.9M175.3 783.4h.9M192.3 806.4h.9M166.4 788.1h.9M170.3 813.7h.9M165.4 795.7h.9M167.0 787.2h.9M204.0 811.1h.9M193.1 806.4h.9M179.1 797.2h.9M170.1 800.2h.9M168.9 809.3h.9M186.4 790.7h.9M208.4 795.7h.9M177.8 783.2h.9M164.6 786.7h.9M191.6 806.2h.9M199.7 782.5h.9M208.4 800.1h.9M200.3 817.1h.9M178.6 791.3h.9M181.7 820.7h.9M169.1 796.4h.9M207.6 787.4h.9M178.0 811.6h.9M181.3 796.7h.9M167.1 797.5h.9M188.9 805.5h.9M166.5 815.7h.9M181.7 786.5h.9M199.0 792.8h.9M210.3 794.6h.9M185.5 811.6h.9M173.6 810.8h.9M196.6 803.5h.9M162.3 781.9h.9M199.7 796.5h.9M165.4 797.9h.9M199.9 791.0h.9M219.8 779.7h.9M172.3 784.6h.9M170.3 815.0h.9M189.2 791.2h.9M171.9 802.0h.9M199.9 788.4h.9M184.1 817.5h.9M202.3 780.3h.9M188.4 799.5h.9M163.4 784.9h.9M200.4 787.9h.9M180.2 784.8h.9M178.3 791.3h.9M170.8 794.6h.9M164.0 780.9h.9M166.4 806.0h.9M203.1 792.8h.9M165.7 798.6h.9M178.0 814.1h.9M188.9 806.6h.9M208.9 781.4h.9M185.2 803.6h.9M200.4 799.6h.9M181.8 798.9h.9M174.5 813.8h.9M170.2 795.6h.9M174.2 798.8h.9M176.6 812.4h.9M205.0 801.2h.9M175.2 788.9h.9M188.6 778.5h.9M164.4 800.9h.9M195.8 792.6h.9M204.9 800.6h.9M176.7 778.0h.9M191.1 793.6h.9M200.5 804.1h.9M161.7 789.9h.9M168.2 787.0h.9M161.0 784.8h.9M172.4 817.6h.9M211.8 783.7h.9M218.2 783.1h.9M161.4 794.0h.9M164.4 789.1h.9M179.4 814.8h.9M222.1 782.5h.9M206.5 802.5h.9M176.4 811.8h.9M202.6 792.3h.9M199.3 795.0h.9M197.4 793.1h.9M176.5 808.9h.9M207.4 778.1h.9M182.7 806.6h.9M188.9 778.0h.9M180.3 802.7h.9M198.6 790.1h.9M195.4 793.4h.9M167.8 814.4h.9M165.3 816.2h.9M174.7 786.0h.9M203.2 813.9h.9M199.6 810.0h.9M187.1 802.0h.9M213.8 798.8h.9M177.8 809.2h.9M199.2 811.0h.9M205.7 788.8h.9M215.0 778.2h.9M197.5 782.2h.9M168.4 781.4h.9M177.2 810.4h.9M173.3 804.7h.9M166.2 792.1h.9M169.9 779.4h.9M208.2 778.4h.9M177.1 819.0h.9M189.7 816.5h.9M195.9 817.2h.9M193.4 807.5h.9M193.6 807.3h.9M195.6 789.1h.9M188.8 815.5h.9M187.0 780.9h.9M186.1 815.0h.9M180.5 781.6h.9M177.8 802.3h.9M168.3 820.8h.9M161.8 808.7h.9M176.4 796.5h.9M201.9 816.1h.9M193.9 816.6h.9M187.9 780.6h.9M188.6 816.1h.9M190.1 786.0h.9M194.2 784.9h.9M188.1 800.2h.9M192.8 798.6h.9M198.5 819.8h.9M185.2 813.3h.9M167.6 794.7h.9M206.7 780.5h.9M183.7 796.7h.9M203.0 813.7h.9M172.9 810.8h.9M186.6 792.5h.9M214.0 779.5h.9M170.0 797.4h.9M175.7 815.8h.9M178.4 780.7h.9M172.9 798.5h.9M181.8 781.8h.9M167.2 814.0h.9M179.3 810.0h.9M176.2 800.6h.9M167.0 789.1h.9M185.0 803.7h.9M194.8 781.9h.9M181.8 805.8h.9M186.0 788.8h.9M200.1 781.7h.9M180.6 811.7h.9M161.6 802.6h.9M178.5 816.2h.9M161.7 807.8h.9M166.0 796.9h.9M206.2 785.5h.9M167.9 784.9h.9M216.9 784.8h.9M181.5 796.7h.9M199.5 808.1h.9M165.9 801.0h.9M176.8 788.0h.9M169.6 782.4h.9M184.4 814.0h.9M192.4 794.0h.9M174.8 784.3h.9M183.2 805.9h.9M162.6 815.1h.9M185.5 781.9h.9M191.4 820.6h.9M183.9 786.3h.9M170.4 809.9h.9M176.6 795.8h.9M165.0 780.3h.9M172.2 784.0h.9M181.1 807.5h.9M172.6 789.2h.9M192.2 782.8h.9M169.3 815.3h.9M173.1 795.3h.9M187.8 808.9h.9M222.2 781.5h.9M192.8 804.9h.9M164.1 781.4h.9M208.1 784.6h.9M206.3 780.8h.9M192.2 789.8h.9M196.5 797.0h.9M193.4 792.3h.9M177.3 810.9h.9M163.5 801.2h.9M167.9 809.9h.9M173.8 817.5h.9M190.4 783.6h.9M182.8 793.5h.9M174.5 792.9h.9M170.7 817.3h.9M164.3 810.9h.9M201.6 783.5h.9M207.4 805.6h.9M169.9 807.6h.9M170.1 802.4h.9M166.2 815.7h.9M206.3 809.1h.9M195.1 807.1h.9M177.9 808.7h.9M195.5 808.7h.9M196.6 794.8h.9M165.2 816.9h.9M183.7 818.0h.9M167.4 789.4h.9M185.3 820.6h.9M186.1 817.4h.9M163.4 781.7h.9M186.6 815.7h.9M194.4 819.6h.9M174.6 791.6h.9M200.0 809.1h.9M220.6 786.7h.9M214.1 796.5h.9M183.9 818.0h.9M168.1 795.5h.9M176.4 791.5h.9M206.4 804.0h.9M164.1 781.7h.9M167.8 790.3h.9M167.8 785.0h.9M170.3 796.9h.9M165.7 787.7h.9M167.8 815.7h.9M185.3 815.5h.9M205.0 806.6h.9M183.2 813.4h.9M186.5 799.8h.9M187.6 820.7h.9M184.5 819.3h.9M186.6 782.7h.9M208.2 802.0h.9M170.7 816.2h.9M172.0 796.1h.9M227.6 779.1h.9M173.1 790.5h.9M191.3 819.0h.9M191.2 805.8h.9M203.4 778.0h.9M210.5 798.7h.9M180.9 811.1h.9M180.6 797.3h.9M193.0 808.1h.9M208.7 805.7h.9M171.9 814.4h.9M171.5 796.6h.9M196.6 796.1h.9M163.4 788.8h.9M191.2 816.9h.9M181.1 804.7h.9M162.2 808.5h.9M177.5 786.6h.9M178.2 785.6h.9M193.4 807.0h.9M171.7 810.9h.9M185.3 809.4h.9M178.6 819.3h.9M209.5 801.4h.9M208.7 796.8h.9M198.5 781.0h.9M165.7 804.0h.9M186.3 800.8h.9M166.4 812.0h.9M201.1 797.7h.9M177.3 813.9h.9M167.6 798.3h.9M170.4 812.2h.9M196.3 792.9h.9M169.5 816.9h.9M196.3 819.6h.9M207.2 789.1h.9M189.9 793.5h.9M176.2 801.1h.9M163.2 792.4h.9M196.4 816.7h.9M164.9 813.3h.9" stroke="#fff" stroke-width="0.9" opacity="0.34" fill="none"/>
<path d="M189.5 796.0h.9M188.6 792.4h.9M181.2 806.3h.9M175.8 804.7h.9M180.7 800.5h.9M194.1 795.7h.9M184.2 798.5h.9M182.8 800.1h.9M192.7 799.1h.9M175.8 805.0h.9M191.8 792.7h.9M177.9 806.6h.9M185.3 799.6h.9M185.4 800.9h.9M179.1 805.6h.9M188.9 805.5h.9M181.5 806.1h.9M186.8 801.2h.9M191.2 795.7h.9M180.6 803.8h.9M198.5 799.2h.9M187.8 801.8h.9M189.3 795.1h.9M186.7 794.1h.9M186.5 804.2h.9M191.9 798.9h.9M190.9 794.5h.9M182.9 803.2h.9M192.6 796.8h.9M191.7 799.5h.9M186.0 795.0h.9M194.7 793.1h.9M183.7 804.8h.9M187.6 796.9h.9M180.3 800.6h.9M183.6 798.8h.9M195.9 793.8h.9M182.4 808.1h.9M187.6 798.3h.9M190.5 796.2h.9M194.4 796.9h.9M190.1 796.2h.9M181.4 800.3h.9M187.0 799.3h.9M200.0 792.2h.9M186.8 799.9h.9M175.7 804.2h.9M183.1 798.6h.9M192.5 798.4h.9M184.3 806.6h.9M181.7 801.8h.9M186.6 794.9h.9M184.2 800.2h.9M183.7 802.0h.9M182.0 804.5h.9M187.1 797.7h.9M186.5 796.4h.9M195.1 794.3h.9M186.9 798.7h.9M175.9 803.9h.9M184.1 804.7h.9M191.4 791.4h.9M185.4 796.8h.9M183.6 799.8h.9M188.4 799.9h.9M183.3 797.2h.9M188.0 801.7h.9M187.6 793.9h.9M174.7 803.6h.9M194.2 793.6h.9M191.8 797.1h.9M177.1 803.6h.9M185.9 798.3h.9M191.8 800.8h.9M176.2 807.6h.9M193.9 794.0h.9M181.7 797.4h.9M190.1 796.1h.9M187.4 793.9h.9M176.7 806.8h.9M174.3 808.5h.9M188.7 798.1h.9M178.9 810.0h.9M196.1 794.5h.9M189.0 800.0h.9M182.5 796.2h.9M186.4 800.0h.9M188.9 795.3h.9M186.7 793.7h.9M186.5 799.0h.9M190.7 801.7h.9M184.7 801.2h.9M181.1 799.6h.9M183.2 800.6h.9M172.2 802.0h.9M183.0 798.8h.9M189.6 801.6h.9M187.5 801.6h.9M175.1 802.9h.9M185.6 798.1h.9M180.3 811.0h.9M183.7 809.7h.9M186.0 803.3h.9M189.0 800.8h.9M196.3 796.2h.9M200.9 794.5h.9M187.6 793.7h.9M188.0 802.9h.9M191.5 790.6h.9M186.2 798.9h.9M183.4 799.8h.9M192.9 794.9h.9M188.8 795.9h.9M179.5 800.3h.9M182.9 802.0h.9M183.8 801.1h.9M188.4 797.7h.9M188.5 798.9h.9M178.8 804.0h.9M191.1 792.9h.9M189.8 792.5h.9M187.9 801.2h.9M181.9 808.4h.9M188.4 804.1h.9M184.8 795.2h.9M182.5 800.6h.9M176.3 806.3h.9M181.7 798.3h.9M185.8 805.0h.9M179.5 803.6h.9M185.0 800.6h.9M189.2 801.0h.9M179.1 803.3h.9M183.8 802.1h.9M183.8 800.9h.9M179.0 802.2h.9M179.5 802.9h.9M176.1 798.5h.9M185.4 798.9h.9M200.2 790.6h.9M191.3 797.4h.9M197.0 790.8h.9M190.1 797.6h.9M183.9 800.9h.9M191.4 795.0h.9M177.7 799.2h.9M179.1 800.0h.9M198.4 793.7h.9M188.8 799.1h.9M181.2 802.7h.9M178.9 809.3h.9M177.8 804.2h.9M192.2 801.4h.9M185.8 801.9h.9M186.8 802.1h.9M178.3 803.8h.9M180.5 800.0h.9M186.5 801.3h.9M180.9 800.6h.9M184.0 803.7h.9M187.9 790.4h.9M193.4 792.3h.9M192.1 799.3h.9M190.8 795.1h.9M194.5 792.0h.9M178.5 799.9h.9M178.9 804.3h.9M193.5 799.6h.9M197.3 790.6h.9M193.2 802.7h.9M183.9 797.4h.9M179.4 805.0h.9M193.9 796.8h.9M182.1 806.2h.9M190.6 791.6h.9M186.3 801.7h.9M179.4 799.6h.9M186.5 799.4h.9M182.0 802.6h.9M186.5 800.7h.9M186.4 798.1h.9M190.6 800.0h.9M191.7 799.7h.9M183.6 797.4h.9M190.0 798.7h.9M179.8 805.3h.9M182.0 809.1h.9M183.8 805.1h.9M178.7 804.8h.9M186.5 796.7h.9M194.8 800.2h.9M190.7 798.3h.9M181.1 806.5h.9M190.9 799.9h.9M185.5 805.9h.9M185.6 796.4h.9M196.3 797.0h.9M176.0 803.8h.9M184.1 802.5h.9M179.4 804.1h.9M175.1 800.9h.9M173.9 809.2h.9M190.7 799.5h.9M186.1 801.1h.9M187.2 806.8h.9M187.8 801.5h.9M186.6 800.6h.9M185.8 802.6h.9M191.1 795.7h.9M188.3 796.7h.9M193.4 794.7h.9M189.4 794.7h.9M186.3 795.5h.9M190.0 796.8h.9M184.4 798.2h.9M184.2 796.2h.9M183.4 803.1h.9M192.2 799.7h.9M193.0 791.4h.9M182.4 803.6h.9M190.8 794.5h.9M195.4 793.9h.9M187.0 795.9h.9M182.7 797.7h.9M193.5 799.5h.9M188.6 804.0h.9M197.2 797.7h.9M181.2 803.0h.9M190.5 798.3h.9M194.0 797.3h.9M190.4 794.3h.9M177.2 806.8h.9M184.6 804.0h.9M183.1 797.0h.9M180.3 801.6h.9M195.4 790.2h.9M184.2 804.1h.9M187.7 797.0h.9M174.8 808.2h.9M175.0 806.0h.9M189.5 795.1h.9M189.2 798.7h.9M188.2 801.7h.9M183.6 801.2h.9M189.1 800.5h.9M182.0 795.6h.9M177.4 806.0h.9M185.2 806.0h.9M183.6 803.2h.9M187.0 799.5h.9M185.6 807.4h.9M180.5 801.8h.9M185.5 803.6h.9M185.8 804.2h.9M180.9 805.5h.9M187.3 802.2h.9M176.0 812.2h.9M176.7 802.5h.9M183.8 798.7h.9M180.4 803.9h.9M193.4 797.1h.9M190.4 797.3h.9M181.7 800.1h.9M182.9 798.2h.9M192.5 793.8h.9M174.8 803.7h.9M189.0 798.7h.9M190.2 799.4h.9M184.0 797.5h.9M181.2 805.4h.9M186.6 797.6h.9M185.2 799.1h.9M183.4 803.4h.9M174.9 807.7h.9M182.3 803.6h.9M194.3 788.6h.9M186.6 802.7h.9M181.2 803.6h.9M186.2 800.2h.9M179.3 807.2h.9M185.9 800.6h.9M190.4 798.7h.9M183.6 797.4h.9M190.3 805.5h.9M188.7 795.1h.9M197.0 803.0h.9M190.4 803.3h.9M177.8 809.2h.9M192.0 798.9h.9M175.3 803.5h.9M190.9 797.3h.9M187.0 802.2h.9M184.2 809.2h.9M184.1 801.2h.9M187.9 795.2h.9M192.5 796.9h.9M186.4 799.4h.9M182.2 799.0h.9M190.7 796.9h.9M188.1 802.5h.9M186.8 802.8h.9M185.3 799.8h.9M191.0 797.4h.9M183.2 802.2h.9M190.9 796.8h.9M187.7 803.1h.9M180.3 809.7h.9M181.1 803.4h.9M190.8 803.3h.9M185.7 796.1h.9M185.0 804.8h.9M189.7 792.2h.9M184.4 803.4h.9M169.9 813.8h.9M181.6 802.2h.9M192.0 791.6h.9M185.8 794.5h.9M184.9 800.0h.9M183.8 801.3h.9M189.3 797.0h.9M182.2 798.1h.9M184.8 804.0h.9M191.1 799.2h.9M185.0 802.6h.9M187.4 800.7h.9M188.6 800.7h.9M169.9 812.6h.9M189.1 799.2h.9M183.2 800.0h.9M186.6 803.6h.9M185.4 800.5h.9M176.7 810.7h.9M181.0 804.0h.9M186.8 800.5h.9M186.4 793.8h.9M195.6 793.6h.9M197.4 796.5h.9M190.3 795.0h.9M195.0 797.9h.9M184.4 799.3h.9M176.9 810.7h.9M186.3 798.7h.9M188.5 799.3h.9M184.1 797.2h.9M179.3 797.5h.9M190.4 797.4h.9M181.0 799.2h.9M188.8 801.1h.9M179.5 803.8h.9M185.8 803.6h.9M187.9 801.9h.9M186.1 805.2h.9M186.9 796.8h.9M182.7 806.5h.9M184.8 799.6h.9M192.2 797.9h.9M188.7 799.8h.9M185.4 793.9h.9M181.8 805.8h.9M189.1 800.1h.9M189.9 796.2h.9M180.7 810.5h.9M184.9 799.3h.9M182.5 804.3h.9M178.9 801.4h.9M181.8 802.2h.9M175.1 807.8h.9M193.4 792.3h.9M197.4 790.9h.9M189.2 794.2h.9M175.8 799.6h.9M180.0 805.7h.9M189.1 799.8h.9M190.9 802.9h.9M186.6 799.3h.9M179.8 801.9h.9M179.0 804.5h.9M183.6 799.5h.9M195.8 798.4h.9M180.3 806.6h.9M185.5 801.8h.9M186.7 804.3h.9M187.7 796.3h.9M180.4 802.1h.9M185.0 801.5h.9M188.6 797.6h.9M197.2 796.1h.9M192.6 798.0h.9M182.5 805.7h.9M173.8 810.3h.9M184.0 801.3h.9M197.8 794.6h.9M185.2 799.3h.9M175.5 800.1h.9M191.1 798.3h.9M195.3 798.0h.9M192.3 797.7h.9M184.6 799.9h.9M202.1 793.2h.9M183.7 802.2h.9M180.3 801.0h.9M182.9 801.6h.9M187.2 798.7h.9M187.7 791.4h.9M187.9 800.6h.9M189.5 796.7h.9M175.5 801.7h.9M182.6 804.1h.9M168.3 808.7h.9M176.9 809.9h.9M175.6 802.1h.9M190.4 799.7h.9M195.4 798.0h.9M192.0 791.3h.9M185.8 800.2h.9M183.4 800.0h.9M187.4 798.6h.9M184.6 799.3h.9M195.4 798.5h.9M175.8 812.0h.9M184.7 800.4h.9M183.9 804.3h.9M185.4 799.1h.9M189.9 796.8h.9M185.5 797.1h.9M181.1 798.8h.9M187.2 800.9h.9M190.6 799.4h.9M181.5 806.3h.9M169.8 810.9h.9M186.6 799.7h.9M176.4 806.0h.9M204.6 785.5h.9M185.8 798.4h.9M184.3 805.5h.9M194.3 796.7h.9M193.0 796.6h.9M181.3 800.1h.9M186.5 804.2h.9M190.8 796.4h.9M179.2 804.7h.9M169.1 809.2h.9M183.0 801.3h.9M179.4 803.6h.9M181.2 800.9h.9M178.7 802.4h.9M190.0 803.5h.9M194.1 797.7h.9M180.6 800.9h.9M181.9 808.2h.9M186.2 801.9h.9M189.2 801.9h.9M174.4 809.1h.9M191.1 800.6h.9M194.3 796.5h.9M188.8 799.6h.9M173.7 806.3h.9M186.0 801.3h.9M194.8 800.8h.9M192.4 797.0h.9M181.5 805.5h.9M181.9 801.0h.9M190.2 797.7h.9M190.3 800.3h.9M179.2 802.3h.9M182.1 806.0h.9M180.5 808.1h.9M185.7 796.2h.9M190.7 797.6h.9M183.5 797.6h.9M193.1 794.2h.9M187.5 797.8h.9M183.9 798.5h.9M184.7 800.5h.9M180.3 801.8h.9M194.9 795.6h.9M191.1 796.9h.9M181.8 802.4h.9M190.4 794.1h.9M203.0 796.0h.9M192.4 797.6h.9M185.0 803.4h.9M181.5 804.2h.9M191.5 794.9h.9M175.7 807.1h.9M196.1 790.9h.9M175.2 805.0h.9M191.3 794.2h.9M193.5 794.1h.9M192.0 799.3h.9M188.0 792.9h.9M180.9 799.9h.9M185.9 795.3h.9M182.9 797.2h.9M180.6 802.1h.9M191.7 799.6h.9M192.9 796.5h.9M177.7 811.4h.9M195.1 791.4h.9M184.1 797.5h.9M178.2 802.4h.9M188.3 798.6h.9M192.3 799.5h.9M187.5 804.7h.9M192.2 797.1h.9M186.0 799.6h.9M182.5 801.3h.9M185.3 795.8h.9M185.7 802.4h.9M188.4 803.6h.9M183.8 795.6h.9M179.2 806.6h.9M182.9 800.9h.9M193.5 793.4h.9M191.7 794.2h.9M183.2 797.7h.9M190.0 802.8h.9M183.2 799.2h.9M184.1 799.7h.9M187.5 794.5h.9M179.1 809.9h.9M183.6 802.2h.9M189.5 798.7h.9M187.9 797.7h.9M181.9 798.2h.9M179.3 804.0h.9M183.9 799.3h.9M183.0 803.6h.9M181.5 799.9h.9M190.0 793.8h.9M179.5 797.6h.9M179.2 808.4h.9M178.9 802.7h.9M196.7 797.8h.9M191.2 797.4h.9M188.6 798.6h.9M178.3 807.4h.9M178.7 797.2h.9M179.2 810.7h.9M187.8 805.0h.9M183.8 803.3h.9M186.3 798.6h.9M189.3 798.2h.9M182.8 804.1h.9M180.9 807.3h.9M183.3 798.6h.9M185.5 797.1h.9M187.9 796.1h.9M179.7 809.7h.9M178.6 801.8h.9M183.2 800.0h.9M181.7 806.2h.9M196.3 795.9h.9M171.9 812.9h.9M187.0 802.6h.9M183.9 802.5h.9M184.8 803.8h.9M192.9 802.2h.9M180.1 805.2h.9M187.2 797.8h.9M175.7 802.2h.9M179.1 804.0h.9M185.1 802.2h.9M180.7 799.6h.9M181.9 809.6h.9M196.1 795.7h.9M194.5 791.5h.9M193.6 793.0h.9M187.3 797.4h.9M188.2 798.5h.9M179.3 804.2h.9M193.2 794.2h.9M188.0 797.6h.9M188.1 797.3h.9M187.6 798.0h.9M186.0 798.9h.9M175.4 808.2h.9M171.1 811.9h.9M186.5 804.5h.9M194.3 800.0h.9M179.9 801.2h.9M175.9 806.0h.9M195.6 794.5h.9M183.9 803.5h.9M198.0 794.1h.9M189.9 802.2h.9M182.0 799.8h.9M188.8 800.2h.9M183.1 804.4h.9M181.2 807.4h.9M186.3 802.1h.9M188.4 798.4h.9M191.2 792.7h.9M194.1 797.2h.9M193.0 796.8h.9M190.8 789.6h.9M173.0 810.9h.9M195.3 797.7h.9M178.1 808.7h.9M187.1 797.3h.9M179.2 802.8h.9M188.8 801.3h.9M185.3 802.6h.9M186.7 803.8h.9M181.3 798.7h.9M188.6 800.7h.9M189.0 796.6h.9M186.8 800.1h.9M180.8 804.5h.9M193.1 794.6h.9M189.5 795.1h.9M191.4 793.3h.9M176.7 809.7h.9M192.8 793.7h.9M182.7 804.4h.9M188.5 797.3h.9M186.5 803.3h.9M189.5 796.8h.9M193.1 795.3h.9M182.2 804.7h.9M188.8 797.5h.9M191.6 797.0h.9M183.0 803.9h.9M198.7 792.5h.9M184.0 801.9h.9M189.6 799.3h.9M181.5 799.7h.9M174.4 803.9h.9M187.3 797.1h.9M187.4 799.0h.9M179.5 810.2h.9M193.4 797.4h.9M188.9 796.1h.9M194.5 798.1h.9M191.4 801.8h.9M190.0 797.1h.9M186.8 794.8h.9M182.0 806.0h.9M189.4 793.8h.9M183.4 799.7h.9M181.9 800.7h.9M187.2 804.7h.9M191.5 794.7h.9M187.1 792.8h.9M179.5 809.6h.9M192.1 790.7h.9M187.4 799.0h.9M183.8 800.3h.9M193.4 793.5h.9M187.7 796.6h.9M180.2 802.8h.9M175.9 807.6h.9M190.5 802.3h.9M201.7 796.5h.9M181.3 800.0h.9M195.0 794.3h.9M183.0 801.7h.9M180.3 801.7h.9M176.9 802.5h.9M182.6 802.4h.9M184.9 803.3h.9M182.5 803.7h.9M187.8 796.7h.9M179.8 805.9h.9M170.4 804.8h.9M188.3 791.9h.9M187.0 796.1h.9M191.5 796.5h.9M183.6 805.7h.9M183.7 802.2h.9M192.0 788.9h.9M188.1 804.2h.9M197.4 796.0h.9M177.2 804.8h.9M180.9 800.4h.9M187.3 797.4h.9M186.9 795.8h.9M190.3 797.1h.9M182.9 802.1h.9M185.4 799.9h.9M183.5 801.9h.9M176.5 806.0h.9M191.1 797.8h.9M182.6 806.0h.9M183.1 804.3h.9M194.6 794.2h.9M180.9 810.4h.9M185.3 794.8h.9M183.4 799.2h.9M191.5 799.3h.9M175.8 808.4h.9M186.9 799.8h.9M187.8 800.2h.9M198.0 795.8h.9M181.3 804.4h.9M193.3 795.1h.9M199.3 791.9h.9M173.5 805.2h.9M178.2 804.6h.9M188.6 794.8h.9M187.3 795.2h.9M193.0 790.6h.9M185.6 798.4h.9M189.8 795.7h.9M179.7 802.1h.9M182.8 804.6h.9M187.7 801.2h.9M198.4 788.1h.9M185.3 799.3h.9M187.8 801.5h.9M186.8 800.6h.9M194.3 793.1h.9M181.5 804.4h.9M181.1 803.2h.9M182.3 802.5h.9M178.4 808.2h.9M188.9 800.1h.9M182.7 797.9h.9M174.4 804.9h.9M179.6 800.5h.9M183.7 798.5h.9M186.9 798.7h.9M184.3 804.4h.9M197.7 795.8h.9M184.7 806.5h.9M192.8 800.7h.9M174.9 806.5h.9M193.4 793.3h.9M180.6 804.2h.9M193.9 798.4h.9M189.8 800.9h.9M183.9 802.4h.9M183.0 801.2h.9M189.7 795.7h.9M186.7 802.4h.9M188.4 802.3h.9M182.7 799.1h.9M176.3 802.9h.9M193.3 799.1h.9M190.5 794.8h.9M186.9 801.6h.9M195.4 798.0h.9M187.0 796.1h.9M184.0 796.9h.9M186.8 802.3h.9M180.6 807.2h.9M182.3 798.0h.9M181.4 802.2h.9M190.4 793.0h.9M183.4 804.2h.9M181.3 804.5h.9M182.2 809.5h.9M181.2 800.8h.9M182.6 806.6h.9M188.3 795.8h.9M196.9 793.0h.9M178.0 805.4h.9M176.4 804.1h.9M187.2 805.6h.9M191.3 797.3h.9M186.2 797.6h.9M181.1 798.2h.9M183.3 795.8h.9M177.6 803.7h.9M184.7 799.6h.9M179.1 799.0h.9M189.7 793.6h.9M190.9 798.2h.9M192.2 797.3h.9M190.5 796.1h.9M188.3 798.5h.9M181.0 807.2h.9M177.2 807.0h.9M188.0 795.6h.9M195.0 796.5h.9M194.1 798.0h.9M187.3 798.1h.9M191.0 790.4h.9M190.4 797.7h.9M181.6 795.9h.9M185.7 802.9h.9M182.4 802.8h.9M192.8 798.4h.9M183.8 796.9h.9M186.1 801.5h.9M177.3 804.5h.9M191.9 793.5h.9M195.4 796.2h.9M192.0 797.8h.9M189.0 804.2h.9M186.1 802.6h.9M178.6 804.8h.9M186.0 799.0h.9M188.5 799.5h.9M196.1 793.3h.9M183.8 799.4h.9M181.4 802.1h.9M191.4 798.1h.9M183.4 800.3h.9M194.4 800.7h.9" stroke="#fff" stroke-width="0.9" opacity="0.8" fill="none"/>
<rect x="198.6" y="776.3" width="43.900000000000006" height="35.10000000000002" fill="none" stroke="#fff" stroke-width="1.2"/>
<text x="199.5" y="774.6" font-size="3.9" text-anchor="start" fill="#eee" font-weight="bold" >P: 12.62%</text>
<text x="203.4" y="834.3" font-size="3.7" text-anchor="middle" fill="#333" >EGFP-A-Compensated</text>
<text x="148.0" y="778.75" font-size="3.7" text-anchor="middle" fill="#333" transform="rotate(-90 148.0 778.75)" >PI-A-Compensated</text>
<text x="156.0" y="737.4000000000001" font-size="3.0" text-anchor="end" fill="#444" >10⁵</text>
<text x="161.5" y="828.3" font-size="3.0" text-anchor="middle" fill="#444" >10¹</text>
<text x="156.0" y="758.6750000000001" font-size="3.0" text-anchor="end" fill="#444" >10⁴</text>
<text x="182.95" y="828.3" font-size="3.0" text-anchor="middle" fill="#444" >10²</text>
<text x="156.0" y="779.95" font-size="3.0" text-anchor="end" fill="#444" >10³</text>
<text x="204.4" y="828.3" font-size="3.0" text-anchor="middle" fill="#444" >10³</text>
<text x="156.0" y="801.225" font-size="3.0" text-anchor="end" fill="#444" >10²</text>
<text x="225.85000000000002" y="828.3" font-size="3.0" text-anchor="middle" fill="#444" >10⁴</text>
<text x="156.0" y="822.5" font-size="3.0" text-anchor="end" fill="#444" >10¹</text>
<text x="247.3" y="828.3" font-size="3.0" text-anchor="middle" fill="#444" >10⁵</text>
<rect x="281.8" y="736.2" width="85.80000000000001" height="85.09999999999991" fill="#000"/>
<path d="M303.8 792.1h.9M314.2 792.8h.9M321.0 800.9h.9M316.0 804.9h.9M314.8 805.4h.9M310.4 804.3h.9M314.8 801.3h.9M302.0 803.8h.9M313.5 803.2h.9M302.7 806.6h.9M303.4 807.1h.9M298.1 811.3h.9M293.7 798.0h.9M284.0 813.2h.9M319.8 798.4h.9M302.8 811.4h.9M300.6 802.6h.9M287.8 810.7h.9M285.2 817.0h.9M312.5 789.2h.9M306.6 802.8h.9M311.9 790.2h.9M315.1 800.5h.9M321.3 792.0h.9M296.9 795.5h.9M313.6 798.1h.9M312.1 804.8h.9M292.0 818.7h.9M308.7 802.9h.9M295.0 816.3h.9M314.6 802.5h.9M315.2 800.4h.9M314.7 797.0h.9M315.0 793.9h.9M302.3 805.8h.9M297.4 806.8h.9M313.7 798.9h.9M304.7 811.5h.9M322.5 796.4h.9M306.6 806.3h.9M290.8 809.2h.9M311.7 797.6h.9M306.0 787.8h.9M302.9 801.8h.9M301.3 789.3h.9M312.2 808.5h.9M299.9 818.9h.9M311.3 803.3h.9M306.4 794.0h.9M308.2 803.0h.9M299.8 794.1h.9M318.3 795.4h.9M309.6 798.8h.9M320.4 799.3h.9M295.8 813.2h.9M307.1 803.4h.9M292.7 809.9h.9M294.6 810.8h.9M298.6 806.1h.9M308.6 789.4h.9M316.0 792.8h.9M328.3 787.2h.9M297.5 804.9h.9M312.2 798.5h.9M296.8 801.4h.9M312.2 797.7h.9M316.8 793.4h.9M314.5 810.7h.9M291.5 815.5h.9M307.7 793.5h.9M308.5 802.2h.9M291.8 812.2h.9M308.6 796.6h.9M304.9 803.6h.9M314.6 812.1h.9M318.9 798.4h.9M316.2 801.1h.9M305.6 800.4h.9M313.9 812.1h.9M293.4 810.3h.9M306.7 811.9h.9M300.2 800.4h.9M318.6 799.7h.9M314.6 799.3h.9M303.6 809.6h.9M304.0 793.5h.9M314.7 794.6h.9M316.4 799.5h.9M300.2 804.8h.9M320.3 798.9h.9M294.7 803.6h.9M308.4 799.9h.9M316.2 806.0h.9M307.9 802.7h.9M326.1 786.2h.9M298.5 810.7h.9M319.4 796.5h.9M309.1 798.6h.9M309.2 803.2h.9M304.6 804.1h.9M307.9 802.3h.9M320.2 799.9h.9M296.9 803.2h.9M313.1 811.3h.9M291.2 809.6h.9M314.6 816.3h.9M309.4 802.9h.9M323.9 785.7h.9M316.8 797.1h.9M308.3 786.3h.9M310.9 803.9h.9M309.4 797.6h.9M301.1 804.1h.9M304.8 798.7h.9M312.0 806.7h.9M310.9 801.2h.9M303.2 809.1h.9M315.5 795.2h.9M304.7 791.5h.9M316.0 796.9h.9M307.4 794.7h.9M317.1 790.0h.9M310.5 800.1h.9M311.5 798.1h.9M304.7 812.9h.9M316.2 805.1h.9M306.6 793.6h.9M308.3 804.6h.9M302.1 796.5h.9M298.5 801.0h.9M318.3 799.3h.9M301.7 802.8h.9M304.9 801.3h.9M305.8 794.7h.9M318.3 795.2h.9M309.5 794.0h.9M299.6 800.5h.9M307.2 801.5h.9M321.8 799.7h.9M317.7 802.2h.9M313.9 791.0h.9M306.2 797.6h.9M313.8 804.5h.9M296.7 800.1h.9M295.5 807.1h.9M294.3 807.7h.9M292.6 804.9h.9M302.4 803.3h.9M317.1 801.9h.9M319.7 793.7h.9M300.2 798.4h.9M316.4 808.1h.9M308.9 815.6h.9M296.0 807.8h.9M305.1 806.0h.9M301.4 805.3h.9M301.6 798.7h.9M322.1 792.8h.9M310.8 803.4h.9M304.2 804.5h.9M313.7 794.8h.9M317.5 799.9h.9M297.1 808.5h.9M306.2 794.9h.9M311.0 804.5h.9M299.5 813.9h.9M307.8 800.7h.9M310.7 799.5h.9M313.6 799.2h.9M290.0 811.5h.9M304.2 798.2h.9M312.4 795.2h.9M298.0 805.3h.9M316.3 797.5h.9M326.7 786.6h.9M289.2 812.1h.9M306.4 799.4h.9M313.6 797.5h.9M308.6 805.8h.9M304.9 796.6h.9M315.1 791.8h.9M309.3 808.7h.9M297.5 799.4h.9M319.5 799.7h.9M310.0 804.5h.9M297.9 818.0h.9M311.7 800.5h.9M305.9 801.2h.9M306.0 811.0h.9M310.4 802.6h.9M294.5 810.0h.9M307.4 799.3h.9M317.1 784.2h.9M310.9 797.6h.9M318.4 798.9h.9M309.6 798.8h.9M309.6 791.5h.9M316.0 804.4h.9M294.3 805.1h.9M308.9 802.4h.9M293.7 804.0h.9M304.5 805.3h.9M313.8 812.4h.9M325.3 809.4h.9M300.5 818.9h.9M297.2 807.3h.9M308.5 813.3h.9M308.3 807.6h.9M300.3 814.7h.9M295.5 815.1h.9M314.1 796.5h.9M316.8 804.9h.9M319.5 803.9h.9M296.9 809.9h.9M315.6 803.4h.9M298.8 808.3h.9M322.2 787.9h.9M300.8 812.6h.9M320.3 797.8h.9M303.9 797.9h.9M330.3 783.0h.9M310.6 788.3h.9M324.2 777.9h.9M321.1 788.5h.9M297.7 806.8h.9M310.7 804.2h.9M307.6 803.0h.9M309.3 795.0h.9M294.6 809.0h.9M308.1 793.8h.9M297.3 812.2h.9M313.8 798.0h.9M293.1 807.9h.9M315.4 792.2h.9M293.2 805.8h.9M301.8 797.4h.9M307.8 811.1h.9M308.0 795.4h.9M320.6 793.0h.9M316.4 797.1h.9M309.8 801.6h.9M308.0 803.4h.9M309.4 807.0h.9M306.2 800.7h.9M297.3 803.5h.9M321.3 799.7h.9M296.3 816.4h.9M300.0 811.7h.9M287.8 816.1h.9M306.1 803.1h.9M311.9 789.1h.9M313.0 799.7h.9M305.0 814.9h.9M301.2 806.1h.9M307.1 811.2h.9M320.1 792.8h.9M313.8 798.7h.9M317.7 798.5h.9M308.3 810.1h.9M298.3 807.2h.9M305.9 806.2h.9M318.6 797.5h.9M300.1 811.3h.9M307.1 809.1h.9M307.6 798.6h.9M308.6 793.4h.9M316.0 797.6h.9M307.9 808.3h.9M313.5 793.4h.9M293.8 808.5h.9M304.1 804.9h.9M290.9 804.4h.9M303.8 819.1h.9M316.3 788.2h.9M316.8 795.1h.9M311.4 801.5h.9M316.3 792.2h.9M310.7 811.0h.9M308.3 795.5h.9M322.9 795.2h.9M313.2 799.1h.9M317.5 787.1h.9M291.4 807.1h.9M307.8 805.4h.9M312.0 799.1h.9M296.4 810.6h.9M299.1 809.6h.9M303.5 810.7h.9M304.8 798.5h.9M292.6 810.5h.9M301.2 798.8h.9M305.3 804.1h.9M313.3 789.4h.9M286.3 816.3h.9M302.2 812.5h.9M313.6 801.7h.9M307.6 800.9h.9M320.3 793.5h.9M299.8 803.8h.9M294.9 812.1h.9M306.1 800.4h.9M318.2 801.1h.9M302.2 800.9h.9M322.2 785.9h.9M313.7 795.2h.9M318.4 794.2h.9M308.3 793.0h.9M303.7 806.2h.9M322.1 802.2h.9M308.2 796.1h.9M318.3 804.0h.9M307.4 802.1h.9M300.3 798.3h.9M314.2 801.5h.9M309.3 797.4h.9M301.7 802.7h.9M316.4 798.5h.9M312.8 809.7h.9M313.4 819.2h.9M296.6 814.4h.9M317.2 795.1h.9M303.6 798.3h.9M310.8 804.3h.9M319.9 790.2h.9M296.6 805.1h.9M304.5 800.8h.9M293.1 804.3h.9M310.5 802.3h.9M292.2 802.5h.9M314.8 805.0h.9M302.8 798.6h.9M308.9 810.7h.9M320.0 804.2h.9M315.7 805.0h.9M303.4 800.3h.9M319.7 801.7h.9M317.8 794.8h.9M307.7 799.8h.9M317.9 784.8h.9M297.5 800.7h.9M321.6 790.8h.9M307.9 800.6h.9M312.4 799.5h.9M302.1 811.8h.9M307.1 807.9h.9M309.0 785.6h.9M321.0 797.3h.9M310.3 802.0h.9M308.6 799.0h.9M312.4 798.1h.9M315.1 790.7h.9M293.5 804.1h.9M305.8 801.2h.9M305.4 790.0h.9M311.6 803.8h.9M299.7 802.1h.9M289.8 809.2h.9M304.5 807.4h.9M310.8 788.3h.9M305.9 811.7h.9M319.2 801.1h.9M293.1 813.3h.9M314.2 798.1h.9M296.3 811.3h.9M315.3 804.3h.9M308.2 801.4h.9M322.3 798.6h.9M308.5 801.6h.9M301.0 810.2h.9M309.1 789.4h.9M307.9 807.9h.9M307.8 802.1h.9M295.7 812.6h.9M313.2 799.5h.9M302.9 804.3h.9M323.4 788.9h.9M313.8 801.0h.9M293.2 808.7h.9M292.7 813.4h.9M308.8 812.4h.9M302.5 800.5h.9M301.6 805.0h.9M291.1 804.9h.9M298.4 802.1h.9M307.1 795.2h.9M319.6 796.3h.9M308.4 795.2h.9M318.9 808.3h.9M301.9 789.9h.9M311.8 794.2h.9M314.7 795.1h.9M315.7 803.2h.9M308.9 797.0h.9M311.5 800.4h.9M312.8 790.5h.9M310.8 792.8h.9M316.2 792.3h.9M311.5 800.7h.9M317.0 805.2h.9M314.1 801.9h.9M320.1 799.5h.9M315.6 796.6h.9M305.2 792.5h.9M290.3 803.4h.9M309.2 805.0h.9M308.4 804.2h.9M321.4 805.7h.9M310.5 802.9h.9M324.0 787.5h.9M322.6 790.2h.9M307.7 795.7h.9M302.2 805.6h.9M298.2 800.9h.9M296.5 806.6h.9M291.6 804.5h.9M315.3 801.7h.9M318.7 810.6h.9M316.6 794.4h.9M314.9 795.1h.9M299.4 812.3h.9M316.7 789.0h.9M310.3 809.9h.9M304.0 807.6h.9M312.0 804.6h.9M315.5 788.7h.9M314.7 810.6h.9M298.4 807.3h.9M302.5 803.7h.9M325.1 784.8h.9M304.3 805.4h.9M313.8 800.9h.9M314.4 807.2h.9M307.1 794.8h.9M294.8 806.8h.9M304.1 789.9h.9M297.3 800.5h.9M298.5 805.2h.9M298.9 794.8h.9M316.3 806.0h.9M299.0 818.0h.9M311.8 805.9h.9M309.0 806.3h.9M309.6 796.3h.9M295.3 806.1h.9M306.3 804.6h.9M318.0 799.3h.9M301.0 812.5h.9M312.9 805.7h.9M309.6 810.9h.9M300.7 809.3h.9M296.2 812.8h.9M308.3 797.1h.9M319.7 794.6h.9M310.3 794.7h.9M293.8 809.2h.9M304.5 795.9h.9M312.2 801.4h.9M303.7 813.8h.9M305.1 800.2h.9M311.9 794.7h.9M308.0 801.5h.9M291.5 813.4h.9M308.2 797.9h.9M306.2 796.8h.9M294.0 818.1h.9M316.4 794.4h.9M305.7 812.0h.9M293.4 810.0h.9M305.6 797.9h.9M303.6 799.0h.9M306.7 798.2h.9M301.4 802.2h.9M319.9 799.6h.9M321.5 791.4h.9M301.7 802.6h.9M319.9 793.7h.9M288.3 810.0h.9M302.0 809.6h.9M296.4 813.8h.9M315.4 792.8h.9M304.0 794.5h.9M303.8 801.8h.9M309.6 801.3h.9M315.4 802.3h.9M300.2 801.7h.9M307.0 794.8h.9M313.2 798.7h.9M307.6 803.2h.9M319.2 792.4h.9M313.2 799.3h.9M302.3 805.7h.9M303.1 797.1h.9M313.8 792.2h.9M308.1 797.6h.9M303.7 796.2h.9M310.9 795.3h.9M322.7 797.1h.9M313.7 796.9h.9M318.7 792.8h.9M305.5 802.4h.9M305.8 803.6h.9M307.0 806.3h.9M295.6 811.1h.9M315.2 799.2h.9M306.9 794.4h.9M283.9 812.0h.9M308.3 791.6h.9M314.3 799.6h.9M318.0 800.9h.9M304.6 818.2h.9M308.1 795.0h.9M320.3 795.2h.9M313.5 785.9h.9M322.3 794.6h.9M302.9 806.4h.9M297.7 805.0h.9M290.5 812.1h.9M297.8 801.2h.9M303.5 802.8h.9M322.6 795.3h.9M318.7 785.7h.9M317.3 796.4h.9M310.4 803.2h.9M299.8 806.9h.9M303.3 803.5h.9M319.7 801.7h.9M314.2 793.3h.9M301.0 790.8h.9M296.9 807.9h.9M313.9 794.9h.9M310.0 803.3h.9M316.5 799.4h.9M316.9 799.8h.9M319.5 799.9h.9M307.3 785.5h.9M318.9 800.6h.9M319.3 803.2h.9M317.5 797.0h.9M311.4 795.3h.9M304.0 799.0h.9M320.3 787.6h.9M317.1 798.9h.9M321.9 799.7h.9M319.1 810.0h.9M301.6 801.5h.9M306.5 808.0h.9M301.4 804.6h.9M296.5 812.1h.9M317.0 799.9h.9M315.2 794.1h.9M321.9 798.2h.9M313.6 794.6h.9M313.3 802.5h.9M314.2 805.5h.9M302.2 799.1h.9M314.9 787.3h.9M306.9 800.1h.9M317.8 804.4h.9M312.4 809.1h.9M313.7 809.4h.9M317.3 791.4h.9M292.3 807.7h.9M322.5 800.5h.9M301.0 794.8h.9M301.6 816.6h.9M321.4 804.6h.9M303.0 798.4h.9M295.2 811.3h.9M305.2 806.7h.9M311.7 798.0h.9M284.8 804.3h.9M309.7 802.4h.9M309.9 806.6h.9M297.6 800.0h.9M317.1 791.9h.9M312.9 790.0h.9M300.9 800.6h.9M302.1 788.9h.9M297.6 812.3h.9M312.6 798.7h.9M312.5 802.1h.9M302.9 803.8h.9M312.8 793.8h.9M316.0 792.6h.9M299.6 784.9h.9M320.5 785.4h.9M306.7 799.8h.9M304.5 807.0h.9M315.2 795.3h.9M294.7 808.1h.9M305.6 808.2h.9M301.9 801.6h.9M332.5 785.9h.9M297.4 813.2h.9M320.6 795.4h.9M294.2 815.5h.9M302.3 807.3h.9M327.0 788.0h.9M299.6 806.9h.9M291.1 807.9h.9M300.1 801.9h.9M312.9 800.6h.9M313.7 791.2h.9M319.1 795.0h.9M298.0 804.9h.9M302.3 804.1h.9M314.1 807.1h.9M321.4 794.8h.9M309.1 800.1h.9M313.4 797.9h.9M296.1 808.0h.9M299.1 802.6h.9M299.2 807.3h.9M315.9 801.2h.9M294.3 809.8h.9M319.8 794.6h.9M303.1 803.2h.9M311.1 805.7h.9M305.9 797.6h.9M314.4 803.1h.9M304.1 797.0h.9M309.7 798.6h.9M310.6 790.9h.9M294.1 811.6h.9M298.7 800.4h.9M298.9 810.7h.9M315.9 783.1h.9M310.3 795.9h.9M308.9 807.0h.9M309.7 793.0h.9M303.3 796.1h.9M311.0 814.6h.9M299.7 814.6h.9M320.8 795.9h.9M306.3 801.9h.9M315.3 786.2h.9M304.6 810.6h.9M315.2 801.2h.9M307.1 799.0h.9M328.0 787.0h.9M292.2 807.8h.9M300.8 803.3h.9M309.6 808.2h.9M320.0 791.1h.9M297.2 812.4h.9M309.1 802.1h.9M315.6 800.6h.9M307.9 807.7h.9M296.1 803.6h.9M304.9 796.6h.9M311.7 799.5h.9M300.3 795.9h.9M317.3 816.3h.9M312.6 797.5h.9M299.4 810.5h.9M311.0 792.9h.9M300.2 805.9h.9M312.3 797.0h.9M318.3 803.4h.9M293.7 805.1h.9M315.8 796.4h.9M325.7 784.6h.9M320.1 795.0h.9M315.3 803.8h.9M309.4 804.7h.9M319.6 795.1h.9M313.1 800.0h.9M316.8 809.1h.9M311.9 806.6h.9M317.5 806.2h.9M311.0 798.9h.9M301.8 802.5h.9M322.7 801.1h.9M292.6 802.7h.9M291.9 806.5h.9M325.2 781.1h.9M295.9 806.8h.9M291.3 811.0h.9M305.9 804.3h.9M301.7 811.9h.9M316.5 792.8h.9M285.2 816.8h.9M310.2 794.8h.9M294.8 819.2h.9M320.1 806.9h.9M310.3 787.1h.9M307.8 801.0h.9M308.1 801.4h.9M296.3 799.0h.9M309.5 804.5h.9M306.7 809.6h.9M295.1 808.5h.9M313.3 795.2h.9M312.6 799.4h.9M308.6 794.6h.9M307.8 794.4h.9M307.6 804.2h.9M288.1 806.5h.9M315.3 799.0h.9M315.2 802.0h.9M322.1 806.2h.9M323.0 798.2h.9M286.0 815.7h.9M312.2 790.2h.9M314.0 795.8h.9M306.8 806.1h.9M322.7 792.4h.9M317.3 789.9h.9M303.5 801.9h.9M306.9 811.1h.9M310.6 792.5h.9M321.7 792.0h.9M321.8 787.9h.9M324.9 789.5h.9M314.0 806.4h.9M314.0 796.9h.9M299.0 805.0h.9M300.9 801.0h.9M321.8 783.4h.9M320.9 795.2h.9M318.3 792.1h.9M320.5 807.7h.9M315.7 792.0h.9M290.5 816.2h.9M298.5 813.9h.9M296.6 799.8h.9M296.9 803.7h.9M320.0 785.0h.9M305.5 803.4h.9M301.1 808.5h.9M292.6 812.0h.9M302.7 797.5h.9M299.3 811.7h.9M312.5 799.3h.9M301.6 809.0h.9M319.8 792.6h.9M306.9 810.0h.9M321.0 808.5h.9M312.7 794.5h.9M306.2 804.7h.9M300.4 799.7h.9M314.6 791.0h.9M321.4 789.7h.9M305.2 804.2h.9M305.2 803.1h.9M300.7 811.0h.9M306.7 817.2h.9M315.2 798.7h.9M297.6 807.9h.9M304.0 805.4h.9M333.4 776.2h.9M319.2 803.4h.9M317.5 804.9h.9M314.1 796.9h.9M318.0 791.1h.9M304.7 796.6h.9M322.5 799.4h.9M326.0 789.1h.9M306.1 808.5h.9M312.5 803.0h.9M306.1 809.6h.9M307.5 805.0h.9M301.9 804.4h.9M313.8 790.2h.9M295.2 800.5h.9M321.5 805.1h.9M308.3 805.1h.9M321.4 802.0h.9M290.4 803.2h.9M302.9 797.9h.9M324.9 790.7h.9M317.5 796.5h.9M308.6 791.1h.9M313.1 804.0h.9M314.2 801.9h.9M308.8 803.7h.9M325.9 788.4h.9M320.6 794.2h.9M306.1 806.3h.9M319.5 799.8h.9M293.5 810.5h.9M310.6 799.3h.9M295.9 806.4h.9M313.6 798.2h.9M296.1 815.0h.9M308.8 818.2h.9M301.5 802.3h.9M329.8 787.8h.9M319.3 803.5h.9M304.5 812.2h.9M289.4 812.0h.9M305.3 791.9h.9M308.8 805.9h.9M308.1 804.8h.9M310.1 806.0h.9M303.7 807.7h.9M321.5 781.9h.9M313.7 790.4h.9M299.3 806.6h.9M301.1 785.0h.9M304.6 802.0h.9M309.2 802.3h.9M315.7 797.9h.9M312.8 810.5h.9M321.1 805.1h.9M312.8 799.4h.9M311.6 799.2h.9M301.6 796.1h.9M308.1 797.9h.9M317.9 798.1h.9M308.9 812.8h.9M296.6 798.3h.9M294.7 809.6h.9M320.0 796.1h.9M322.5 791.9h.9M293.4 813.4h.9M311.2 787.6h.9M302.3 797.4h.9M304.2 805.6h.9M310.3 803.7h.9M320.5 787.9h.9M315.9 799.0h.9M298.3 811.0h.9M318.1 787.1h.9M317.0 800.4h.9M307.7 805.2h.9M293.1 804.6h.9M291.6 811.4h.9M314.8 785.8h.9M301.8 806.4h.9M305.9 802.6h.9M322.3 794.6h.9M312.5 793.1h.9M299.2 800.4h.9M309.7 808.0h.9M317.1 796.2h.9M321.7 807.4h.9M309.4 812.2h.9M297.8 799.1h.9M307.8 802.5h.9M306.4 795.7h.9M305.6 805.0h.9M312.6 800.6h.9M293.3 804.3h.9M302.6 808.7h.9M305.2 791.0h.9M314.1 801.7h.9M320.0 791.7h.9M305.0 802.2h.9M307.4 798.8h.9M311.7 797.8h.9M312.0 796.0h.9M310.6 797.8h.9M305.6 809.0h.9M313.7 806.7h.9M313.8 806.0h.9M309.7 819.7h.9M311.0 799.5h.9M290.3 814.2h.9M300.7 813.0h.9M309.7 802.5h.9M320.0 793.3h.9M298.5 813.7h.9M316.1 808.7h.9M317.5 797.4h.9M318.6 795.2h.9M320.7 796.0h.9M304.6 796.5h.9M314.4 799.0h.9M292.0 807.8h.9M308.3 794.3h.9M310.3 797.7h.9M317.7 795.8h.9M322.3 790.2h.9M307.3 798.9h.9M306.2 804.0h.9M313.5 800.5h.9M312.1 799.6h.9M302.3 804.2h.9M305.0 797.1h.9M319.6 792.1h.9M300.8 798.3h.9M297.4 803.5h.9M305.4 801.4h.9M308.2 803.1h.9M305.2 812.1h.9M312.2 804.4h.9M314.9 802.8h.9M308.2 798.5h.9M304.6 802.6h.9M292.6 803.9h.9M304.9 802.5h.9M304.5 802.9h.9M320.4 794.1h.9M318.7 789.6h.9M297.6 803.2h.9M310.2 798.4h.9M305.2 798.4h.9M294.9 798.7h.9M309.1 804.8h.9M302.6 814.6h.9M311.6 794.1h.9M324.9 790.6h.9M301.2 812.9h.9M309.2 810.6h.9M318.7 796.1h.9M317.2 799.9h.9M305.8 804.8h.9M310.9 801.9h.9M298.2 805.9h.9M306.4 797.6h.9M305.7 801.2h.9M318.5 802.2h.9M313.6 803.8h.9M298.4 798.9h.9M313.1 802.6h.9M288.5 814.7h.9M309.7 794.4h.9M325.4 790.4h.9M308.2 804.5h.9M302.9 804.4h.9M303.6 801.2h.9M319.6 785.6h.9M312.7 794.3h.9M292.2 810.3h.9M298.5 807.0h.9M319.2 801.5h.9M304.9 798.4h.9M308.0 807.5h.9M304.1 803.3h.9M301.4 800.2h.9M324.3 789.2h.9M307.6 808.8h.9M318.3 800.3h.9M305.3 797.6h.9M306.5 784.9h.9M307.3 801.1h.9M307.9 806.7h.9M314.3 790.7h.9M306.7 799.5h.9M308.2 818.1h.9M322.3 794.9h.9M302.7 790.5h.9M312.9 796.4h.9M312.8 793.7h.9M301.6 796.4h.9M324.9 786.4h.9M303.3 805.0h.9M311.3 802.8h.9M292.7 811.6h.9M315.4 792.5h.9M294.7 813.4h.9M300.7 805.8h.9M309.5 809.5h.9M319.3 798.2h.9M311.9 801.4h.9M311.0 803.0h.9M304.1 805.9h.9M319.4 793.5h.9M311.3 800.1h.9M303.4 800.1h.9M295.8 808.2h.9M303.5 809.1h.9M308.9 799.9h.9M305.2 798.8h.9M325.1 786.1h.9M305.5 793.8h.9M297.3 802.2h.9M298.5 798.6h.9M306.7 806.1h.9M303.6 802.6h.9M317.2 798.2h.9M312.5 801.3h.9M311.5 802.5h.9M309.4 801.6h.9M312.4 800.4h.9M287.3 813.6h.9M301.9 813.4h.9M291.4 806.6h.9M314.1 791.7h.9M316.7 797.5h.9M305.7 790.5h.9M289.2 801.4h.9M302.4 811.5h.9M309.2 796.6h.9M302.9 809.6h.9M317.9 794.8h.9M317.7 797.9h.9M322.2 792.8h.9M306.5 801.7h.9M302.8 800.4h.9M309.5 799.6h.9M312.5 807.1h.9M318.6 801.8h.9M319.0 800.3h.9M297.1 804.6h.9M323.3 791.4h.9M323.9 777.5h.9M332.4 814.3h.9M310.2 793.4h.9M285.3 803.9h.9M284.2 801.3h.9M310.0 808.9h.9M313.7 784.8h.9M339.5 771.6h.9M317.9 783.2h.9M332.6 771.6h.9M323.8 781.7h.9M292.2 811.2h.9M289.6 774.9h.9M326.4 778.4h.9M295.4 814.7h.9M317.5 810.4h.9M318.0 813.8h.9M294.9 775.9h.9M333.1 786.0h.9M290.7 806.1h.9M294.1 806.3h.9M304.7 818.6h.9M307.2 772.0h.9M297.4 819.2h.9M293.1 776.8h.9M295.5 809.7h.9M309.2 799.6h.9M288.2 809.9h.9M313.3 788.9h.9M293.1 806.8h.9M318.3 817.4h.9M289.0 794.7h.9M293.7 811.4h.9M327.3 784.7h.9M308.4 814.5h.9M330.3 785.6h.9M329.7 810.9h.9M317.8 784.3h.9M317.2 794.1h.9M333.2 813.0h.9M318.3 803.9h.9M301.5 820.0h.9M282.9 818.4h.9M312.1 792.0h.9M314.0 801.1h.9M319.6 786.7h.9M319.3 815.5h.9M311.4 794.9h.9M307.5 820.5h.9M282.9 819.5h.9M341.4 773.3h.9M286.0 774.5h.9M292.4 777.6h.9M335.0 816.1h.9M284.5 773.8h.9M291.0 787.3h.9M315.5 802.2h.9M326.0 776.6h.9M289.2 786.9h.9M328.0 818.8h.9M304.2 778.1h.9M283.6 785.0h.9M284.4 812.6h.9M305.4 802.2h.9M324.2 776.9h.9M324.4 783.2h.9M309.3 799.2h.9M288.5 798.5h.9M309.3 788.8h.9M325.7 776.6h.9M306.0 787.4h.9M299.7 784.9h.9M300.6 803.2h.9M322.0 779.2h.9M315.1 816.8h.9M290.0 776.2h.9M286.9 804.5h.9M353.0 771.1h.9M283.5 798.1h.9M310.1 789.9h.9M284.8 817.4h.9M285.4 798.0h.9M330.4 819.8h.9M293.7 773.8h.9M315.1 778.2h.9M292.8 818.7h.9M291.8 797.9h.9M315.7 813.3h.9M317.0 777.8h.9M288.4 803.1h.9M291.0 797.1h.9M297.5 790.5h.9M299.4 795.3h.9M317.1 770.9h.9M296.4 785.3h.9M309.6 788.4h.9M322.1 808.4h.9M292.5 784.6h.9M312.9 814.7h.9M330.5 809.0h.9M310.9 780.2h.9M318.3 798.1h.9M288.9 818.6h.9M290.4 772.2h.9M284.7 774.4h.9M315.5 772.5h.9M312.3 815.0h.9M338.3 775.6h.9M303.6 820.6h.9M330.6 817.1h.9M330.9 816.5h.9M323.1 787.6h.9M317.0 786.9h.9M324.2 816.0h.9M319.1 818.8h.9M293.5 792.8h.9M325.7 816.0h.9M287.3 782.5h.9M337.8 777.6h.9M334.9 770.7h.9M290.8 794.2h.9M329.2 769.9h.9M312.7 806.1h.9M324.9 790.8h.9M287.2 813.7h.9M329.0 810.0h.9M294.0 815.3h.9M298.4 783.9h.9M297.8 820.1h.9M297.9 808.6h.9M339.1 808.1h.9M315.0 776.0h.9M320.6 777.4h.9M310.5 820.4h.9M297.0 796.3h.9M309.9 805.1h.9M286.0 808.6h.9M296.8 789.4h.9M300.0 801.8h.9M315.7 778.4h.9M307.4 782.9h.9M342.8 808.5h.9M285.8 816.0h.9M306.5 811.9h.9M282.8 812.0h.9M315.9 803.7h.9M315.3 780.6h.9M293.9 787.6h.9M303.6 770.0h.9M314.8 791.5h.9M311.9 799.3h.9M299.0 789.7h.9M304.3 771.6h.9M287.9 802.0h.9M306.9 783.3h.9M284.1 785.9h.9M293.8 816.2h.9M342.0 814.2h.9M332.5 781.5h.9M296.4 813.8h.9M321.6 809.0h.9M306.2 801.8h.9M335.7 772.0h.9M317.6 806.5h.9M284.6 785.4h.9M318.8 770.0h.9M313.9 797.9h.9M317.8 790.2h.9M298.2 807.8h.9M284.5 810.7h.9M332.1 815.1h.9M335.5 783.4h.9M312.4 775.9h.9M325.2 784.3h.9M328.6 810.6h.9M286.1 807.9h.9M322.2 779.2h.9M284.6 810.9h.9M321.3 772.7h.9M294.8 817.2h.9M346.0 776.6h.9M308.7 799.6h.9M343.3 778.2h.9M326.2 786.3h.9M318.2 806.2h.9M293.1 781.4h.9M310.3 795.2h.9M337.4 818.1h.9M310.7 820.5h.9M321.5 818.0h.9M301.8 782.2h.9M326.8 812.9h.9M307.1 795.4h.9M285.6 813.3h.9M308.2 796.8h.9M298.3 776.3h.9M324.1 789.0h.9M334.2 782.9h.9M292.5 810.9h.9M340.0 812.1h.9M291.9 770.1h.9M308.3 815.6h.9M303.4 798.5h.9M319.9 806.9h.9M297.1 777.0h.9M292.5 790.3h.9M298.3 802.9h.9M306.8 806.9h.9M336.3 810.9h.9M293.8 799.0h.9M320.9 811.7h.9M303.9 818.9h.9M321.8 811.2h.9M329.7 770.9h.9M287.8 776.6h.9M282.6 788.4h.9M336.2 820.8h.9M288.1 775.3h.9M312.0 779.4h.9M305.1 774.1h.9M311.9 798.5h.9M293.6 774.9h.9M293.7 807.8h.9M289.4 803.9h.9M309.5 787.3h.9M285.5 817.4h.9M320.6 791.4h.9M335.1 784.4h.9M285.5 803.3h.9M321.4 790.2h.9M309.8 776.0h.9M304.2 784.7h.9M288.5 806.3h.9M320.3 819.2h.9M303.8 811.9h.9M283.6 782.8h.9M318.1 817.6h.9M302.4 810.6h.9M298.0 775.5h.9M296.6 771.9h.9M334.7 815.0h.9M295.6 771.9h.9M284.0 815.8h.9M331.4 810.3h.9M306.3 808.9h.9M287.2 794.7h.9M312.6 815.8h.9M296.1 807.4h.9M301.5 799.7h.9M296.8 808.4h.9M293.4 775.1h.9M330.0 775.6h.9M303.5 777.1h.9M294.9 781.9h.9M299.4 800.1h.9M305.9 806.8h.9M295.1 807.8h.9M323.7 778.8h.9M297.7 776.2h.9M301.8 801.7h.9M307.8 777.4h.9M294.8 773.2h.9M293.7 807.8h.9M287.0 806.2h.9M302.2 817.1h.9M328.7 786.2h.9M323.1 780.8h.9M294.3 816.1h.9M292.5 787.4h.9M288.9 799.3h.9M301.0 811.5h.9M303.0 817.3h.9M308.9 793.2h.9M324.1 789.8h.9M290.7 809.7h.9M297.6 813.4h.9M306.1 808.8h.9M313.0 771.8h.9M286.9 769.7h.9M304.8 788.0h.9M318.2 791.0h.9M291.4 785.8h.9M285.8 781.5h.9M293.3 816.0h.9M302.9 814.0h.9M290.3 816.4h.9M302.4 792.1h.9M306.4 800.7h.9M294.9 816.4h.9M299.2 769.6h.9M301.8 799.4h.9M300.5 774.0h.9M312.8 770.8h.9M309.5 812.3h.9M323.6 791.0h.9M313.3 814.0h.9M315.1 810.8h.9M303.4 808.2h.9M312.6 820.0h.9M317.5 813.2h.9M311.9 778.6h.9M285.9 774.9h.9M316.0 818.9h.9M345.1 813.0h.9M287.1 771.5h.9M284.6 789.1h.9M292.7 812.8h.9M300.1 780.1h.9M283.2 769.7h.9M324.8 815.1h.9M283.4 770.8h.9M290.4 796.0h.9M296.0 790.1h.9M284.7 787.5h.9M292.5 800.3h.9M300.4 807.4h.9M306.9 814.3h.9M314.2 819.0h.9M310.8 794.3h.9M306.4 807.0h.9M329.0 786.7h.9M330.6 771.6h.9M293.9 809.4h.9M284.9 774.0h.9M309.8 811.6h.9M318.4 817.2h.9M324.3 775.3h.9M290.8 795.9h.9M298.0 785.7h.9M312.3 793.1h.9M321.8 787.6h.9M287.5 819.1h.9M317.8 814.0h.9M285.8 780.8h.9M284.7 792.3h.9M288.5 809.2h.9M345.1 816.5h.9M283.6 799.6h.9M339.3 777.0h.9M289.9 782.7h.9M306.9 777.7h.9M310.6 791.7h.9M287.9 802.3h.9M348.3 776.5h.9M299.2 772.5h.9M313.6 808.6h.9M327.2 783.4h.9M292.3 771.0h.9M301.5 811.7h.9M284.3 802.4h.9M309.1 781.5h.9M286.7 814.9h.9M285.1 783.3h.9M294.1 799.9h.9M297.5 805.8h.9M302.6 783.3h.9M334.7 783.6h.9M321.9 786.8h.9M307.0 788.0h.9M329.2 817.1h.9M299.4 796.2h.9M314.4 801.4h.9M282.3 815.4h.9M292.4 783.7h.9M284.6 805.1h.9M320.2 780.2h.9M295.1 793.7h.9M317.5 801.2h.9M313.4 790.1h.9M318.7 806.6h.9M302.5 801.2h.9M335.3 813.4h.9M340.4 819.5h.9M292.7 820.4h.9M329.4 813.1h.9M325.1 819.2h.9M286.2 775.3h.9M316.7 815.5h.9M321.0 794.7h.9M295.4 785.7h.9M301.7 784.6h.9M284.4 815.1h.9M294.4 777.5h.9M292.3 814.2h.9M301.4 812.2h.9M321.3 817.4h.9M314.2 784.7h.9M304.4 788.2h.9M334.2 813.0h.9M318.0 804.3h.9M320.3 806.3h.9M288.1 815.9h.9M315.3 798.8h.9M301.4 807.8h.9M306.7 812.6h.9M282.9 813.2h.9M285.1 815.3h.9M319.5 788.3h.9M318.5 811.2h.9M293.5 819.3h.9M314.4 790.6h.9M324.0 775.4h.9M319.1 777.1h.9M333.4 809.4h.9M313.1 783.5h.9M293.3 774.7h.9M295.8 816.4h.9M288.2 815.4h.9M332.7 770.0h.9M289.8 779.9h.9M349.5 773.8h.9M295.6 806.3h.9M307.4 787.7h.9M314.3 796.7h.9M297.2 797.2h.9M316.2 799.9h.9M305.0 800.4h.9M288.4 805.9h.9M282.9 819.7h.9M295.2 804.7h.9M288.7 771.7h.9M339.5 776.8h.9M306.4 784.6h.9M324.2 787.6h.9M303.8 797.3h.9M337.8 813.9h.9M319.3 788.1h.9M307.9 806.5h.9M318.1 778.5h.9M302.3 788.8h.9M311.4 802.5h.9M329.3 778.7h.9M314.9 819.7h.9M298.0 790.2h.9M304.7 804.6h.9M299.6 780.7h.9M305.0 803.5h.9M331.9 785.4h.9M285.0 784.9h.9M336.2 813.4h.9M310.2 783.0h.9M331.3 779.2h.9M300.9 796.0h.9M311.9 782.6h.9M309.8 819.4h.9M291.9 785.8h.9M301.7 801.2h.9M322.9 784.9h.9M295.0 776.2h.9M327.3 816.2h.9M319.8 819.5h.9M339.1 773.8h.9M334.1 819.8h.9M293.3 780.4h.9M330.5 772.9h.9M305.5 797.4h.9M295.3 810.1h.9M313.6 807.3h.9M296.8 818.1h.9M305.8 800.6h.9M309.8 797.1h.9M331.1 770.1h.9M300.5 784.8h.9M284.1 780.7h.9M316.5 809.1h.9M288.8 793.8h.9M283.2 797.7h.9M334.4 814.2h.9M315.9 798.5h.9M301.5 789.2h.9M301.6 785.1h.9M286.1 819.8h.9M318.1 792.9h.9M315.6 778.3h.9M313.2 770.1h.9M308.0 792.4h.9M322.5 819.7h.9M297.9 813.7h.9M337.6 819.5h.9M305.4 814.0h.9M316.9 788.5h.9M319.3 799.2h.9M297.7 775.5h.9M325.1 784.1h.9M302.0 803.5h.9M315.7 784.6h.9M324.8 813.4h.9M316.6 777.0h.9M294.6 796.5h.9M303.9 809.3h.9M294.7 814.2h.9M312.7 772.4h.9M336.0 819.2h.9M292.5 798.4h.9M302.8 818.2h.9M313.4 816.7h.9M294.9 788.7h.9M315.1 820.4h.9M289.2 809.7h.9M336.0 809.3h.9M322.1 771.5h.9M290.5 775.0h.9M304.5 782.5h.9M308.5 805.8h.9M327.5 770.0h.9M293.7 802.0h.9M337.5 782.7h.9M282.3 773.2h.9M294.2 784.1h.9M312.4 803.9h.9M322.0 792.5h.9M284.8 801.2h.9M300.6 800.6h.9M311.6 814.8h.9M297.2 807.7h.9M307.5 781.6h.9M298.8 775.5h.9M309.3 803.6h.9M297.9 786.4h.9M290.7 797.3h.9M342.3 776.9h.9M296.0 783.7h.9M298.5 808.1h.9M292.6 805.1h.9M285.0 818.9h.9M283.6 813.8h.9M287.8 805.7h.9M330.6 772.0h.9M300.9 812.4h.9M286.7 786.2h.9M305.0 803.0h.9M319.4 791.5h.9M298.9 788.3h.9M301.1 808.1h.9M320.2 772.0h.9M309.9 794.8h.9M309.7 786.4h.9M283.3 788.4h.9M317.9 785.3h.9M312.3 807.9h.9M310.2 820.4h.9M308.2 807.2h.9M306.7 781.2h.9M290.4 783.9h.9M338.3 771.3h.9M320.2 802.2h.9M311.3 796.7h.9M318.4 813.8h.9M324.4 791.0h.9M300.8 799.3h.9M312.6 816.5h.9M305.3 809.3h.9M305.5 802.8h.9M287.1 799.9h.9M291.1 769.8h.9M303.7 778.3h.9M339.6 781.6h.9M286.7 809.1h.9M317.2 782.8h.9M291.6 770.3h.9M308.7 775.3h.9M305.2 773.3h.9M305.1 791.5h.9M331.1 778.9h.9M328.9 776.4h.9M313.8 807.6h.9M328.6 775.2h.9M287.2 785.5h.9M302.1 805.7h.9M285.0 795.3h.9M312.0 776.2h.9M301.9 770.6h.9M328.3 787.9h.9M283.0 813.2h.9M290.4 800.5h.9M306.3 813.5h.9M321.2 803.0h.9M329.2 819.2h.9M297.2 808.1h.9M322.5 779.5h.9M287.5 770.5h.9M313.1 812.2h.9M306.5 801.4h.9M324.9 812.3h.9M300.8 784.7h.9M296.3 815.3h.9M297.8 772.9h.9M307.7 780.7h.9M306.9 815.7h.9M308.4 810.3h.9M313.1 784.0h.9M311.1 820.6h.9M301.1 770.4h.9M324.3 778.5h.9M298.0 808.0h.9M304.8 815.2h.9M293.2 801.3h.9M329.5 782.6h.9M342.9 810.0h.9M322.4 776.9h.9M288.2 770.8h.9M286.3 806.4h.9M326.7 820.3h.9M289.5 801.1h.9M303.5 770.0h.9M307.6 780.0h.9M299.6 817.8h.9M309.6 781.0h.9M340.6 779.9h.9M295.8 819.4h.9M307.8 773.3h.9M284.8 799.3h.9M284.9 774.4h.9M312.9 815.8h.9M301.1 793.0h.9M312.6 786.7h.9M312.5 818.2h.9M295.8 816.6h.9M325.8 780.6h.9M282.4 788.6h.9M282.7 780.3h.9M319.9 805.8h.9M332.3 774.5h.9M311.0 792.7h.9M282.5 794.7h.9M294.6 820.1h.9M313.1 786.0h.9M336.1 815.1h.9M342.5 810.8h.9M301.9 777.1h.9M315.4 817.4h.9M289.8 783.7h.9M309.8 819.8h.9M286.2 796.9h.9M289.6 813.4h.9M317.3 806.6h.9M282.8 786.7h.9M311.7 804.7h.9M328.7 769.5h.9M311.0 819.2h.9M318.1 801.0h.9M321.6 783.0h.9M313.5 796.2h.9M300.6 814.0h.9M310.8 793.3h.9M328.1 815.6h.9M293.8 811.7h.9M316.1 799.1h.9M311.6 813.2h.9M322.4 775.8h.9M283.2 805.5h.9M295.9 807.9h.9M290.9 798.2h.9M334.4 774.3h.9M311.1 797.2h.9M318.3 774.4h.9M314.8 814.2h.9M311.8 820.0h.9M285.4 776.9h.9M301.7 816.5h.9M282.4 786.4h.9M346.4 773.5h.9M307.4 786.3h.9M287.7 787.4h.9M342.2 809.7h.9M321.6 785.3h.9M309.4 773.0h.9M327.6 782.4h.9M311.4 788.3h.9M282.4 800.1h.9M286.7 777.3h.9M318.8 793.1h.9M321.6 773.8h.9M320.8 808.7h.9M342.8 818.3h.9M292.7 791.1h.9M294.6 774.5h.9M327.7 810.0h.9M314.4 791.4h.9M310.0 788.1h.9M287.2 790.2h.9M338.4 777.4h.9M337.3 772.2h.9M300.5 798.6h.9M288.2 780.4h.9M282.4 785.5h.9M286.2 804.0h.9M341.3 809.1h.9M300.4 794.8h.9M289.0 795.4h.9M322.8 814.2h.9M329.5 819.5h.9M296.4 815.8h.9M294.8 785.7h.9M308.0 816.6h.9M319.0 801.7h.9M308.4 780.9h.9M307.8 817.6h.9M310.5 816.0h.9M282.5 808.3h.9M293.0 807.4h.9M318.5 793.8h.9M314.4 781.7h.9M289.6 817.7h.9M312.5 778.1h.9M312.2 813.1h.9M282.9 779.1h.9M315.3 794.8h.9M316.1 802.0h.9M326.8 784.2h.9M318.7 802.1h.9M293.7 771.6h.9M340.2 809.9h.9M310.0 798.2h.9M310.6 801.6h.9M291.1 773.5h.9M319.1 780.4h.9M292.7 800.2h.9M310.1 786.5h.9M285.1 820.5h.9M303.3 797.2h.9M315.8 777.4h.9M302.9 801.8h.9M283.2 803.3h.9M296.0 816.3h.9M323.6 811.8h.9M320.9 780.8h.9M320.0 774.5h.9M283.3 777.9h.9M287.1 789.4h.9M312.4 798.3h.9M306.3 777.8h.9M323.3 789.9h.9M314.7 806.9h.9M290.7 814.9h.9M296.3 783.6h.9M316.7 812.5h.9M288.4 792.7h.9M317.8 798.2h.9M287.0 807.9h.9M297.0 790.9h.9M293.0 775.9h.9M291.0 769.6h.9M344.8 773.0h.9M303.1 812.7h.9M307.2 817.6h.9M324.7 781.3h.9M327.0 807.8h.9M312.1 789.2h.9M296.4 784.7h.9M295.0 808.0h.9M296.9 814.6h.9M284.1 779.0h.9M323.6 815.2h.9M328.5 809.2h.9M306.5 814.9h.9M304.1 810.3h.9M285.6 770.7h.9M289.8 811.3h.9M320.6 800.9h.9M289.3 812.0h.9M291.0 770.1h.9M340.6 812.7h.9M315.5 812.2h.9M306.1 794.6h.9M285.6 794.9h.9M289.7 779.8h.9M320.0 776.1h.9M291.0 815.9h.9M313.8 772.7h.9M303.0 817.7h.9M299.2 813.3h.9M315.6 790.8h.9M293.7 808.5h.9M326.5 784.7h.9M342.8 777.7h.9M308.3 810.0h.9M310.4 784.3h.9M335.2 820.8h.9M297.4 810.6h.9M319.7 790.1h.9M301.8 798.8h.9M299.8 817.7h.9M295.0 771.2h.9M286.6 812.8h.9M315.9 798.9h.9M303.5 788.0h.9M286.7 796.6h.9M320.5 794.8h.9M294.0 792.0h.9M313.9 807.4h.9M307.4 769.7h.9M307.6 797.7h.9M318.4 790.4h.9M316.7 814.1h.9M322.1 791.1h.9M314.4 794.6h.9M306.6 798.4h.9M307.4 798.1h.9M305.4 811.3h.9M304.3 771.3h.9M288.7 773.6h.9M289.6 796.3h.9M343.1 818.0h.9M313.1 802.9h.9M285.6 770.3h.9M320.0 776.7h.9M284.4 813.7h.9M319.4 789.5h.9M322.8 782.0h.9M308.0 785.7h.9M309.1 780.6h.9M289.0 796.8h.9M296.3 783.4h.9M319.3 803.1h.9M313.2 809.9h.9M312.7 810.6h.9M303.6 819.4h.9M309.9 785.5h.9M305.9 790.6h.9M309.3 807.4h.9M314.2 813.3h.9M317.9 800.9h.9M316.0 786.5h.9M326.4 817.9h.9M309.5 812.1h.9M293.2 817.6h.9M305.4 783.8h.9M341.7 811.7h.9M324.2 783.0h.9M284.3 793.8h.9M318.5 816.6h.9M321.2 812.3h.9M296.7 816.1h.9M300.3 820.3h.9M299.8 789.1h.9M322.9 770.0h.9M289.0 814.6h.9M333.7 784.5h.9M340.7 816.8h.9M293.7 787.4h.9M318.3 781.6h.9M316.3 784.7h.9M306.2 814.2h.9M304.9 783.1h.9M294.0 771.2h.9M309.2 775.9h.9M295.8 792.8h.9M306.2 781.7h.9M290.2 775.3h.9M292.9 820.7h.9M283.5 817.5h.9M282.5 785.3h.9M317.1 815.7h.9M302.3 776.4h.9M293.1 801.0h.9M318.0 819.4h.9M310.9 797.8h.9M317.0 788.2h.9M310.0 819.8h.9M324.9 790.8h.9M299.6 787.6h.9M311.2 795.8h.9M302.4 807.8h.9M318.1 783.2h.9M289.5 782.9h.9M294.7 776.6h.9M320.1 790.0h.9M296.5 772.7h.9M296.1 811.4h.9M307.5 810.7h.9M323.0 788.5h.9M282.5 789.6h.9M300.0 776.5h.9M301.1 773.8h.9M321.0 791.3h.9M291.7 803.1h.9M290.4 796.4h.9M286.0 772.1h.9M320.0 811.4h.9M305.8 774.6h.9M293.4 793.6h.9M311.3 817.6h.9M294.3 800.2h.9M308.0 810.6h.9M322.1 786.8h.9M320.0 814.0h.9M316.2 770.7h.9M293.9 772.3h.9M288.6 818.8h.9M319.6 774.2h.9M302.4 793.8h.9M290.8 820.8h.9M285.6 776.3h.9M329.5 787.3h.9M305.8 797.8h.9M284.0 772.3h.9M319.5 783.3h.9M309.6 794.8h.9M307.5 816.5h.9M285.5 814.9h.9M324.4 811.9h.9M291.0 798.4h.9M305.0 771.6h.9M341.9 810.6h.9M290.0 777.7h.9M328.8 773.5h.9M304.1 819.3h.9M283.1 789.6h.9M284.9 816.1h.9M329.3 779.2h.9M290.8 791.5h.9M339.4 810.2h.9M303.6 786.1h.9M311.4 770.0h.9M322.8 785.1h.9M342.8 807.7h.9M290.5 809.5h.9M313.6 786.7h.9M287.4 798.4h.9M303.8 788.9h.9M301.2 787.0h.9M284.8 776.2h.9M308.4 774.4h.9M306.4 773.6h.9M319.1 777.7h.9M330.2 816.4h.9M327.9 807.8h.9M297.9 814.7h.9M319.0 780.2h.9M300.4 811.3h.9M283.5 783.1h.9M307.5 812.8h.9M297.2 793.2h.9M333.5 782.6h.9M313.3 792.1h.9M313.7 792.7h.9M305.4 792.8h.9M326.2 782.0h.9M293.0 805.8h.9M301.3 778.1h.9M318.0 799.4h.9M338.8 808.8h.9M286.8 818.8h.9M327.8 769.7h.9M306.6 805.1h.9M284.7 784.3h.9M332.7 777.7h.9M297.0 814.3h.9M310.4 779.7h.9M300.5 777.3h.9M325.2 784.4h.9M316.9 775.6h.9M299.3 798.0h.9M323.2 820.5h.9M301.3 808.4h.9M337.8 782.3h.9M283.6 815.2h.9M292.3 818.4h.9M286.1 789.2h.9M300.8 809.2h.9M351.3 771.6h.9M314.4 783.0h.9M328.4 779.7h.9M310.2 798.1h.9M285.1 786.1h.9M324.4 778.3h.9M288.1 787.6h.9M332.9 779.5h.9M294.8 803.9h.9M310.8 789.8h.9M323.1 779.1h.9M315.1 816.8h.9M316.5 802.9h.9M317.1 798.8h.9M335.9 811.7h.9M312.7 801.1h.9M294.9 808.1h.9M316.3 818.4h.9M288.0 787.1h.9M309.2 782.8h.9M344.7 777.9h.9M315.4 816.1h.9M299.2 805.7h.9M304.1 770.5h.9M302.2 793.2h.9M285.5 785.1h.9M344.6 815.1h.9M306.4 810.9h.9M349.7 770.2h.9M326.3 779.4h.9M322.2 780.0h.9M307.1 815.0h.9M288.2 786.7h.9M286.8 808.9h.9M327.3 809.6h.9M285.4 794.8h.9M339.1 815.0h.9M298.3 803.5h.9M321.0 806.8h.9M313.0 813.8h.9M329.5 813.9h.9M293.1 793.3h.9M290.1 783.0h.9M316.1 816.9h.9M301.2 796.5h.9M303.3 796.4h.9M283.1 809.3h.9M315.8 812.6h.9M298.3 771.4h.9M328.1 815.2h.9M299.7 787.7h.9M328.6 775.0h.9M305.5 805.5h.9M296.3 770.0h.9M321.1 798.1h.9M286.5 771.5h.9M288.7 811.7h.9M323.2 815.2h.9M312.1 797.3h.9M310.2 820.6h.9M326.7 775.3h.9M313.3 813.7h.9M339.1 808.9h.9M290.8 781.5h.9M349.5 774.4h.9M312.9 775.2h.9M289.2 772.0h.9M329.1 771.9h.9M306.4 813.8h.9M283.4 805.6h.9M316.5 817.4h.9M333.4 777.7h.9M329.4 782.8h.9M329.7 786.8h.9M285.1 780.1h.9M299.6 779.1h.9M284.6 819.4h.9M312.3 771.2h.9M301.3 772.8h.9M329.7 774.3h.9M344.6 819.1h.9M310.3 810.7h.9M319.6 814.4h.9M334.7 781.0h.9M336.5 770.3h.9M316.0 772.7h.9M305.7 780.7h.9M337.9 809.5h.9M286.4 819.3h.9M319.9 780.2h.9M289.2 802.3h.9M283.7 811.5h.9M284.3 801.9h.9M285.9 779.9h.9M313.5 774.5h.9M342.4 807.7h.9M328.4 820.6h.9M300.4 799.9h.9M282.5 807.6h.9M320.5 784.4h.9M296.7 778.6h.9M315.6 770.8h.9M294.8 774.5h.9M284.8 795.7h.9M306.2 819.0h.9M317.3 816.6h.9M294.8 789.8h.9M302.8 781.5h.9M283.9 811.5h.9M303.4 809.1h.9M298.3 781.8h.9M300.6 800.9h.9M310.5 774.3h.9M309.2 812.7h.9M309.0 780.9h.9M296.3 782.5h.9M293.3 820.0h.9M295.2 794.8h.9M282.4 781.4h.9M294.4 788.9h.9M335.7 814.0h.9M283.9 797.4h.9M282.4 773.1h.9M323.5 790.9h.9M314.1 820.8h.9M296.2 788.4h.9M284.6 808.3h.9M293.1 810.0h.9M326.5 816.0h.9M313.3 773.0h.9M292.4 789.4h.9M304.2 820.4h.9M311.3 772.1h.9M306.3 816.7h.9M308.8 777.8h.9M300.8 808.5h.9M333.0 777.3h.9M286.2 806.1h.9M291.9 806.3h.9M296.1 781.5h.9M331.9 780.1h.9M311.6 804.3h.9M316.2 797.5h.9M321.2 794.1h.9M325.4 791.0h.9M351.3 775.1h.9M322.6 792.9h.9M339.0 781.7h.9M340.3 780.5h.9M333.9 785.0h.9M359.5 770.5h.9M345.2 777.4h.9M338.4 784.2h.9M325.1 790.5h.9M322.8 792.4h.9M359.0 770.4h.9M339.2 782.7h.9M351.3 775.1h.9M359.7 770.3h.9M361.7 769.2h.9M348.5 774.6h.9M355.9 770.8h.9M343.6 778.6h.9M337.4 783.6h.9M356.8 772.0h.9M341.3 780.3h.9M336.1 783.4h.9M327.9 787.1h.9M322.1 793.9h.9M324.3 791.6h.9M334.8 784.4h.9M340.3 782.8h.9M356.2 772.5h.9M326.5 789.4h.9M350.6 774.1h.9M350.6 775.5h.9M327.0 790.0h.9M356.8 770.3h.9M349.4 775.1h.9M348.6 776.5h.9M358.4 770.8h.9M355.2 771.4h.9M322.3 793.3h.9M355.5 771.5h.9M340.8 781.7h.9M330.8 788.6h.9M358.7 769.0h.9M326.5 791.0h.9M326.7 789.8h.9M334.3 786.1h.9M332.5 787.0h.9M333.2 787.5h.9M358.6 770.9h.9M321.2 793.6h.9M354.3 772.7h.9M340.7 780.2h.9M325.9 790.8h.9M352.3 772.6h.9M331.0 787.7h.9M348.6 775.3h.9M328.2 789.8h.9M357.0 771.7h.9M322.1 791.4h.9M334.2 785.5h.9M349.7 775.8h.9M332.0 786.0h.9M330.0 789.0h.9M334.6 784.8h.9M347.4 776.4h.9M344.3 778.6h.9M337.1 782.1h.9M320.6 793.8h.9M354.2 774.3h.9M320.3 793.8h.9M350.1 775.7h.9M337.5 782.2h.9M353.7 771.9h.9M351.4 774.1h.9M351.5 775.2h.9M337.8 783.0h.9M346.2 777.3h.9M347.9 777.9h.9M324.3 792.3h.9M337.4 783.0h.9M338.3 781.1h.9M332.9 786.6h.9M361.0 768.9h.9M350.7 773.6h.9M352.9 774.4h.9M335.9 783.7h.9M331.5 788.1h.9M337.9 783.6h.9M350.8 776.9h.9M348.8 776.5h.9M358.2 769.8h.9M337.8 782.1h.9M349.2 776.2h.9M349.0 775.7h.9M340.5 781.4h.9M352.6 772.8h.9M344.2 779.0h.9M332.6 787.0h.9M333.7 784.8h.9M344.6 779.7h.9M348.1 776.9h.9M323.2 792.1h.9M353.3 773.6h.9M354.8 771.6h.9M328.8 789.9h.9M338.8 782.2h.9M354.5 772.8h.9M350.3 776.6h.9M336.2 784.4h.9M357.6 770.7h.9M340.7 782.1h.9M326.3 790.6h.9M324.3 791.2h.9M323.1 789.7h.9M341.3 782.1h.9M335.6 784.7h.9M344.5 777.1h.9M356.6 770.4h.9M336.2 785.9h.9" stroke="#fff" stroke-width="0.9" opacity="0.34" fill="none"/>
<path d="M312.5 796.1h.9M305.6 797.9h.9M297.1 805.8h.9M301.0 805.6h.9M307.1 800.6h.9M295.3 806.5h.9M311.0 801.7h.9M330.6 787.0h.9M315.2 795.2h.9M298.0 801.7h.9M301.9 808.9h.9M313.7 794.4h.9M318.7 795.2h.9M312.9 806.2h.9M314.2 794.7h.9M309.6 798.8h.9M307.5 803.3h.9M322.3 797.8h.9M308.4 801.2h.9M319.5 788.8h.9M302.6 808.0h.9M317.4 800.8h.9M309.7 802.7h.9M299.0 804.6h.9M317.6 798.6h.9M312.6 798.3h.9M306.3 808.2h.9M303.6 802.3h.9M299.5 808.3h.9M304.8 804.7h.9M308.5 806.6h.9M315.1 800.3h.9M306.0 800.7h.9M309.0 800.6h.9M306.1 805.2h.9M312.3 801.9h.9M305.4 803.6h.9M309.3 803.9h.9M313.0 797.4h.9M308.0 796.2h.9M310.4 798.1h.9M309.2 800.6h.9M314.6 798.1h.9M314.9 798.4h.9M317.8 800.4h.9M313.1 795.9h.9M307.1 803.1h.9M309.3 805.9h.9M316.6 795.2h.9M303.3 802.0h.9M314.3 803.2h.9M325.1 793.1h.9M309.4 799.2h.9M313.1 802.6h.9M321.5 800.8h.9M298.3 804.6h.9M307.6 801.5h.9M312.4 803.0h.9M306.0 802.1h.9M312.3 795.1h.9M324.0 788.8h.9M308.6 803.6h.9M316.8 797.7h.9M319.3 799.0h.9M306.0 806.7h.9M315.4 796.1h.9M302.5 802.9h.9M309.7 802.4h.9M314.8 792.2h.9M315.9 798.1h.9M317.1 800.0h.9M306.1 798.7h.9M316.5 799.1h.9M308.3 797.1h.9M314.5 796.1h.9M314.0 800.9h.9M317.4 795.1h.9M305.8 802.2h.9M319.6 796.9h.9M314.1 796.7h.9M318.8 799.4h.9M317.9 798.3h.9M311.0 802.3h.9M310.4 803.3h.9M306.5 799.1h.9M315.5 799.0h.9M305.7 797.1h.9M307.9 801.1h.9M304.7 809.7h.9M313.1 803.7h.9M312.2 800.0h.9M308.4 802.0h.9M301.5 804.3h.9M315.4 802.1h.9M319.5 801.2h.9M309.9 795.4h.9M313.7 793.1h.9M316.4 795.4h.9M309.7 800.8h.9M303.2 803.3h.9M302.3 806.5h.9M308.5 802.9h.9M297.9 808.4h.9M313.5 797.4h.9M314.8 801.5h.9M306.9 797.0h.9M312.7 796.4h.9M318.7 791.6h.9M311.1 803.7h.9M309.5 800.1h.9M298.9 804.7h.9M305.4 797.5h.9M314.0 801.5h.9M310.1 803.4h.9M306.3 797.7h.9M302.2 802.7h.9M305.7 807.4h.9M309.7 805.3h.9M303.3 803.2h.9M298.7 803.1h.9M303.9 803.8h.9M321.3 795.9h.9M307.9 802.2h.9M308.6 806.5h.9M310.4 808.4h.9M311.3 797.9h.9M301.4 803.1h.9M309.8 799.6h.9M309.1 804.2h.9M322.3 799.8h.9M315.3 789.8h.9M304.2 807.1h.9M316.0 804.7h.9M312.2 796.6h.9M315.2 801.4h.9M305.5 800.8h.9M321.2 796.1h.9M311.3 801.1h.9M304.0 801.1h.9M311.7 799.2h.9M308.5 802.7h.9M312.9 797.7h.9M307.2 801.2h.9M314.6 800.4h.9M311.8 805.5h.9M303.1 805.2h.9M317.8 804.0h.9M321.2 798.8h.9M308.6 801.0h.9M313.4 799.6h.9M301.7 806.4h.9M317.5 795.3h.9M310.0 802.9h.9M306.8 806.1h.9M308.5 809.2h.9M317.6 793.5h.9M323.4 796.1h.9M305.7 800.4h.9M330.9 797.9h.9M317.1 791.8h.9M313.5 801.0h.9M308.1 797.1h.9M320.8 794.3h.9M307.8 811.7h.9M303.2 805.3h.9M308.5 802.1h.9M314.7 795.9h.9M315.6 799.1h.9M310.1 805.1h.9M305.4 801.5h.9M315.0 798.4h.9M306.9 801.8h.9M314.5 804.6h.9M309.3 804.1h.9M293.6 808.2h.9M309.3 795.7h.9M300.7 807.2h.9M299.1 799.0h.9M319.3 796.2h.9M307.2 803.0h.9M310.8 802.6h.9M306.4 797.4h.9M304.4 807.3h.9M321.9 793.4h.9M304.4 806.4h.9M307.8 800.9h.9M319.6 797.7h.9M307.5 799.4h.9M308.4 800.3h.9M311.2 797.7h.9M307.7 803.3h.9M311.6 795.8h.9M313.3 805.5h.9M303.9 802.4h.9M310.9 802.0h.9M311.0 794.6h.9M329.0 799.9h.9M309.6 803.3h.9M312.4 800.7h.9M305.4 804.5h.9M299.2 809.4h.9M302.3 803.4h.9M303.2 809.9h.9M308.6 805.4h.9M311.7 799.5h.9M309.1 798.7h.9M305.8 797.8h.9M304.8 797.5h.9M313.8 796.0h.9M296.2 811.0h.9M303.4 802.2h.9M309.3 804.7h.9M320.9 795.6h.9M309.0 804.1h.9M309.1 796.8h.9M294.5 804.5h.9M317.3 794.2h.9M303.9 800.6h.9M320.7 797.5h.9M316.4 790.3h.9M316.0 797.5h.9M309.7 798.3h.9M312.0 803.0h.9M310.2 802.3h.9M305.7 803.3h.9M306.1 801.5h.9M317.9 801.0h.9M324.9 790.6h.9M298.9 808.6h.9M311.7 795.2h.9M311.3 797.8h.9M325.6 792.5h.9M316.5 798.6h.9M325.9 789.1h.9M320.3 789.5h.9M316.0 799.0h.9M318.0 796.1h.9M320.7 798.9h.9M295.9 808.5h.9M311.0 798.0h.9M305.7 807.8h.9M307.2 804.4h.9M331.3 786.3h.9M311.8 796.5h.9M314.6 796.3h.9M314.7 802.0h.9M304.7 802.7h.9M318.8 793.4h.9M310.4 805.4h.9M307.0 802.3h.9M313.4 798.7h.9M308.3 806.8h.9M316.4 795.7h.9M317.2 796.4h.9M318.8 795.6h.9M314.4 805.8h.9M305.2 805.8h.9M313.6 805.2h.9M308.8 803.9h.9M307.9 803.7h.9M315.3 796.8h.9M322.4 795.3h.9M302.7 808.5h.9M311.2 797.2h.9M303.1 802.8h.9M306.7 806.2h.9M311.2 802.3h.9M313.1 796.7h.9M318.2 796.3h.9M308.1 800.7h.9M299.7 806.4h.9M303.4 806.6h.9M299.7 809.4h.9M313.3 802.6h.9M314.4 802.8h.9M301.1 808.0h.9M304.8 803.4h.9M310.8 797.0h.9M309.3 798.1h.9M308.4 804.1h.9M314.4 799.2h.9M317.6 792.8h.9M318.2 794.6h.9M295.0 811.7h.9M305.9 804.3h.9M315.0 800.3h.9M318.3 795.1h.9M310.0 797.3h.9M306.5 808.2h.9M302.2 805.6h.9M306.7 805.7h.9M311.3 803.9h.9M307.4 803.2h.9M303.4 808.4h.9M304.7 805.7h.9M302.3 804.7h.9M305.1 800.5h.9M301.9 808.2h.9M316.0 798.1h.9M313.1 797.3h.9M309.6 800.4h.9M309.4 801.6h.9M317.7 794.0h.9M300.6 802.8h.9M315.6 793.0h.9M300.8 798.4h.9M310.9 798.6h.9M309.9 795.9h.9M317.2 796.1h.9M310.6 803.0h.9M306.5 800.2h.9M325.7 793.7h.9M305.2 803.3h.9M304.0 802.9h.9M299.3 805.2h.9M304.4 806.2h.9M318.9 794.8h.9M294.6 805.4h.9M318.7 796.0h.9M318.5 799.1h.9M298.2 807.6h.9M318.8 798.9h.9M304.5 796.7h.9M302.1 805.6h.9M325.7 791.2h.9M314.8 791.2h.9M316.2 801.4h.9M306.7 800.1h.9M309.3 804.8h.9M314.1 796.8h.9M299.6 804.8h.9M301.0 811.9h.9M313.2 802.7h.9M312.2 805.9h.9M302.6 805.5h.9M316.8 793.7h.9M314.4 791.0h.9M308.3 804.6h.9M305.1 806.8h.9M303.4 800.8h.9M312.2 805.7h.9M309.4 799.5h.9M312.5 803.8h.9M314.0 801.6h.9M316.5 796.6h.9M299.4 807.2h.9M309.3 804.4h.9M318.1 800.7h.9M314.2 798.7h.9M301.7 809.2h.9M312.0 803.0h.9M317.6 799.5h.9M306.2 805.5h.9M295.4 808.9h.9M310.6 803.0h.9M316.6 794.7h.9M314.7 799.5h.9M308.9 802.7h.9M296.4 808.9h.9M305.3 800.7h.9M307.7 801.8h.9M304.1 808.1h.9M301.2 806.2h.9M319.6 795.3h.9M309.7 800.9h.9M303.4 803.4h.9M310.0 801.7h.9M323.4 796.0h.9M310.5 800.8h.9M312.9 795.9h.9M302.3 805.4h.9M314.8 798.0h.9M304.7 803.5h.9M310.2 801.8h.9M320.3 797.1h.9M315.9 800.2h.9M319.0 799.5h.9M317.5 796.8h.9M307.5 804.0h.9M311.0 800.9h.9M309.2 802.7h.9M316.5 800.7h.9M302.5 805.0h.9M312.6 802.3h.9M325.5 793.6h.9M309.8 802.7h.9M323.3 802.2h.9M311.5 798.7h.9M306.2 803.5h.9M309.6 803.5h.9M300.7 802.7h.9M306.7 803.7h.9M306.6 801.0h.9M310.9 802.7h.9M309.4 800.8h.9M309.3 802.5h.9M308.6 799.2h.9M296.7 806.6h.9M324.6 793.5h.9M315.2 794.5h.9M308.4 799.7h.9M307.5 804.2h.9M310.9 796.0h.9M314.6 799.7h.9M306.0 802.6h.9M317.0 797.2h.9M310.0 798.1h.9M312.2 793.8h.9M294.4 806.2h.9M310.6 798.2h.9M313.4 801.4h.9M302.5 809.2h.9M314.3 798.0h.9M301.0 810.8h.9M312.5 805.9h.9M307.0 809.8h.9M308.8 804.4h.9M310.4 804.7h.9M311.2 798.7h.9M307.3 795.0h.9M315.7 796.7h.9M309.3 806.2h.9M297.6 807.2h.9M308.1 806.4h.9M314.3 802.5h.9M310.5 800.4h.9M316.9 801.8h.9M301.8 802.6h.9M311.3 798.7h.9M306.8 801.2h.9M315.9 797.7h.9M316.3 800.7h.9M324.6 797.6h.9M297.6 805.3h.9M309.4 804.1h.9M303.8 803.3h.9M324.1 793.4h.9M308.4 799.8h.9M307.6 806.8h.9M308.8 793.1h.9M305.5 800.6h.9M299.1 807.7h.9M317.9 801.5h.9M302.1 803.5h.9M316.9 801.0h.9M316.3 798.5h.9M319.2 798.8h.9M297.6 808.8h.9M305.0 806.7h.9M301.6 805.3h.9M319.6 800.9h.9M309.4 801.2h.9M312.9 801.5h.9M316.1 796.7h.9M305.5 804.2h.9M305.2 798.6h.9M296.7 805.5h.9M306.5 804.2h.9M317.0 794.7h.9M310.5 803.1h.9M320.4 797.7h.9M316.0 798.9h.9M307.9 803.7h.9M304.3 802.4h.9M305.3 803.6h.9M308.7 800.5h.9M303.8 800.1h.9M311.4 801.3h.9M313.9 801.2h.9M301.3 806.4h.9M313.5 798.9h.9M304.0 807.1h.9M313.5 792.1h.9M307.4 801.9h.9M315.6 797.0h.9M301.9 809.8h.9M310.0 795.7h.9M304.2 805.5h.9M301.0 806.9h.9M312.3 808.0h.9M309.0 804.4h.9M295.4 808.5h.9M307.8 806.0h.9M300.7 803.3h.9M308.7 801.3h.9M316.7 796.2h.9M307.2 798.0h.9M316.9 800.1h.9M312.2 802.3h.9M310.8 804.0h.9M315.0 802.6h.9M319.4 794.5h.9M314.7 799.0h.9M319.8 792.4h.9M308.7 805.4h.9M307.8 802.9h.9M300.6 809.2h.9M312.5 798.0h.9M304.8 806.0h.9M308.7 794.8h.9M304.1 799.3h.9M309.2 801.3h.9M306.7 800.8h.9M297.4 804.0h.9M314.1 803.1h.9M314.2 803.9h.9M309.4 800.5h.9M311.7 802.7h.9M298.2 805.3h.9M317.8 799.2h.9M305.2 804.9h.9M308.9 799.7h.9M319.3 798.9h.9M305.4 806.1h.9M307.3 801.5h.9M313.7 793.1h.9M307.2 800.6h.9M305.7 800.7h.9M309.3 799.1h.9M305.8 807.9h.9M321.0 788.9h.9M318.5 789.4h.9M310.5 803.4h.9M307.4 803.3h.9M317.7 795.7h.9M307.9 806.9h.9M309.9 798.5h.9M316.7 794.0h.9M317.6 797.9h.9M311.3 799.8h.9M304.8 803.2h.9M320.0 800.3h.9M311.5 797.7h.9M312.7 800.0h.9M318.9 798.9h.9M314.9 798.4h.9M325.6 795.0h.9M312.8 799.3h.9M308.4 804.6h.9M300.6 808.5h.9M317.8 797.7h.9M297.8 804.7h.9M301.9 803.8h.9M301.9 802.7h.9M312.9 800.4h.9M299.6 802.0h.9M305.3 797.4h.9M308.7 803.4h.9M301.7 805.5h.9M312.7 801.1h.9M302.0 803.9h.9M303.3 805.4h.9M306.6 806.2h.9M327.4 797.6h.9M296.8 807.3h.9M313.3 804.0h.9M309.3 800.1h.9M321.0 792.2h.9M319.7 794.3h.9M313.7 797.9h.9M305.7 801.5h.9M313.7 802.3h.9M311.0 801.8h.9M310.3 805.3h.9M312.1 801.1h.9M315.4 797.4h.9M301.6 810.4h.9M308.8 797.6h.9M313.0 802.7h.9M298.8 808.6h.9M307.1 802.1h.9M305.9 807.6h.9M303.3 801.4h.9M317.3 799.6h.9M306.1 796.9h.9M312.2 805.4h.9M309.9 802.5h.9M306.9 802.6h.9M305.3 807.8h.9M315.7 799.4h.9M323.6 799.8h.9M302.3 807.8h.9M312.2 802.4h.9M311.9 801.8h.9M303.2 808.8h.9M311.2 802.3h.9M304.8 805.5h.9M319.5 796.8h.9M306.3 805.8h.9M323.0 793.5h.9M311.2 799.2h.9M302.8 807.4h.9M321.9 794.1h.9M303.0 805.0h.9M314.9 792.7h.9M294.0 808.4h.9M312.5 800.6h.9M310.9 801.6h.9M299.9 802.9h.9M311.4 803.4h.9M322.7 792.9h.9M309.3 801.4h.9M303.8 800.1h.9M309.3 801.4h.9M308.6 802.5h.9M297.7 809.1h.9M308.2 798.0h.9M310.5 800.8h.9M311.6 799.1h.9M316.7 796.8h.9M311.3 802.3h.9M313.2 795.4h.9M318.1 792.4h.9M304.8 800.5h.9M306.7 805.4h.9M305.5 798.5h.9M304.6 808.6h.9M308.2 800.5h.9M309.0 802.3h.9M308.6 800.3h.9M310.1 801.2h.9M311.9 799.8h.9M295.4 812.1h.9M312.5 798.7h.9M307.0 809.4h.9M306.7 800.5h.9M312.0 803.5h.9M316.8 797.0h.9M326.1 787.0h.9M314.3 794.6h.9M305.6 806.4h.9M312.0 804.1h.9M305.3 804.5h.9M302.7 808.7h.9M313.2 796.5h.9M319.0 793.4h.9M311.4 801.1h.9M322.1 796.8h.9M300.0 810.1h.9M303.0 794.6h.9M311.5 800.1h.9M315.8 800.2h.9M294.5 805.6h.9M316.3 800.1h.9M309.4 800.3h.9M312.3 803.0h.9M314.3 807.3h.9M304.3 801.6h.9M311.3 805.4h.9M312.3 801.9h.9M299.8 808.9h.9M306.4 801.2h.9M310.1 806.1h.9M305.1 807.5h.9M316.6 801.4h.9M303.4 801.2h.9M310.6 799.9h.9M305.1 800.9h.9M315.8 802.2h.9M308.9 805.5h.9M302.8 807.2h.9M304.6 804.4h.9M322.4 795.1h.9M307.0 801.4h.9M313.1 801.5h.9M316.7 790.9h.9M308.3 799.8h.9M313.5 802.2h.9M319.0 799.3h.9M309.8 800.9h.9M294.5 809.3h.9M299.4 808.4h.9M312.0 800.6h.9M314.0 798.0h.9M308.4 803.6h.9M304.1 805.3h.9M314.4 791.4h.9M308.2 799.0h.9M304.8 804.0h.9M304.8 804.4h.9M319.0 791.8h.9M314.2 796.3h.9M321.7 795.2h.9M308.8 805.2h.9M316.9 794.9h.9M303.2 802.6h.9M304.1 802.2h.9M315.9 804.4h.9M312.4 795.5h.9M313.6 798.1h.9M306.1 798.6h.9M306.7 798.6h.9M325.5 795.1h.9M312.2 799.5h.9M318.4 798.6h.9M302.1 809.4h.9M311.9 797.1h.9M306.2 802.3h.9M302.6 807.4h.9M317.5 803.3h.9M302.5 806.6h.9M306.9 798.8h.9M316.3 796.3h.9M310.3 796.2h.9M315.9 805.4h.9M299.9 810.7h.9M305.2 800.3h.9M312.3 805.1h.9M309.0 801.6h.9M299.8 807.4h.9M297.7 812.0h.9M315.9 793.0h.9M300.9 802.8h.9M311.8 802.7h.9M313.3 800.6h.9M303.0 805.1h.9M315.5 799.4h.9M303.7 803.5h.9M314.1 795.8h.9M305.9 800.3h.9M303.6 804.4h.9M321.4 797.7h.9M298.1 808.6h.9M315.7 800.1h.9M316.5 795.2h.9M312.0 800.0h.9M311.9 805.7h.9M301.4 812.4h.9M302.4 799.5h.9M311.7 799.0h.9M310.6 797.9h.9M303.3 807.4h.9M320.0 796.1h.9M297.2 803.2h.9M305.8 797.2h.9M319.4 799.3h.9M294.6 814.7h.9M314.0 794.1h.9M303.2 810.7h.9M304.0 806.3h.9M315.4 796.7h.9M316.5 795.9h.9M317.8 794.5h.9M313.9 799.7h.9M304.9 802.8h.9M310.2 805.3h.9M315.2 798.9h.9M313.2 795.2h.9M308.8 800.8h.9M325.6 796.8h.9M316.2 799.3h.9M305.2 813.0h.9M315.2 797.3h.9M310.9 803.0h.9M316.7 800.0h.9M307.0 802.3h.9M301.8 800.2h.9M315.9 802.5h.9M308.1 798.5h.9M302.2 811.3h.9M302.3 804.9h.9M314.2 799.7h.9M315.8 805.0h.9M307.8 798.2h.9M312.2 806.6h.9M300.6 806.8h.9M316.6 795.8h.9M308.4 797.3h.9M306.2 801.3h.9M305.8 803.2h.9M300.1 807.1h.9M320.4 797.2h.9M309.2 803.7h.9M306.7 806.5h.9M307.2 804.4h.9M301.4 806.4h.9M301.6 807.2h.9M300.7 808.8h.9M303.1 799.8h.9M315.6 799.2h.9M310.0 801.3h.9M304.6 800.2h.9M308.5 802.5h.9M307.7 799.9h.9M317.5 795.4h.9M304.1 805.0h.9M304.6 807.9h.9M300.8 806.6h.9M310.1 800.7h.9M318.1 793.1h.9M310.5 796.7h.9M323.4 796.6h.9M303.1 803.0h.9M310.2 800.4h.9M311.1 796.6h.9M312.5 803.9h.9M307.6 802.7h.9M301.0 805.4h.9M319.0 801.1h.9M303.2 802.7h.9M306.8 796.7h.9M318.8 792.3h.9M315.9 796.6h.9M305.0 803.7h.9M312.5 806.8h.9M325.0 796.4h.9M319.3 797.1h.9M320.9 798.4h.9M317.0 794.8h.9M297.8 806.5h.9M309.8 801.8h.9M315.6 799.9h.9M312.6 799.1h.9M300.7 805.4h.9M315.9 796.9h.9M307.4 804.2h.9M312.4 797.8h.9M314.1 799.2h.9M315.0 800.0h.9M314.1 796.3h.9M305.0 800.7h.9M311.6 795.4h.9M300.5 802.8h.9M320.2 797.9h.9M320.8 790.5h.9M315.7 796.8h.9M312.0 799.4h.9M307.9 801.0h.9M312.0 795.5h.9M311.7 801.4h.9M309.1 804.3h.9M300.5 804.7h.9M320.0 796.3h.9M318.2 799.1h.9M309.8 802.4h.9M303.9 803.1h.9M310.6 803.1h.9M313.6 798.6h.9M312.6 797.4h.9M312.0 796.2h.9M303.9 802.6h.9M308.0 806.4h.9M312.1 798.3h.9M314.0 797.0h.9M303.0 800.8h.9M320.3 792.9h.9M296.5 808.4h.9M320.9 797.3h.9M308.9 802.2h.9M307.7 803.1h.9M311.1 799.1h.9M314.6 797.2h.9M310.1 803.0h.9M314.2 799.1h.9M310.3 803.7h.9M300.1 811.7h.9M306.3 807.5h.9M303.1 808.7h.9M321.9 793.4h.9M305.6 800.7h.9M309.4 794.5h.9M300.6 804.0h.9M312.6 795.4h.9M310.8 802.7h.9M305.9 799.8h.9M319.1 794.1h.9M307.3 806.6h.9M301.2 807.2h.9M312.5 805.4h.9M319.9 796.6h.9M313.5 803.7h.9M308.9 806.5h.9M316.4 792.3h.9M318.4 797.8h.9M311.0 804.3h.9M314.7 801.7h.9M312.5 802.8h.9M300.2 807.1h.9M310.3 799.7h.9M313.8 799.0h.9M314.9 798.5h.9M313.9 800.7h.9M306.4 807.4h.9M295.8 810.8h.9M312.5 801.6h.9M310.8 804.9h.9M300.6 806.3h.9M292.4 815.9h.9M305.3 803.4h.9M322.4 787.8h.9M308.5 802.9h.9M305.6 804.1h.9M306.2 799.8h.9M290.8 810.8h.9M318.0 794.1h.9M312.1 800.8h.9M311.0 807.4h.9M321.1 797.2h.9M306.6 804.0h.9M306.4 799.1h.9M322.4 796.2h.9M304.1 803.1h.9M315.6 800.7h.9M307.6 803.7h.9M302.5 802.5h.9M292.0 803.8h.9M316.2 802.7h.9M308.2 800.9h.9M319.5 801.3h.9M320.5 795.2h.9M308.6 800.7h.9M317.4 796.7h.9M319.2 794.4h.9M312.6 796.2h.9M316.6 802.0h.9M312.8 797.2h.9M308.1 802.5h.9M302.1 809.5h.9M307.9 799.4h.9M315.8 802.3h.9M301.5 801.6h.9M306.6 807.4h.9M305.2 804.4h.9M317.0 798.4h.9M313.9 802.5h.9M304.9 803.9h.9M296.6 803.9h.9M306.1 800.7h.9M317.9 793.3h.9M300.2 803.6h.9M305.4 806.3h.9M306.9 800.0h.9M304.6 800.4h.9M305.1 803.2h.9M305.1 813.7h.9M328.7 795.9h.9M308.7 799.4h.9M303.3 800.7h.9M309.8 801.2h.9M306.1 800.7h.9M316.1 801.2h.9M315.3 801.9h.9M309.7 801.6h.9M315.3 796.0h.9M311.4 796.0h.9M316.2 794.3h.9M309.5 799.2h.9M315.5 802.6h.9M311.8 796.6h.9M305.6 800.2h.9" stroke="#fff" stroke-width="0.9" opacity="0.8" fill="none"/>
<rect x="319.9" y="766" width="45.80000000000001" height="45.700000000000045" fill="none" stroke="#fff" stroke-width="1.2"/>
<text x="331.5" y="761.3" font-size="3.9" text-anchor="start" fill="#eee" font-weight="bold" >GFP+: 14.82%</text>
<text x="324.70000000000005" y="834.3" font-size="3.7" text-anchor="middle" fill="#333" >EGFP-A-Compensated</text>
<text x="269.3" y="778.75" font-size="3.7" text-anchor="middle" fill="#333" transform="rotate(-90 269.3 778.75)" >PI-A-Compensated</text>
<text x="277.3" y="737.4000000000001" font-size="3.0" text-anchor="end" fill="#444" >10⁵</text>
<text x="282.8" y="828.3" font-size="3.0" text-anchor="middle" fill="#444" >10¹</text>
<text x="277.3" y="758.6750000000001" font-size="3.0" text-anchor="end" fill="#444" >10⁴</text>
<text x="304.25" y="828.3" font-size="3.0" text-anchor="middle" fill="#444" >10²</text>
<text x="277.3" y="779.95" font-size="3.0" text-anchor="end" fill="#444" >10³</text>
<text x="325.70000000000005" y="828.3" font-size="3.0" text-anchor="middle" fill="#444" >10³</text>
<text x="277.3" y="801.225" font-size="3.0" text-anchor="end" fill="#444" >10²</text>
<text x="347.15000000000003" y="828.3" font-size="3.0" text-anchor="middle" fill="#444" >10⁴</text>
<text x="277.3" y="822.5" font-size="3.0" text-anchor="end" fill="#444" >10¹</text>
<text x="368.6" y="828.3" font-size="3.0" text-anchor="middle" fill="#444" >10⁵</text>
<line x1="20.8" y1="820.6" x2="20.8" y2="739" stroke="#000" stroke-width="2.3" />
<polyline points="15.2,746.2 20.8,738.6 26.4,746.2" fill="none" stroke="#000" stroke-width="2.3" stroke-linejoin="miter"/>
<text x="15.5" y="777.5" font-size="14.7" text-anchor="middle" fill="#111" transform="rotate(-90 15.5 777.5)" >PI</text>
<line x1="40.4" y1="837.4" x2="124.4" y2="837.4" stroke="#000" stroke-width="2.3" />
<polyline points="116.8,831.8 124.4,837.4 116.8,843.0" fill="none" stroke="#000" stroke-width="2.3" stroke-linejoin="miter" stroke-miterlimit="10"/>
<text x="62.7" y="854.3" font-size="14.8" text-anchor="start" fill="#111" >EGFP</text>
<text x="387.6" y="578" font-size="30.7" text-anchor="start" fill="#000" >H</text>
<text x="436.6" y="586.9" font-size="15" text-anchor="start" fill="#111" >(%)</text>
<rect x="476.5" y="779.8" width="11.300000000000011" height="11.5" fill="#fff" stroke="#000" stroke-width="1"/>
<line x1="482.15" y1="779.8399999999999" x2="482.15" y2="778.4074999999999" stroke="#000" stroke-width="1.8" />
<line x1="478.34999999999997" y1="778.4074999999999" x2="485.95" y2="778.4074999999999" stroke="#000" stroke-width="2.1" />
<rect x="525.2" y="677.4" width="10.299999999999955" height="113.9" fill="#fff" stroke="#000" stroke-width="1"/>
<line x1="530.35" y1="677.3684999999999" x2="530.35" y2="676.891" stroke="#000" stroke-width="1.8" />
<line x1="526.5500000000001" y1="676.891" x2="534.15" y2="676.891" stroke="#000" stroke-width="2.1" />
<rect x="536.5" y="663.3" width="10.799999999999955" height="128.0" fill="#000" stroke="#000" stroke-width="1"/>
<line x1="541.9" y1="663.3299999999999" x2="541.9" y2="653.3024999999999" stroke="#000" stroke-width="1.8" />
<line x1="538.1" y1="653.3024999999999" x2="545.6999999999999" y2="653.3024999999999" stroke="#000" stroke-width="2.1" />
<rect x="549.1" y="767.9" width="10.399999999999977" height="23.4" fill="url(#hatch2)" stroke="#555" stroke-width="1"/>
<line x1="554.3" y1="767.9024999999999" x2="554.3" y2="766.7565" stroke="#000" stroke-width="1.8" />
<line x1="550.3" y1="766.7565" x2="558.3" y2="766.7565" stroke="#000" stroke-width="2.4" />
<rect x="573.0" y="641.6" width="10.5" height="149.7" fill="#fff" stroke="#000" stroke-width="1"/>
<line x1="578.25" y1="641.5559999999999" x2="578.25" y2="637.2584999999999" stroke="#000" stroke-width="1.8" />
<line x1="574.45" y1="637.2584999999999" x2="582.05" y2="637.2584999999999" stroke="#000" stroke-width="2.1" />
<rect x="584.5" y="656.2" width="10.600000000000023" height="135.1" fill="#000" stroke="#000" stroke-width="1"/>
<line x1="589.8" y1="656.1674999999999" x2="589.8" y2="647.5725" stroke="#000" stroke-width="1.8" />
<line x1="586.0" y1="647.5725" x2="593.5999999999999" y2="647.5725" stroke="#000" stroke-width="2.1" />
<rect x="596.1" y="756.0" width="11.0" height="35.3" fill="url(#hatch2)" stroke="#555" stroke-width="1"/>
<line x1="601.6" y1="755.9649999999999" x2="601.6" y2="754.7235" stroke="#000" stroke-width="1.8" />
<line x1="597.8000000000001" y1="754.7235" x2="605.4" y2="754.7235" stroke="#000" stroke-width="2.4" />
<line x1="465.6" y1="599.5" x2="465.6" y2="792.3" stroke="#000" stroke-width="2" />
<line x1="464.6" y1="791.3" x2="619" y2="791.3" stroke="#000" stroke-width="2" />
<line x1="456.6" y1="791.3" x2="465.6" y2="791.3" stroke="#000" stroke-width="1.6" />
<text x="454.6" y="796.3" font-size="14.8" text-anchor="end" fill="#111" >0</text>
<line x1="456.6" y1="743.55" x2="465.6" y2="743.55" stroke="#000" stroke-width="1.6" />
<text x="454.6" y="748.55" font-size="14.8" text-anchor="end" fill="#111" >5</text>
<line x1="456.6" y1="695.8" x2="465.6" y2="695.8" stroke="#000" stroke-width="1.6" />
<text x="454.6" y="700.8" font-size="14.8" text-anchor="end" fill="#111" >10</text>
<line x1="456.6" y1="648.05" x2="465.6" y2="648.05" stroke="#000" stroke-width="1.6" />
<text x="454.6" y="653.05" font-size="14.8" text-anchor="end" fill="#111" >15</text>
<line x1="456.6" y1="600.3" x2="465.6" y2="600.3" stroke="#000" stroke-width="1.6" />
<text x="454.6" y="605.3" font-size="14.8" text-anchor="end" fill="#111" >20</text>
<line x1="494.8" y1="791.3" x2="494.8" y2="796.8" stroke="#000" stroke-width="1.6" />
<line x1="542.2" y1="791.3" x2="542.2" y2="796.8" stroke="#000" stroke-width="1.6" />
<line x1="590" y1="791.3" x2="590" y2="796.8" stroke="#000" stroke-width="1.6" />
<text x="494.8" y="815.2" font-size="14.6" text-anchor="middle" fill="#111" >day1</text>
<text x="543.3" y="815.2" font-size="14.6" text-anchor="middle" fill="#111" >day5</text>
<text x="591.3" y="815.2" font-size="14.6" text-anchor="middle" fill="#111" >day7</text>
<text x="434.5" y="696.6" font-size="14.8" text-anchor="middle" fill="#111" transform="rotate(-90 434.5 696.6)" >% of GFP+ (Gata6+) cells</text>
<polyline points="529.8,619.4 529.8,615.6 554.4,615.6 554.4,627.8" fill="none" stroke="#111" stroke-width="1.2" />
<text x="542.5" y="615" font-size="15" text-anchor="middle" fill="#111" font-weight="bold" >***</text>
<text x="536" y="635.4" font-size="13.5" text-anchor="middle" fill="#111" >ns</text>
<polyline points="529.8,674.5 529.8,644.8 542.5,644.8 542.5,648.0" fill="none" stroke="#111" stroke-width="1.2" />
<polyline points="577.1,603.6 577.1,599.3 601.7,599.3 601.7,613.2" fill="none" stroke="#111" stroke-width="1.2" />
<text x="589.8" y="598.5" font-size="15" text-anchor="middle" fill="#111" font-weight="bold" >***</text>
<text x="583.4" y="619.4" font-size="13.5" text-anchor="middle" fill="#111" >ns</text>
<polyline points="577.1,632.8 577.1,629.0 589.5,629.0 589.5,641.7" fill="none" stroke="#111" stroke-width="1.2" />
<rect x="628" y="658.5" width="17.5" height="8.7" fill="#fff" stroke="#000" stroke-width="0.9"/>
<rect x="628" y="680.8" width="17.5" height="9" fill="#000" stroke="#000" stroke-width="0.9"/>
<rect x="628" y="703" width="17.5" height="8.7" fill="url(#hatch2)" stroke="#555" stroke-width="0.9"/>
<text x="650" y="667.4" font-size="14.8" text-anchor="start" fill="#111" >control</text>
<text x="650" y="690.2" font-size="14.8" text-anchor="start" fill="#111" >+FGF4</text>
<text x="650" y="712" font-size="14.8" text-anchor="start" fill="#111" >+MEKi</text>
</svg></body></html>
